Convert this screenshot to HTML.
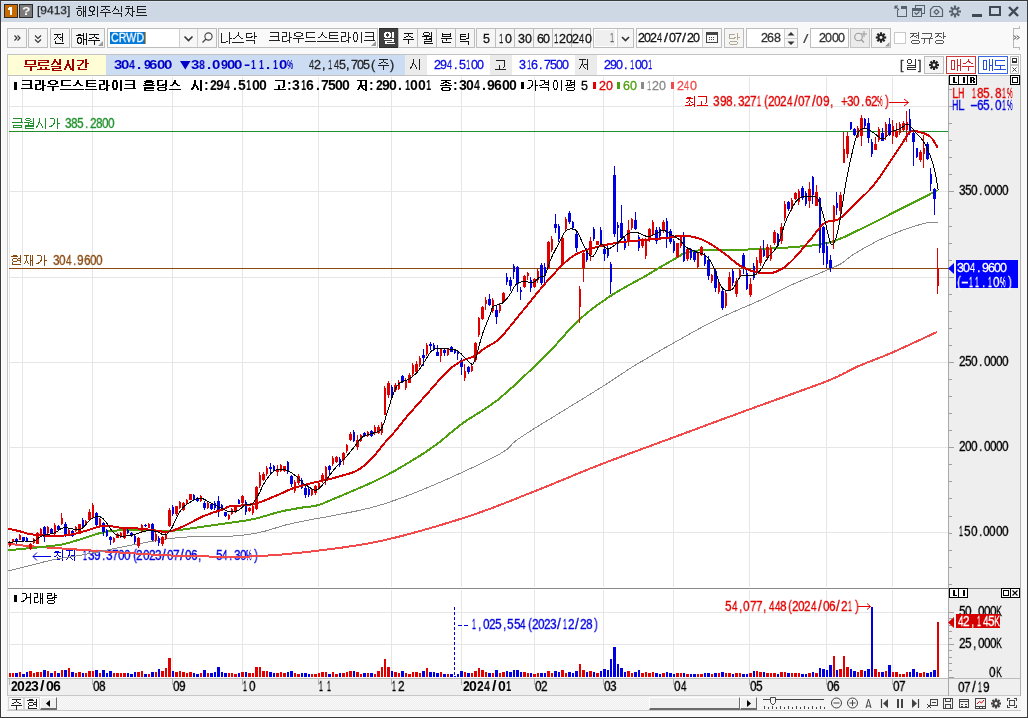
<!DOCTYPE html>
<html><head><meta charset="utf-8"><style>
html,body{margin:0;padding:0;width:1028px;height:718px;overflow:hidden;background:#f9f9f9}
.b{position:absolute}
.t{position:absolute;white-space:pre;font-family:"Liberation Sans", sans-serif;transform-origin:0 0;will-change:transform}
.tx{color:transparent;-webkit-text-stroke:0;pointer-events:none}
</style></head><body>
<div class="b" style="left:0px;top:0px;width:1028px;height:718px;background:#f9f9f9;"></div>
<div class="b" style="left:1px;top:1px;width:1026px;height:21px;background:#cdd8e4;"></div>
<div class="b" style="left:1px;top:1px;width:1026px;height:1px;background:#dbe5ef;"></div>
<div class="b" style="left:0px;top:0px;width:1028px;height:1px;background:#3a3a3a;"></div>
<div class="b" style="left:0px;top:717px;width:1028px;height:1px;background:#3a3a3a;"></div>
<div class="b" style="left:0px;top:0px;width:1px;height:718px;background:#3a3a3a;"></div>
<div class="b" style="left:1027px;top:0px;width:1px;height:718px;background:#3a3a3a;"></div>
<div class="b" style="left:1px;top:22px;width:1px;height:695px;background:#ffffff;"></div>
<div class="b" style="left:4px;top:4px;width:14px;height:14px;background:#c96a00;border:1px solid #2b2b2b;box-sizing:border-box;"></div>
<svg class="b" style="left:4px;top:4px" width="14" height="14" shape-rendering="crispEdges"><rect x="6" y="3" width="2" height="8" fill="#fff"/><rect x="4" y="4" width="2" height="2" fill="#fff"/><rect x="5" y="3" width="1" height="1" fill="#fff"/></svg>
<div class="b" style="left:19px;top:4px;width:14px;height:14px;background:#7b7b7b;border:1px solid #2b2b2b;box-sizing:border-box;"></div>
<div class="t" id="ic2" style="left:21.83px;top:6.11px;font-size:12px;line-height:12px;color:#fff;font-weight:bold;transform:scale(1.1667,0.8889);">?</div>
<div class="t" id="title" style="left:37.00px;top:5.08px;font-size:12px;line-height:12px;color:#1e1e1e;font-weight:normal;transform:scale(1.0000,0.9167);-webkit-text-stroke:0.25px #1e1e1e;">[9413]</div>
<svg class="b" style="left:0;top:0;overflow:visible" width="1" height="1"><path d="M78 6h3v1h-3zM83 6h1v1h-1zM85 6h1v1h-1zM83 7h1v1h-1zM85 7h1v1h-1zM76 8h6v1h-6zM83 8h1v1h-1zM85 8h1v1h-1zM83 9h1v1h-1zM85 9h1v1h-1zM78 10h3v1h-3zM83 10h1v1h-1zM85 10h1v1h-1zM77 11h1v1h-1zM81 11h1v1h-1zM83 11h3v1h-3zM77 12h1v1h-1zM81 12h1v1h-1zM83 12h1v1h-1zM85 12h1v1h-1zM77 13h1v1h-1zM81 13h1v1h-1zM83 13h1v1h-1zM85 13h1v1h-1zM77 14h1v1h-1zM81 14h1v1h-1zM83 14h1v1h-1zM85 14h1v1h-1zM78 15h3v1h-3zM83 15h1v1h-1zM85 15h1v1h-1zM83 16h1v1h-1zM85 16h1v1h-1zM90 6h4v1h-4zM97 6h1v1h-1zM89 7h2v1h-2zM93 7h2v1h-2zM97 7h1v1h-1zM89 8h1v1h-1zM94 8h1v1h-1zM97 8h1v1h-1zM89 9h1v1h-1zM94 9h1v1h-1zM97 9h1v1h-1zM89 10h2v1h-2zM93 10h2v1h-2zM97 10h1v1h-1zM90 11h4v1h-4zM97 11h1v1h-1zM92 12h1v1h-1zM97 12h1v1h-1zM92 13h1v1h-1zM97 13h1v1h-1zM92 14h3v1h-3zM97 14h1v1h-1zM88 15h4v1h-4zM97 15h1v1h-1zM97 16h1v1h-1zM101 6h9v1h-9zM105 7h1v1h-1zM105 8h1v1h-1zM103 9h2v1h-2zM106 9h2v1h-2zM101 10h2v1h-2zM108 10h2v1h-2zM100 12h11v1h-11zM105 13h1v1h-1zM105 14h1v1h-1zM105 15h1v1h-1zM105 16h1v1h-1zM115 6h1v1h-1zM121 6h1v1h-1zM115 7h1v1h-1zM121 7h1v1h-1zM114 8h2v1h-2zM121 8h1v1h-1zM114 9h1v1h-1zM116 9h2v1h-2zM121 9h1v1h-1zM113 10h1v1h-1zM118 10h1v1h-1zM121 10h1v1h-1zM112 11h1v1h-1zM118 11h1v1h-1zM121 11h1v1h-1zM113 13h9v1h-9zM121 14h1v1h-1zM121 15h1v1h-1zM121 16h1v1h-1zM126 6h4v1h-4zM132 6h1v1h-1zM132 7h1v1h-1zM125 8h8v1h-8zM128 9h1v1h-1zM132 9h1v1h-1zM128 10h1v1h-1zM132 10h1v1h-1zM128 11h1v1h-1zM132 11h3v1h-3zM127 12h2v1h-2zM132 12h1v1h-1zM127 13h1v1h-1zM129 13h1v1h-1zM132 13h1v1h-1zM126 14h1v1h-1zM130 14h1v1h-1zM132 14h1v1h-1zM125 15h1v1h-1zM131 15h2v1h-2zM132 16h1v1h-1zM137 6h9v1h-9zM137 7h1v1h-1zM137 8h1v1h-1zM137 9h9v1h-9zM137 10h1v1h-1zM137 11h1v1h-1zM137 12h9v1h-9zM136 15h11v1h-11z" fill="#1e1e1e" shape-rendering="crispEdges"/></svg>
<div class="t tx" style="left:76px;top:6px;font-size:12px;line-height:12px">해외주식차트</div>
<svg class="b" style="left:890px;top:0px" width="137" height="22" viewBox="890 0 137 22" shape-rendering="crispEdges">
<g fill="none" stroke="#56626e" stroke-width="1.2">
<path d="M897.5 9.5 V16.5 H906.5 V6.5 H900.5" /><path d="M900.5 7.5 H906.5" stroke-width="2"/>
<path d="M895 6 L899 10 M895 6 H898 M895 6 V9" shape-rendering="auto"/>
<rect x="915.5" y="5.5" width="9" height="8"/><rect x="912.5" y="8.5" width="9" height="8" fill="#cdd8e4"/>
<path d="M912.5 10 H921.5" stroke-width="2"/>
<path d="M914.5 12.5 L916.5 14.5 L919.5 11.5" shape-rendering="auto"/>
<path d="M930.5 16.5 V9.5 L933.5 6.5 H939.5 L942.5 9.5 V16.5 Z" shape-rendering="auto"/>
<path d="M936.5 9.5 L939 12 L936.5 14.5 L934 12 Z" shape-rendering="auto"/>
</g>
<g stroke="#56626e" stroke-width="2.2" shape-rendering="auto">
<path d="M955 5.5 V17.5 M949 11.5 H961 M950.8 7.3 L959.2 15.7 M959.2 7.3 L950.8 15.7"/>
</g>
<circle cx="955" cy="11.5" r="3.4" fill="#56626e" shape-rendering="auto"/>
<circle cx="955" cy="11.5" r="2.0" fill="#cdd8e4" shape-rendering="auto"/>
<rect x="972" y="14" width="10" height="2.5" fill="#3f4953"/>
<rect x="990" y="7" width="10" height="8" fill="none" stroke="#3f4953" stroke-width="2.4"/>
<path d="M1009 7 L1018 16 M1018 7 L1009 16" stroke="#3f4953" stroke-width="2.4" shape-rendering="auto"/>
</svg>
<div class="b" style="left:7px;top:28px;width:20px;height:20px;background:#f5f5f5;border:1px solid #bdbdbd;box-sizing:border-box;"></div>
<div class="b" style="left:28px;top:28px;width:20px;height:20px;background:#f5f5f5;border:1px solid #bdbdbd;box-sizing:border-box;"></div>
<div class="b" style="left:50px;top:28px;width:20px;height:20px;background:#f5f5f5;border:1px solid #bdbdbd;box-sizing:border-box;"></div>
<div class="b" style="left:71px;top:28px;width:34px;height:20px;background:#f5f5f5;border:1px solid #bdbdbd;box-sizing:border-box;"></div>
<svg class="b" style="left:7px;top:28px" width="20" height="20"><path d="M7.5 7.5 L10 10 L7.5 12.5 M10.5 7.5 L13 10 L10.5 12.5" fill="none" stroke="#333" stroke-width="1.1"/></svg>
<svg class="b" style="left:28px;top:28px" width="20" height="20"><path d="M7 7.5 L10 10.5 L13 7.5 M7 11.5 L10 14.5 L13 11.5" fill="none" stroke="#333" stroke-width="1.1"/></svg>
<svg class="b" style="left:0;top:0;overflow:visible" width="1" height="1"><path d="M62 33h1v1h-1zM54 34h7v1h-7zM62 34h1v1h-1zM57 35h1v1h-1zM62 35h1v1h-1zM57 36h1v1h-1zM62 36h1v1h-1zM56 37h1v1h-1zM58 37h1v1h-1zM60 37h3v1h-3zM55 38h1v1h-1zM59 38h1v1h-1zM62 38h1v1h-1zM54 39h1v1h-1zM60 39h1v1h-1zM62 39h1v1h-1zM62 40h1v1h-1zM55 41h1v1h-1zM62 41h1v1h-1zM55 42h1v1h-1zM55 43h9v1h-9z" fill="#111" shape-rendering="crispEdges"/></svg>
<div class="t tx" style="left:54px;top:33px;font-size:12px;line-height:12px">전</div>
<svg class="b" style="left:0;top:0;overflow:visible" width="1" height="1"><path d="M83 33h1v1h-1zM86 33h1v1h-1zM78 34h3v1h-3zM83 34h1v1h-1zM86 34h1v1h-1zM76 35h8v1h-8zM86 35h1v1h-1zM83 36h1v1h-1zM86 36h1v1h-1zM78 37h3v1h-3zM83 37h1v1h-1zM86 37h1v1h-1zM77 38h2v1h-2zM80 38h2v1h-2zM83 38h1v1h-1zM86 38h1v1h-1zM77 39h1v1h-1zM81 39h1v1h-1zM83 39h4v1h-4zM77 40h1v1h-1zM81 40h1v1h-1zM83 40h1v1h-1zM86 40h1v1h-1zM77 41h1v1h-1zM81 41h1v1h-1zM83 41h1v1h-1zM86 41h1v1h-1zM77 42h2v1h-2zM80 42h2v1h-2zM83 42h1v1h-1zM86 42h1v1h-1zM78 43h3v1h-3zM83 43h1v1h-1zM86 43h1v1h-1zM83 44h1v1h-1zM86 44h1v1h-1zM89 34h10v1h-10zM94 35h1v1h-1zM94 36h1v1h-1zM92 37h2v1h-2zM95 37h2v1h-2zM89 38h3v1h-3zM96 38h3v1h-3zM88 40h12v1h-12zM94 41h1v1h-1zM94 42h1v1h-1zM94 43h1v1h-1zM94 44h1v1h-1z" fill="#111" shape-rendering="crispEdges"/></svg>
<div class="t tx" style="left:76px;top:33px;font-size:12px;line-height:12px">해주</div>
<svg class="b" style="left:98px;top:41px" width="6" height="6"><path d="M5 0 V5 H0 Z" fill="#9a9a9a"/></svg>
<div class="b" style="left:107px;top:28px;width:110px;height:20px;background:#ffffff;border:1px solid #bdbdbd;box-sizing:border-box;"></div>
<div class="b" style="left:179px;top:29px;width:1px;height:18px;background:#d0d0d0;"></div>
<div class="b" style="left:197px;top:29px;width:1px;height:18px;background:#d0d0d0;"></div>
<div class="b" style="left:180px;top:29px;width:17px;height:18px;background:#f7f7f7;"></div>
<div class="b" style="left:198px;top:29px;width:18px;height:18px;background:#f7f7f7;"></div>
<div class="b" style="left:110px;top:32px;width:35px;height:12px;background:#0078d7;"></div>
<div class="t" id="crwd" style="left:111.00px;top:30.89px;font-size:12px;line-height:12px;color:#ffffff;font-weight:normal;transform:scale(0.8919,1.1111);-webkit-text-stroke:0.25px #ffffff;">CRWD</div>
<div class="b" style="left:145px;top:32px;width:1px;height:12px;background:#ff8c00;"></div>
<svg class="b" style="left:180px;top:29px" width="17" height="18"><path d="M4.5 7.5 L8.5 11.5 L12.5 7.5" fill="none" stroke="#333" stroke-width="1.6"/></svg>
<svg class="b" style="left:198px;top:29px" width="18" height="18"><circle cx="10.5" cy="7.5" r="3.6" fill="none" stroke="#444" stroke-width="1.1"/><path d="M8 10 L4.5 13.5" stroke="#444" stroke-width="1.3"/></svg>
<div class="b" style="left:218px;top:28px;width:160px;height:20px;background:#f9f9f9;border:1px solid #bdbdbd;box-sizing:border-box;"></div>
<svg class="b" style="left:0;top:0;overflow:visible" width="1" height="1"><path d="M229 32h1v1h-1zM221 33h1v1h-1zM229 33h1v1h-1zM221 34h1v1h-1zM229 34h1v1h-1zM221 35h1v1h-1zM229 35h1v1h-1zM221 36h1v1h-1zM229 36h1v1h-1zM221 37h1v1h-1zM229 37h1v1h-1zM221 38h1v1h-1zM229 38h3v1h-3zM221 39h1v1h-1zM229 39h1v1h-1zM221 40h1v1h-1zM229 40h1v1h-1zM221 41h1v1h-1zM226 41h2v1h-2zM229 41h1v1h-1zM221 42h5v1h-5zM229 42h1v1h-1zM229 43h1v1h-1zM238 32h1v1h-1zM238 33h1v1h-1zM238 34h1v1h-1zM237 35h2v1h-2zM236 36h1v1h-1zM239 36h1v1h-1zM235 37h1v1h-1zM240 37h1v1h-1zM233 38h2v1h-2zM241 38h2v1h-2zM232 42h12v1h-12zM254 32h1v1h-1zM246 33h6v1h-6zM254 33h1v1h-1zM246 34h1v1h-1zM254 34h1v1h-1zM246 35h1v1h-1zM254 35h1v1h-1zM246 36h1v1h-1zM251 36h2v1h-2zM254 36h3v1h-3zM246 37h6v1h-6zM254 37h1v1h-1zM254 38h1v1h-1zM246 40h9v1h-9zM254 41h1v1h-1zM254 42h1v1h-1zM254 43h1v1h-1z" fill="#222" shape-rendering="crispEdges"/></svg>
<div class="t tx" style="left:221px;top:32px;font-size:12px;line-height:12px">나스닥</div>
<svg class="b" style="left:0;top:0;overflow:visible" width="1" height="1"><path d="M270 32h9v1h-9zM278 33h1v1h-1zM278 34h1v1h-1zM278 35h1v1h-1zM270 36h9v1h-9zM278 37h1v1h-1zM278 38h1v1h-1zM278 39h1v1h-1zM269 40h11v1h-11zM282 32h5v1h-5zM289 32h1v1h-1zM286 33h1v1h-1zM289 33h1v1h-1zM286 34h1v1h-1zM289 34h1v1h-1zM286 35h1v1h-1zM289 35h1v1h-1zM282 36h5v1h-5zM289 36h1v1h-1zM282 37h1v1h-1zM289 37h3v1h-3zM282 38h1v1h-1zM289 38h1v1h-1zM282 39h1v1h-1zM289 39h1v1h-1zM282 40h1v1h-1zM287 40h3v1h-3zM282 41h5v1h-5zM289 41h1v1h-1zM289 42h1v1h-1zM296 32h5v1h-5zM294 33h2v1h-2zM301 33h2v1h-2zM294 34h1v1h-1zM302 34h1v1h-1zM294 35h2v1h-2zM301 35h2v1h-2zM296 36h5v1h-5zM293 38h11v1h-11zM298 39h1v1h-1zM298 40h1v1h-1zM298 41h1v1h-1zM298 42h1v1h-1zM306 32h9v1h-9zM306 33h1v1h-1zM306 34h1v1h-1zM306 35h1v1h-1zM306 36h1v1h-1zM306 37h9v1h-9zM305 41h11v1h-11zM322 32h1v1h-1zM322 33h1v1h-1zM321 34h2v1h-2zM321 35h1v1h-1zM323 35h1v1h-1zM320 36h1v1h-1zM324 36h1v1h-1zM318 37h2v1h-2zM325 37h2v1h-2zM317 41h11v1h-11zM329 32h9v1h-9zM329 33h1v1h-1zM329 34h1v1h-1zM329 35h9v1h-9zM329 36h1v1h-1zM329 37h1v1h-1zM329 38h9v1h-9zM328 41h11v1h-11zM341 32h5v1h-5zM348 32h1v1h-1zM345 33h1v1h-1zM348 33h1v1h-1zM345 34h1v1h-1zM348 34h1v1h-1zM345 35h1v1h-1zM348 35h1v1h-1zM341 36h5v1h-5zM348 36h1v1h-1zM341 37h1v1h-1zM348 37h3v1h-3zM341 38h1v1h-1zM348 38h1v1h-1zM341 39h1v1h-1zM348 39h1v1h-1zM341 40h1v1h-1zM346 40h3v1h-3zM341 41h5v1h-5zM348 41h1v1h-1zM348 42h1v1h-1zM354 32h3v1h-3zM361 32h1v1h-1zM354 33h1v1h-1zM356 33h1v1h-1zM361 33h1v1h-1zM353 34h1v1h-1zM357 34h1v1h-1zM361 34h1v1h-1zM353 35h1v1h-1zM357 35h1v1h-1zM361 35h1v1h-1zM353 36h1v1h-1zM357 36h1v1h-1zM361 36h1v1h-1zM353 37h1v1h-1zM357 37h1v1h-1zM361 37h1v1h-1zM353 38h1v1h-1zM357 38h1v1h-1zM361 38h1v1h-1zM353 39h1v1h-1zM357 39h1v1h-1zM361 39h1v1h-1zM354 40h1v1h-1zM356 40h1v1h-1zM361 40h1v1h-1zM354 41h3v1h-3zM361 41h1v1h-1zM361 42h1v1h-1zM365 32h9v1h-9zM373 33h1v1h-1zM373 34h1v1h-1zM373 35h1v1h-1zM365 36h9v1h-9zM373 37h1v1h-1zM373 38h1v1h-1zM373 39h1v1h-1zM364 40h11v1h-11z" fill="#222" shape-rendering="crispEdges"/></svg>
<div class="t tx" style="left:269px;top:32px;font-size:12px;line-height:12px">크라우드스트라이크</div>
<svg class="b" style="left:371px;top:41px" width="6" height="6"><path d="M5 0 V5 H0 Z" fill="#9a9a9a"/></svg>
<div class="b" style="left:379px;top:28px;width:20px;height:20px;background:#404040;border:1px solid #2e2e2e;box-sizing:border-box;"></div>
<svg class="b" style="left:0;top:0;overflow:visible" width="1" height="1"><path d="M385 32h5v1h-5zM392 32h2v1h-2zM384 33h3v1h-3zM388 33h3v1h-3zM392 33h2v1h-2zM384 34h2v1h-2zM389 34h2v1h-2zM392 34h2v1h-2zM384 35h2v1h-2zM389 35h2v1h-2zM392 35h2v1h-2zM384 36h3v1h-3zM388 36h3v1h-3zM392 36h2v1h-2zM385 37h5v1h-5zM392 37h2v1h-2zM384 39h10v1h-10zM392 40h2v1h-2zM385 41h9v1h-9zM385 42h2v1h-2zM385 43h10v1h-10z" fill="#ffffff" shape-rendering="crispEdges"/></svg>
<div class="t tx" style="left:384px;top:32px;font-size:12px;line-height:12px">일</div>
<div class="b" style="left:398px;top:28px;width:20px;height:20px;background:#f5f5f5;border:1px solid #bdbdbd;box-sizing:border-box;"></div>
<svg class="b" style="left:0;top:0;overflow:visible" width="1" height="1"><path d="M404 33h9v1h-9zM408 34h1v1h-1zM408 35h1v1h-1zM406 36h2v1h-2zM409 36h2v1h-2zM404 37h2v1h-2zM411 37h2v1h-2zM403 39h11v1h-11zM408 40h1v1h-1zM408 41h1v1h-1zM408 42h1v1h-1zM408 43h1v1h-1z" fill="#111" shape-rendering="crispEdges"/></svg>
<div class="t tx" style="left:403px;top:33px;font-size:12px;line-height:12px">주</div>
<div class="b" style="left:417px;top:28px;width:20px;height:20px;background:#f5f5f5;border:1px solid #bdbdbd;box-sizing:border-box;"></div>
<svg class="b" style="left:0;top:0;overflow:visible" width="1" height="1"><path d="M424 32h5v1h-5zM431 32h1v1h-1zM423 33h1v1h-1zM429 33h1v1h-1zM431 33h1v1h-1zM423 34h1v1h-1zM429 34h1v1h-1zM431 34h1v1h-1zM424 35h5v1h-5zM431 35h1v1h-1zM422 36h10v1h-10zM426 37h1v1h-1zM431 37h1v1h-1zM426 38h1v1h-1zM429 38h3v1h-3zM424 39h8v1h-8zM431 40h1v1h-1zM424 41h8v1h-8zM424 42h1v1h-1zM424 43h9v1h-9z" fill="#111" shape-rendering="crispEdges"/></svg>
<div class="t tx" style="left:422px;top:32px;font-size:12px;line-height:12px">월</div>
<div class="b" style="left:436px;top:28px;width:20px;height:20px;background:#f5f5f5;border:1px solid #bdbdbd;box-sizing:border-box;"></div>
<svg class="b" style="left:0;top:0;overflow:visible" width="1" height="1"><path d="M442 33h1v1h-1zM450 33h1v1h-1zM442 34h9v1h-9zM442 35h1v1h-1zM450 35h1v1h-1zM442 36h9v1h-9zM441 38h11v1h-11zM446 39h1v1h-1zM442 40h1v1h-1zM446 40h1v1h-1zM442 41h1v1h-1zM442 42h9v1h-9z" fill="#111" shape-rendering="crispEdges"/></svg>
<div class="t tx" style="left:441px;top:33px;font-size:12px;line-height:12px">분</div>
<div class="b" style="left:455px;top:28px;width:20px;height:20px;background:#f5f5f5;border:1px solid #bdbdbd;box-sizing:border-box;"></div>
<svg class="b" style="left:0;top:0;overflow:visible" width="1" height="1"><path d="M468 33h1v1h-1zM460 34h6v1h-6zM468 34h1v1h-1zM460 35h1v1h-1zM468 35h1v1h-1zM460 36h6v1h-6zM468 36h1v1h-1zM460 37h1v1h-1zM468 37h1v1h-1zM460 38h1v1h-1zM466 38h3v1h-3zM460 39h6v1h-6zM460 41h9v1h-9zM468 42h1v1h-1zM468 43h1v1h-1zM468 44h1v1h-1z" fill="#111" shape-rendering="crispEdges"/></svg>
<div class="t tx" style="left:460px;top:33px;font-size:12px;line-height:12px">틱</div>
<div class="b" style="left:476px;top:28px;width:20px;height:20px;background:#f5f5f5;border:1px solid #bdbdbd;box-sizing:border-box;"></div>
<div class="b" style="left:495px;top:28px;width:20px;height:20px;background:#f5f5f5;border:1px solid #bdbdbd;box-sizing:border-box;"></div>
<div class="b" style="left:514px;top:28px;width:20px;height:20px;background:#f5f5f5;border:1px solid #bdbdbd;box-sizing:border-box;"></div>
<div class="b" style="left:533px;top:28px;width:20px;height:20px;background:#f5f5f5;border:1px solid #bdbdbd;box-sizing:border-box;"></div>
<div class="b" style="left:552px;top:28px;width:20px;height:20px;background:#f5f5f5;border:1px solid #bdbdbd;box-sizing:border-box;"></div>
<div class="b" style="left:571px;top:28px;width:20px;height:20px;background:#f5f5f5;border:1px solid #bdbdbd;box-sizing:border-box;"></div>
<div class="t" style="left:483.00px;top:33.00px;font-size:12.5px;line-height:12.5px;color:#111;font-weight:normal;transform:scaleX(1.0000);-webkit-text-stroke:0.3px #111;">5</div>
<div class="t tx" style="left:484px;top:34px;font-size:12px;line-height:12px">5</div>
<div class="t" style="left:499.20px;top:33.00px;font-size:12.5px;line-height:12.5px;color:#111;font-weight:normal;transform:scaleX(0.6000);-webkit-text-stroke:0.3px #111;">1</div>
<div class="t" style="left:505.00px;top:33.00px;font-size:12.5px;line-height:12.5px;color:#111;font-weight:normal;transform:scaleX(1.0000);-webkit-text-stroke:0.3px #111;">0</div>
<div class="t tx" style="left:500px;top:34px;font-size:12px;line-height:12px">10</div>
<div class="t" style="left:518.00px;top:33.00px;font-size:12.5px;line-height:12.5px;color:#111;font-weight:normal;transform:scaleX(1.0000);-webkit-text-stroke:0.3px #111;">3</div>
<div class="t" style="left:524.55px;top:33.00px;font-size:12.5px;line-height:12.5px;color:#111;font-weight:normal;transform:scaleX(1.0000);-webkit-text-stroke:0.3px #111;">0</div>
<div class="t tx" style="left:519px;top:34px;font-size:12px;line-height:12px">30</div>
<div class="t" style="left:537.00px;top:33.00px;font-size:12.5px;line-height:12.5px;color:#111;font-weight:normal;transform:scaleX(1.0000);-webkit-text-stroke:0.3px #111;">6</div>
<div class="t" style="left:543.00px;top:33.00px;font-size:12.5px;line-height:12.5px;color:#111;font-weight:normal;transform:scaleX(1.0000);-webkit-text-stroke:0.3px #111;">0</div>
<div class="t tx" style="left:538px;top:34px;font-size:12px;line-height:12px">60</div>
<div class="t" style="left:554.34px;top:33.00px;font-size:12.5px;line-height:12.5px;color:#111;font-weight:normal;transform:scaleX(0.6000);-webkit-text-stroke:0.3px #111;">1</div>
<div class="t" style="left:559.31px;top:33.00px;font-size:12.5px;line-height:12.5px;color:#111;font-weight:normal;transform:scaleX(1.0000);-webkit-text-stroke:0.3px #111;">2</div>
<div class="t" style="left:565.69px;top:33.00px;font-size:12.5px;line-height:12.5px;color:#111;font-weight:normal;transform:scaleX(1.0000);-webkit-text-stroke:0.3px #111;">0</div>
<div class="t tx" style="left:555px;top:34px;font-size:12px;line-height:12px">120</div>
<div class="t" style="left:572.00px;top:33.00px;font-size:12.5px;line-height:12.5px;color:#111;font-weight:normal;transform:scaleX(1.0000);-webkit-text-stroke:0.3px #111;">2</div>
<div class="t" style="left:579.35px;top:33.00px;font-size:12.5px;line-height:12.5px;color:#111;font-weight:normal;transform:scaleX(0.7143);-webkit-text-stroke:0.3px #111;">4</div>
<div class="t" style="left:584.71px;top:33.00px;font-size:12.5px;line-height:12.5px;color:#111;font-weight:normal;transform:scaleX(1.0000);-webkit-text-stroke:0.3px #111;">0</div>
<div class="t tx" style="left:573px;top:34px;font-size:12px;line-height:12px">240</div>
<div class="b" style="left:593px;top:28px;width:41px;height:20px;background:#ffffff;border:1px solid #bdbdbd;box-sizing:border-box;"></div>
<div class="b" style="left:595px;top:30px;width:20px;height:16px;background:#efefef;"></div>
<div class="b" style="left:617px;top:29px;width:1px;height:18px;background:#d0d0d0;"></div>
<div class="b" style="left:618px;top:29px;width:15px;height:18px;background:#f5f5f5;"></div>
<div class="t" id="combo1" style="left:610.40px;top:32.00px;font-size:12px;line-height:12px;color:#666;font-weight:normal;transform:scale(0.6000,1.0000);-webkit-text-stroke:0.25px #666;">1</div>
<svg class="b" style="left:618px;top:29px" width="15" height="18"><path d="M4 8 L7.5 11.5 L11 8" fill="none" stroke="#333" stroke-width="1.6"/></svg>
<div class="b" style="left:636px;top:28px;width:86px;height:20px;background:#ffffff;border:1px solid #bdbdbd;box-sizing:border-box;"></div>
<div class="b" style="left:702px;top:29px;width:1px;height:18px;background:#d0d0d0;"></div>
<div class="b" style="left:703px;top:29px;width:18px;height:18px;background:#f7f7f7;"></div>
<div class="t" style="left:638.00px;top:32.00px;font-size:12.5px;line-height:12.5px;color:#111;font-weight:normal;transform:scaleX(1.0000);-webkit-text-stroke:0.3px #111;">2</div>
<div class="t" style="left:644.10px;top:32.00px;font-size:12.5px;line-height:12.5px;color:#111;font-weight:normal;transform:scaleX(1.0000);-webkit-text-stroke:0.3px #111;">0</div>
<div class="t" style="left:650.20px;top:32.00px;font-size:12.5px;line-height:12.5px;color:#111;font-weight:normal;transform:scaleX(1.0000);-webkit-text-stroke:0.3px #111;">2</div>
<div class="t" style="left:657.31px;top:32.00px;font-size:12.5px;line-height:12.5px;color:#111;font-weight:normal;transform:scaleX(0.7143);-webkit-text-stroke:0.3px #111;">4</div>
<div class="t" style="left:664.18px;top:32.00px;font-size:12.5px;line-height:12.5px;color:#111;font-weight:normal;transform:scaleX(1.1500);-webkit-text-stroke:0.3px #111;">/</div>
<div class="t" style="left:668.51px;top:32.00px;font-size:12.5px;line-height:12.5px;color:#111;font-weight:normal;transform:scaleX(1.0000);-webkit-text-stroke:0.3px #111;">0</div>
<div class="t" style="left:674.61px;top:32.00px;font-size:12.5px;line-height:12.5px;color:#111;font-weight:normal;transform:scaleX(1.0000);-webkit-text-stroke:0.3px #111;">7</div>
<div class="t" style="left:682.49px;top:32.00px;font-size:12.5px;line-height:12.5px;color:#111;font-weight:normal;transform:scaleX(1.1500);-webkit-text-stroke:0.3px #111;">/</div>
<div class="t" style="left:686.81px;top:32.00px;font-size:12.5px;line-height:12.5px;color:#111;font-weight:normal;transform:scaleX(1.0000);-webkit-text-stroke:0.3px #111;">2</div>
<div class="t" style="left:692.92px;top:32.00px;font-size:12.5px;line-height:12.5px;color:#111;font-weight:normal;transform:scaleX(1.0000);-webkit-text-stroke:0.3px #111;">0</div>
<div class="t tx" style="left:639px;top:33px;font-size:12px;line-height:12px">2024/07/20</div>
<svg class="b" style="left:706px;top:32px" width="12" height="11" shape-rendering="crispEdges"><rect x="0.5" y="0.5" width="11" height="10" fill="none" stroke="#444"/><rect x="1" y="1" width="10" height="2" fill="#444"/><g fill="#444"><rect x="3" y="5" width="1" height="1"/><rect x="5" y="5" width="1" height="1"/><rect x="7" y="5" width="1" height="1"/><rect x="3" y="7" width="1" height="1"/><rect x="5" y="7" width="1" height="1"/><rect x="7" y="7" width="1" height="1"/></g></svg>
<div class="b" style="left:724px;top:28px;width:20px;height:20px;background:#f5f5f5;border:1px solid #bdbdbd;box-sizing:border-box;"></div>
<svg class="b" style="left:0;top:0;overflow:visible" width="1" height="1"><path d="M737 33h1v1h-1zM729 34h6v1h-6zM737 34h1v1h-1zM729 35h1v1h-1zM737 35h1v1h-1zM729 36h1v1h-1zM737 36h1v1h-1zM729 37h1v1h-1zM734 37h2v1h-2zM737 37h3v1h-3zM729 38h6v1h-6zM737 38h1v1h-1zM737 39h1v1h-1zM730 41h7v1h-7zM729 42h1v1h-1zM737 42h1v1h-1zM729 43h1v1h-1zM737 43h1v1h-1zM730 44h7v1h-7z" fill="#b0a890" shape-rendering="crispEdges"/></svg>
<div class="t tx" style="left:729px;top:33px;font-size:12px;line-height:12px">당</div>
<div class="b" style="left:746px;top:28px;width:52px;height:20px;background:#ffffff;border:1px solid #bdbdbd;box-sizing:border-box;"></div>
<div class="b" style="left:784px;top:29px;width:1px;height:18px;background:#d0d0d0;"></div>
<div class="b" style="left:785px;top:29px;width:12px;height:18px;background:#f7f7f7;"></div>
<div class="b" style="left:785px;top:38px;width:12px;height:1px;background:#d0d0d0;"></div>
<div class="t" style="left:761.00px;top:32.00px;font-size:12.5px;line-height:12.5px;color:#333;font-weight:normal;transform:scaleX(1.0000);-webkit-text-stroke:0.3px #333;">2</div>
<div class="t" style="left:767.35px;top:32.00px;font-size:12.5px;line-height:12.5px;color:#333;font-weight:normal;transform:scaleX(1.0000);-webkit-text-stroke:0.3px #333;">6</div>
<div class="t" style="left:773.71px;top:32.00px;font-size:12.5px;line-height:12.5px;color:#333;font-weight:normal;transform:scaleX(1.0000);-webkit-text-stroke:0.3px #333;">8</div>
<div class="t tx" style="left:762px;top:33px;font-size:12px;line-height:12px">268</div>
<svg class="b" style="left:785px;top:29px" width="12" height="18"><path d="M2.5 6.5 L6 3 L9.5 6.5 Z M2.5 12.5 L6 16 L9.5 12.5 Z" fill="#333"/></svg>
<div class="t" id="slash" style="left:803.00px;top:33.00px;font-size:12px;line-height:12px;color:#444;font-weight:normal;transform:scale(1.6667,1.0000);">/</div>
<div class="b" style="left:810px;top:28px;width:39px;height:20px;background:#ffffff;border:1px solid #bdbdbd;box-sizing:border-box;"></div>
<div class="t" style="left:819.00px;top:32.00px;font-size:12.5px;line-height:12.5px;color:#333;font-weight:normal;transform:scaleX(1.0000);-webkit-text-stroke:0.3px #333;">2</div>
<div class="t" style="left:825.26px;top:32.00px;font-size:12.5px;line-height:12.5px;color:#333;font-weight:normal;transform:scaleX(1.0000);-webkit-text-stroke:0.3px #333;">0</div>
<div class="t" style="left:831.52px;top:32.00px;font-size:12.5px;line-height:12.5px;color:#333;font-weight:normal;transform:scaleX(1.0000);-webkit-text-stroke:0.3px #333;">0</div>
<div class="t" style="left:837.78px;top:32.00px;font-size:12.5px;line-height:12.5px;color:#333;font-weight:normal;transform:scaleX(1.0000);-webkit-text-stroke:0.3px #333;">0</div>
<div class="t tx" style="left:820px;top:33px;font-size:12px;line-height:12px">2000</div>
<div class="b" style="left:850px;top:28px;width:20px;height:20px;background:#ebebeb;border:1px solid #c4c4c4;box-sizing:border-box;"></div>
<svg class="b" style="left:850px;top:28px" width="20" height="20"><circle cx="8.5" cy="9" r="3.8" fill="none" stroke="#9a9a9a" stroke-width="1.1"/><path d="M11 11.5 L14 14.5" stroke="#9a9a9a" stroke-width="1.2"/><path d="M14 3 V9 M11 6 H17" stroke="#9a9a9a" stroke-width="1"/></svg>
<div class="b" style="left:871px;top:28px;width:20px;height:20px;background:#f5f5f5;border:1px solid #bdbdbd;box-sizing:border-box;"></div>
<svg class="b" style="left:871px;top:28px" width="20" height="20"><g stroke="#222" stroke-width="2.2" stroke-linecap="butt"><path d="M4.80 9.50 L15.20 9.50"/><path d="M6.32 5.82 L13.68 13.18"/><path d="M10.00 4.30 L10.00 14.70"/><path d="M13.68 5.82 L6.32 13.18"/></g><circle cx="10" cy="9.5" r="3.22" fill="#222"/><circle cx="10" cy="9.5" r="1.46" fill="#f4f4f4"/><path d="M18.5 14 V18.5 H14 Z" fill="#9a9a9a"/></svg>
<div class="b" style="left:894px;top:32px;width:12px;height:12px;background:#ffffff;border:1px solid #c8c8c8;box-sizing:border-box;"></div>
<svg class="b" style="left:0;top:0;overflow:visible" width="1" height="1"><path d="M918 32h1v1h-1zM910 33h7v1h-7zM918 33h1v1h-1zM913 34h1v1h-1zM918 34h1v1h-1zM912 35h2v1h-2zM916 35h3v1h-3zM911 36h2v1h-2zM914 36h2v1h-2zM918 36h1v1h-1zM910 37h1v1h-1zM916 37h1v1h-1zM918 37h1v1h-1zM918 38h1v1h-1zM912 40h7v1h-7zM911 41h1v1h-1zM919 41h1v1h-1zM911 42h1v1h-1zM919 42h1v1h-1zM912 43h7v1h-7zM922 33h10v1h-10zM931 34h1v1h-1zM931 35h1v1h-1zM931 36h1v1h-1zM930 37h1v1h-1zM921 38h12v1h-12zM924 39h1v1h-1zM929 39h1v1h-1zM924 40h1v1h-1zM929 40h1v1h-1zM924 41h1v1h-1zM929 41h1v1h-1zM924 42h1v1h-1zM929 42h1v1h-1zM923 43h1v1h-1zM929 43h1v1h-1zM943 32h1v1h-1zM935 33h7v1h-7zM943 33h1v1h-1zM938 34h1v1h-1zM943 34h1v1h-1zM937 35h2v1h-2zM943 35h1v1h-1zM936 36h2v1h-2zM939 36h2v1h-2zM943 36h3v1h-3zM935 37h1v1h-1zM941 37h1v1h-1zM943 37h1v1h-1zM943 38h1v1h-1zM936 40h7v1h-7zM935 41h1v1h-1zM943 41h1v1h-1zM935 42h1v1h-1zM943 42h1v1h-1zM936 43h7v1h-7z" fill="#555" shape-rendering="crispEdges"/></svg>
<div class="t tx" style="left:910px;top:32px;font-size:12px;line-height:12px">정규장</div>
<svg class="b" style="left:1012px;top:26px" width="10" height="24" shape-rendering="crispEdges"><path d="M7.5 0 V2.5 H1.5 V21.5 H7.5 V24" fill="none" stroke="#b8b8b8"/></svg>
<svg class="b" style="left:1013px;top:34px" width="8" height="8"><path d="M1 1.5 L3 3.5 L1 5.5 M4 1.5 L6 3.5 L4 5.5" fill="none" stroke="#222" stroke-width="1"/></svg>
<div class="b" style="left:7px;top:54px;width:1014px;height:22px;background:#ffffff;border:1px solid #c2c2c2;box-sizing:border-box;"></div>
<div class="b" style="left:8px;top:55px;width:98px;height:20px;background:#fffdd5;"></div>
<div class="b" style="left:106px;top:55px;width:299px;height:20px;background:#ccdcf2;"></div>
<div class="b" style="left:405px;top:55px;width:22px;height:20px;background:#ebebeb;"></div>
<div class="b" style="left:490px;top:55px;width:22px;height:20px;background:#ebebeb;"></div>
<div class="b" style="left:575px;top:55px;width:22px;height:20px;background:#ebebeb;"></div>
<svg class="b" style="left:0;top:0;overflow:visible" width="1" height="1"><path d="M25 60h11v1h-11zM25 61h2v1h-2zM34 61h2v1h-2zM25 62h2v1h-2zM34 62h2v1h-2zM25 63h2v1h-2zM34 63h2v1h-2zM25 64h11v1h-11zM24 66h13v1h-13zM30 67h2v1h-2zM30 68h2v1h-2zM30 69h2v1h-2zM30 70h2v1h-2zM38 60h11v1h-11zM47 61h2v1h-2zM38 62h11v1h-11zM38 63h2v1h-2zM38 64h2v1h-2zM38 65h11v1h-11zM40 67h2v1h-2zM45 67h2v1h-2zM40 68h2v1h-2zM45 68h2v1h-2zM37 69h13v1h-13zM54 59h2v1h-2zM59 59h2v1h-2zM54 60h2v1h-2zM59 60h2v1h-2zM53 61h4v1h-4zM59 61h2v1h-2zM53 62h2v1h-2zM56 62h2v1h-2zM59 62h2v1h-2zM52 63h2v1h-2zM57 63h4v1h-4zM51 64h2v1h-2zM57 64h4v1h-4zM51 66h10v1h-10zM59 67h2v1h-2zM52 68h9v1h-9zM52 69h2v1h-2zM52 70h10v1h-10zM72 59h2v1h-2zM67 60h2v1h-2zM72 60h2v1h-2zM67 61h2v1h-2zM72 61h2v1h-2zM67 62h2v1h-2zM72 62h2v1h-2zM67 63h2v1h-2zM72 63h2v1h-2zM66 64h4v1h-4zM72 64h2v1h-2zM66 65h4v1h-4zM72 65h2v1h-2zM65 66h2v1h-2zM69 66h2v1h-2zM72 66h2v1h-2zM65 67h2v1h-2zM69 67h2v1h-2zM72 67h2v1h-2zM64 68h2v1h-2zM70 68h4v1h-4zM64 69h2v1h-2zM70 69h4v1h-4zM72 70h2v1h-2zM85 59h2v1h-2zM77 60h7v1h-7zM85 60h2v1h-2zM82 61h2v1h-2zM85 61h2v1h-2zM82 62h2v1h-2zM85 62h2v1h-2zM81 63h2v1h-2zM85 63h4v1h-4zM80 64h2v1h-2zM85 64h2v1h-2zM77 65h4v1h-4zM85 65h2v1h-2zM85 66h2v1h-2zM78 67h2v1h-2zM85 67h2v1h-2zM78 68h2v1h-2zM78 69h9v1h-9z" fill="#a00000" shape-rendering="crispEdges"/></svg>
<div class="t tx" style="left:24px;top:59px;font-size:12px;line-height:12px">무료실시간</div>
<div class="t" style="left:113.80px;top:59.00px;font-size:12.5px;line-height:12.5px;color:#0000c8;font-weight:bold;transform:scaleX(1.2000);">3</div>
<div class="t" style="left:120.93px;top:59.00px;font-size:12.5px;line-height:12.5px;color:#0000c8;font-weight:bold;transform:scaleX(1.2000);">0</div>
<div class="t" style="left:129.25px;top:59.00px;font-size:12.5px;line-height:12.5px;color:#0000c8;font-weight:bold;transform:scaleX(0.8571);">4</div>
<div class="t" style="left:136.98px;top:59.00px;font-size:12.5px;line-height:12.5px;color:#0000c8;font-weight:bold;transform:scaleX(1.2000);">.</div>
<div class="t" style="left:143.51px;top:59.00px;font-size:12.5px;line-height:12.5px;color:#0000c8;font-weight:bold;transform:scaleX(1.0000);">9</div>
<div class="t" style="left:149.44px;top:59.00px;font-size:12.5px;line-height:12.5px;color:#0000c8;font-weight:bold;transform:scaleX(1.2000);">6</div>
<div class="t" style="left:156.56px;top:59.00px;font-size:12.5px;line-height:12.5px;color:#0000c8;font-weight:bold;transform:scaleX(1.2000);">0</div>
<div class="t" style="left:163.69px;top:59.00px;font-size:12.5px;line-height:12.5px;color:#0000c8;font-weight:bold;transform:scaleX(1.2000);">0</div>
<div class="t tx" style="left:115px;top:60px;font-size:12px;line-height:12px">304.9600</div>
<svg class="b" style="left:180px;top:61px" width="11" height="9"><path d="M0 0 H10.5 L5.25 8.5 Z" fill="#0000c8"/></svg>
<div class="t" style="left:190.80px;top:59.00px;font-size:12.5px;line-height:12.5px;color:#0000c8;font-weight:bold;transform:scaleX(1.2000);">3</div>
<div class="t" style="left:199.15px;top:59.00px;font-size:12.5px;line-height:12.5px;color:#0000c8;font-weight:bold;transform:scaleX(0.8571);">8</div>
<div class="t" style="left:206.89px;top:59.00px;font-size:12.5px;line-height:12.5px;color:#0000c8;font-weight:bold;transform:scaleX(1.2000);">.</div>
<div class="t" style="left:212.24px;top:59.00px;font-size:12.5px;line-height:12.5px;color:#0000c8;font-weight:bold;transform:scaleX(1.2000);">0</div>
<div class="t" style="left:220.58px;top:59.00px;font-size:12.5px;line-height:12.5px;color:#0000c8;font-weight:bold;transform:scaleX(1.0000);">9</div>
<div class="t" style="left:226.53px;top:59.00px;font-size:12.5px;line-height:12.5px;color:#0000c8;font-weight:bold;transform:scaleX(1.2000);">0</div>
<div class="t" style="left:233.68px;top:59.00px;font-size:12.5px;line-height:12.5px;color:#0000c8;font-weight:bold;transform:scaleX(1.2000);">0</div>
<div class="t tx" style="left:192px;top:60px;font-size:12px;line-height:12px">38.0900</div>
<div class="t" style="left:244.00px;top:59.00px;font-size:12.5px;line-height:12.5px;color:#0000c8;font-weight:bold;transform:scaleX(1.5000);">-</div>
<div class="t" style="left:251.48px;top:59.00px;font-size:12.5px;line-height:12.5px;color:#0000c8;font-weight:bold;transform:scaleX(0.6667);">1</div>
<div class="t" style="left:258.62px;top:59.00px;font-size:12.5px;line-height:12.5px;color:#0000c8;font-weight:bold;transform:scaleX(0.6667);">1</div>
<div class="t" style="left:266.04px;top:59.00px;font-size:12.5px;line-height:12.5px;color:#0000c8;font-weight:bold;transform:scaleX(1.2000);">.</div>
<div class="t" style="left:272.92px;top:59.00px;font-size:12.5px;line-height:12.5px;color:#0000c8;font-weight:bold;transform:scaleX(0.6667);">1</div>
<div class="t" style="left:278.53px;top:59.00px;font-size:12.5px;line-height:12.5px;color:#0000c8;font-weight:bold;transform:scaleX(1.2000);">0</div>
<div class="t" style="left:286.88px;top:59.00px;font-size:12.5px;line-height:12.5px;color:#0000c8;font-weight:bold;transform:scaleX(0.5455);">%</div>
<div class="t tx" style="left:244px;top:60px;font-size:12px;line-height:12px">-11.10%</div>
<div class="t" style="left:309.00px;top:59.00px;font-size:12.5px;line-height:12.5px;color:#222;font-weight:normal;transform:scaleX(0.7143);-webkit-text-stroke:0.3px #222;">4</div>
<div class="t" style="left:314.15px;top:59.00px;font-size:12.5px;line-height:12.5px;color:#222;font-weight:normal;transform:scaleX(1.0000);-webkit-text-stroke:0.3px #222;">2</div>
<div class="t" style="left:321.79px;top:59.00px;font-size:12.5px;line-height:12.5px;color:#222;font-weight:normal;transform:scaleX(1.0000);-webkit-text-stroke:0.3px #222;">,</div>
<div class="t" style="left:327.84px;top:59.00px;font-size:12.5px;line-height:12.5px;color:#222;font-weight:normal;transform:scaleX(0.6000);-webkit-text-stroke:0.3px #222;">1</div>
<div class="t" style="left:333.59px;top:59.00px;font-size:12.5px;line-height:12.5px;color:#222;font-weight:normal;transform:scaleX(0.7143);-webkit-text-stroke:0.3px #222;">4</div>
<div class="t" style="left:338.73px;top:59.00px;font-size:12.5px;line-height:12.5px;color:#222;font-weight:normal;transform:scaleX(1.0000);-webkit-text-stroke:0.3px #222;">5</div>
<div class="t" style="left:346.38px;top:59.00px;font-size:12.5px;line-height:12.5px;color:#222;font-weight:normal;transform:scaleX(1.0000);-webkit-text-stroke:0.3px #222;">,</div>
<div class="t" style="left:351.02px;top:59.00px;font-size:12.5px;line-height:12.5px;color:#222;font-weight:normal;transform:scaleX(1.0000);-webkit-text-stroke:0.3px #222;">7</div>
<div class="t" style="left:357.17px;top:59.00px;font-size:12.5px;line-height:12.5px;color:#222;font-weight:normal;transform:scaleX(1.0000);-webkit-text-stroke:0.3px #222;">0</div>
<div class="t" style="left:363.32px;top:59.00px;font-size:12.5px;line-height:12.5px;color:#222;font-weight:normal;transform:scaleX(1.0000);-webkit-text-stroke:0.3px #222;">5</div>
<div class="t" style="left:371.46px;top:59.00px;font-size:12.5px;line-height:12.5px;color:#222;font-weight:normal;transform:scaleX(1.0000);-webkit-text-stroke:0.3px #222;">(</div>
<div class="t" style="left:389.90px;top:59.00px;font-size:12.5px;line-height:12.5px;color:#222;font-weight:normal;transform:scaleX(1.0000);-webkit-text-stroke:0.3px #222;">)</div>
<svg class="b" style="left:0;top:0;overflow:visible" width="1" height="1"><path d="M379 59h9v1h-9zM383 60h1v1h-1zM383 61h1v1h-1zM381 62h2v1h-2zM384 62h2v1h-2zM379 63h2v1h-2zM386 63h2v1h-2zM378 65h11v1h-11zM383 66h1v1h-1zM383 67h1v1h-1zM383 68h1v1h-1zM383 69h1v1h-1z" fill="#222" shape-rendering="crispEdges"/></svg>
<div class="t tx" style="left:309px;top:59px;font-size:12px;line-height:12px">42,145,705(주)</div>
<svg class="b" style="left:0;top:0;overflow:visible" width="1" height="1"><path d="M413 59h1v1h-1zM419 59h1v1h-1zM413 60h1v1h-1zM419 60h1v1h-1zM413 61h1v1h-1zM419 61h1v1h-1zM413 62h1v1h-1zM419 62h1v1h-1zM412 63h2v1h-2zM419 63h1v1h-1zM412 64h1v1h-1zM414 64h1v1h-1zM419 64h1v1h-1zM412 65h1v1h-1zM415 65h1v1h-1zM419 65h1v1h-1zM411 66h1v1h-1zM415 66h1v1h-1zM419 66h1v1h-1zM410 67h2v1h-2zM416 67h1v1h-1zM419 67h1v1h-1zM410 68h1v1h-1zM416 68h1v1h-1zM419 68h1v1h-1zM419 69h1v1h-1z" fill="#222" shape-rendering="crispEdges"/></svg>
<div class="t tx" style="left:410px;top:59px;font-size:12px;line-height:12px">시</div>
<div class="t" style="left:434.00px;top:59.00px;font-size:12.5px;line-height:12.5px;color:#0a0ae6;font-weight:normal;transform:scaleX(1.0000);-webkit-text-stroke:0.3px #0a0ae6;">2</div>
<div class="t" style="left:440.13px;top:59.00px;font-size:12.5px;line-height:12.5px;color:#0a0ae6;font-weight:normal;transform:scaleX(1.0000);-webkit-text-stroke:0.3px #0a0ae6;">9</div>
<div class="t" style="left:447.26px;top:59.00px;font-size:12.5px;line-height:12.5px;color:#0a0ae6;font-weight:normal;transform:scaleX(0.7143);-webkit-text-stroke:0.3px #0a0ae6;">4</div>
<div class="t" style="left:454.38px;top:59.00px;font-size:12.5px;line-height:12.5px;color:#0a0ae6;font-weight:normal;transform:scaleX(1.0000);-webkit-text-stroke:0.3px #0a0ae6;">.</div>
<div class="t" style="left:458.51px;top:59.00px;font-size:12.5px;line-height:12.5px;color:#0a0ae6;font-weight:normal;transform:scaleX(1.0000);-webkit-text-stroke:0.3px #0a0ae6;">5</div>
<div class="t" style="left:466.04px;top:59.00px;font-size:12.5px;line-height:12.5px;color:#0a0ae6;font-weight:normal;transform:scaleX(0.6000);-webkit-text-stroke:0.3px #0a0ae6;">1</div>
<div class="t" style="left:470.77px;top:59.00px;font-size:12.5px;line-height:12.5px;color:#0a0ae6;font-weight:normal;transform:scaleX(1.0000);-webkit-text-stroke:0.3px #0a0ae6;">0</div>
<div class="t" style="left:476.89px;top:59.00px;font-size:12.5px;line-height:12.5px;color:#0a0ae6;font-weight:normal;transform:scaleX(1.0000);-webkit-text-stroke:0.3px #0a0ae6;">0</div>
<div class="t tx" style="left:435px;top:60px;font-size:12px;line-height:12px">294.5100</div>
<svg class="b" style="left:0;top:0;overflow:visible" width="1" height="1"><path d="M496 60h9v1h-9zM504 61h1v1h-1zM504 62h1v1h-1zM504 63h1v1h-1zM504 64h1v1h-1zM499 65h1v1h-1zM504 65h1v1h-1zM499 66h1v1h-1zM504 66h1v1h-1zM499 67h1v1h-1zM503 67h1v1h-1zM499 68h1v1h-1zM495 69h11v1h-11z" fill="#222" shape-rendering="crispEdges"/></svg>
<div class="t tx" style="left:495px;top:60px;font-size:12px;line-height:12px">고</div>
<div class="t" style="left:519.00px;top:59.00px;font-size:12.5px;line-height:12.5px;color:#0a0ae6;font-weight:normal;transform:scaleX(1.0000);-webkit-text-stroke:0.3px #0a0ae6;">3</div>
<div class="t" style="left:526.53px;top:59.00px;font-size:12.5px;line-height:12.5px;color:#0a0ae6;font-weight:normal;transform:scaleX(0.6000);-webkit-text-stroke:0.3px #0a0ae6;">1</div>
<div class="t" style="left:531.26px;top:59.00px;font-size:12.5px;line-height:12.5px;color:#0a0ae6;font-weight:normal;transform:scaleX(1.0000);-webkit-text-stroke:0.3px #0a0ae6;">6</div>
<div class="t" style="left:539.38px;top:59.00px;font-size:12.5px;line-height:12.5px;color:#0a0ae6;font-weight:normal;transform:scaleX(1.0000);-webkit-text-stroke:0.3px #0a0ae6;">.</div>
<div class="t" style="left:543.51px;top:59.00px;font-size:12.5px;line-height:12.5px;color:#0a0ae6;font-weight:normal;transform:scaleX(1.0000);-webkit-text-stroke:0.3px #0a0ae6;">7</div>
<div class="t" style="left:549.64px;top:59.00px;font-size:12.5px;line-height:12.5px;color:#0a0ae6;font-weight:normal;transform:scaleX(1.0000);-webkit-text-stroke:0.3px #0a0ae6;">5</div>
<div class="t" style="left:555.77px;top:59.00px;font-size:12.5px;line-height:12.5px;color:#0a0ae6;font-weight:normal;transform:scaleX(1.0000);-webkit-text-stroke:0.3px #0a0ae6;">0</div>
<div class="t" style="left:561.89px;top:59.00px;font-size:12.5px;line-height:12.5px;color:#0a0ae6;font-weight:normal;transform:scaleX(1.0000);-webkit-text-stroke:0.3px #0a0ae6;">0</div>
<div class="t tx" style="left:520px;top:60px;font-size:12px;line-height:12px">316.7500</div>
<svg class="b" style="left:0;top:0;overflow:visible" width="1" height="1"><path d="M579 59h7v1h-7zM587 59h1v1h-1zM582 60h1v1h-1zM587 60h1v1h-1zM582 61h1v1h-1zM587 61h1v1h-1zM582 62h1v1h-1zM587 62h1v1h-1zM582 63h1v1h-1zM587 63h1v1h-1zM581 64h2v1h-2zM584 64h4v1h-4zM581 65h1v1h-1zM583 65h1v1h-1zM587 65h1v1h-1zM580 66h1v1h-1zM583 66h1v1h-1zM587 66h1v1h-1zM580 67h1v1h-1zM584 67h1v1h-1zM587 67h1v1h-1zM579 68h1v1h-1zM585 68h1v1h-1zM587 68h1v1h-1zM587 69h1v1h-1z" fill="#222" shape-rendering="crispEdges"/></svg>
<div class="t tx" style="left:579px;top:59px;font-size:12px;line-height:12px">저</div>
<div class="t" style="left:604.00px;top:59.00px;font-size:12.5px;line-height:12.5px;color:#0a0ae6;font-weight:normal;transform:scaleX(1.0000);-webkit-text-stroke:0.3px #0a0ae6;">2</div>
<div class="t" style="left:610.13px;top:59.00px;font-size:12.5px;line-height:12.5px;color:#0a0ae6;font-weight:normal;transform:scaleX(1.0000);-webkit-text-stroke:0.3px #0a0ae6;">9</div>
<div class="t" style="left:616.26px;top:59.00px;font-size:12.5px;line-height:12.5px;color:#0a0ae6;font-weight:normal;transform:scaleX(1.0000);-webkit-text-stroke:0.3px #0a0ae6;">0</div>
<div class="t" style="left:624.39px;top:59.00px;font-size:12.5px;line-height:12.5px;color:#0a0ae6;font-weight:normal;transform:scaleX(1.0000);-webkit-text-stroke:0.3px #0a0ae6;">.</div>
<div class="t" style="left:629.92px;top:59.00px;font-size:12.5px;line-height:12.5px;color:#0a0ae6;font-weight:normal;transform:scaleX(0.6000);-webkit-text-stroke:0.3px #0a0ae6;">1</div>
<div class="t" style="left:634.65px;top:59.00px;font-size:12.5px;line-height:12.5px;color:#0a0ae6;font-weight:normal;transform:scaleX(1.0000);-webkit-text-stroke:0.3px #0a0ae6;">0</div>
<div class="t" style="left:640.78px;top:59.00px;font-size:12.5px;line-height:12.5px;color:#0a0ae6;font-weight:normal;transform:scaleX(1.0000);-webkit-text-stroke:0.3px #0a0ae6;">0</div>
<div class="t" style="left:648.31px;top:59.00px;font-size:12.5px;line-height:12.5px;color:#0a0ae6;font-weight:normal;transform:scaleX(0.6000);-webkit-text-stroke:0.3px #0a0ae6;">1</div>
<div class="t tx" style="left:605px;top:60px;font-size:12px;line-height:12px">290.1001</div>
<div class="t" style="left:899.50px;top:59.00px;font-size:12.5px;line-height:12.5px;color:#333;font-weight:normal;transform:scaleX(1.0000);-webkit-text-stroke:0.3px #333;">[</div>
<div class="t" style="left:918.00px;top:59.00px;font-size:12.5px;line-height:12.5px;color:#333;font-weight:normal;transform:scaleX(1.0000);-webkit-text-stroke:0.3px #333;">]</div>
<svg class="b" style="left:0;top:0;overflow:visible" width="1" height="1"><path d="M908 59h3v1h-3zM915 59h1v1h-1zM907 60h1v1h-1zM911 60h1v1h-1zM915 60h1v1h-1zM907 61h1v1h-1zM911 61h1v1h-1zM915 61h1v1h-1zM907 62h1v1h-1zM911 62h1v1h-1zM915 62h1v1h-1zM908 63h3v1h-3zM915 63h1v1h-1zM915 64h1v1h-1zM907 65h9v1h-9zM915 66h1v1h-1zM907 67h9v1h-9zM907 68h1v1h-1zM907 69h9v1h-9z" fill="#333" shape-rendering="crispEdges"/></svg>
<div class="t tx" style="left:900px;top:59px;font-size:12px;line-height:12px">[일]</div>
<div class="b" style="left:924px;top:56px;width:20px;height:18px;background:#f5f5f5;border:1px solid #bdbdbd;box-sizing:border-box;"></div>
<svg class="b" style="left:924px;top:56px" width="20" height="18"><g stroke="#222" stroke-width="2.2" stroke-linecap="butt"><path d="M5.00 9.00 L15.00 9.00"/><path d="M6.46 5.46 L13.54 12.54"/><path d="M10.00 4.00 L10.00 14.00"/><path d="M13.54 5.46 L6.46 12.54"/></g><circle cx="10" cy="9" r="3.10" fill="#222"/><circle cx="10" cy="9" r="1.40" fill="#f4f4f4"/></svg>
<div class="b" style="left:946px;top:56px;width:30px;height:18px;background:#ffffff;border:1px solid #d03a3a;box-sizing:border-box;"></div>
<svg class="b" style="left:0;top:0;overflow:visible" width="1" height="1"><path d="M957 59h1v1h-1zM960 59h1v1h-1zM951 60h4v1h-4zM957 60h1v1h-1zM960 60h1v1h-1zM951 61h1v1h-1zM954 61h1v1h-1zM957 61h1v1h-1zM960 61h1v1h-1zM951 62h1v1h-1zM954 62h1v1h-1zM957 62h1v1h-1zM960 62h1v1h-1zM951 63h1v1h-1zM954 63h1v1h-1zM957 63h1v1h-1zM960 63h1v1h-1zM951 64h1v1h-1zM954 64h1v1h-1zM957 64h1v1h-1zM960 64h1v1h-1zM951 65h1v1h-1zM954 65h1v1h-1zM957 65h4v1h-4zM951 66h1v1h-1zM954 66h1v1h-1zM957 66h1v1h-1zM960 66h1v1h-1zM951 67h1v1h-1zM954 67h1v1h-1zM957 67h1v1h-1zM960 67h1v1h-1zM951 68h1v1h-1zM954 68h1v1h-1zM957 68h1v1h-1zM960 68h1v1h-1zM951 69h4v1h-4zM957 69h1v1h-1zM960 69h1v1h-1zM957 70h1v1h-1zM960 70h1v1h-1zM968 59h1v1h-1zM968 60h1v1h-1zM967 61h3v1h-3zM966 62h1v1h-1zM969 62h2v1h-2zM963 63h3v1h-3zM971 63h2v1h-2zM962 66h12v1h-12zM968 67h1v1h-1zM968 68h1v1h-1zM968 69h1v1h-1zM968 70h1v1h-1z" fill="#d02828" shape-rendering="crispEdges"/></svg>
<div class="t tx" style="left:951px;top:59px;font-size:12px;line-height:12px">매수</div>
<div class="b" style="left:978px;top:56px;width:30px;height:18px;background:#ffffff;border:1px solid #3a66e0;box-sizing:border-box;"></div>
<svg class="b" style="left:0;top:0;overflow:visible" width="1" height="1"><path d="M989 59h1v1h-1zM992 59h1v1h-1zM983 60h4v1h-4zM989 60h1v1h-1zM992 60h1v1h-1zM983 61h1v1h-1zM986 61h1v1h-1zM989 61h1v1h-1zM992 61h1v1h-1zM983 62h1v1h-1zM986 62h1v1h-1zM989 62h1v1h-1zM992 62h1v1h-1zM983 63h1v1h-1zM986 63h1v1h-1zM989 63h1v1h-1zM992 63h1v1h-1zM983 64h1v1h-1zM986 64h1v1h-1zM989 64h1v1h-1zM992 64h1v1h-1zM983 65h1v1h-1zM986 65h1v1h-1zM989 65h4v1h-4zM983 66h1v1h-1zM986 66h1v1h-1zM989 66h1v1h-1zM992 66h1v1h-1zM983 67h1v1h-1zM986 67h1v1h-1zM989 67h1v1h-1zM992 67h1v1h-1zM983 68h1v1h-1zM986 68h1v1h-1zM989 68h1v1h-1zM992 68h1v1h-1zM983 69h4v1h-4zM989 69h1v1h-1zM992 69h1v1h-1zM989 70h1v1h-1zM992 70h1v1h-1zM995 60h10v1h-10zM995 61h1v1h-1zM995 62h1v1h-1zM995 63h1v1h-1zM995 64h1v1h-1zM995 65h10v1h-10zM1000 66h1v1h-1zM1000 67h1v1h-1zM1000 68h1v1h-1zM994 69h12v1h-12z" fill="#2050e0" shape-rendering="crispEdges"/></svg>
<div class="t tx" style="left:983px;top:59px;font-size:12px;line-height:12px">매도</div>
<svg class="b" style="left:1010px;top:56px" width="10" height="18" shape-rendering="crispEdges"><rect x="0.5" y="0.5" width="8" height="17" fill="#fff" stroke="#bcbcbc"/><rect x="1" y="8" width="7" height="2" fill="#c8c8c8"/><rect x="2.5" y="2.5" width="4" height="3.5" fill="none" stroke="#333" stroke-width="1.6"/><path d="M2.5 11.5 L6.5 15.5 M6.5 11.5 L2.5 15.5" stroke="#444" shape-rendering="auto"/></svg>
<svg class="b" style="left:0;top:0" width="1028" height="718" viewBox="0 0 1028 718">
<g shape-rendering="crispEdges">
<rect x="8" y="76" width="940" height="512" fill="#ffffff"/>
<rect x="8" y="589" width="940" height="89" fill="#ffffff"/>
<rect x="948" y="76" width="73" height="620" fill="#eeeeee"/>
<rect x="8" y="678" width="1013" height="18" fill="#efefef"/>
<rect x="9" y="106" width="939" height="1" fill="#e6e6e6"/>
<rect x="9" y="191" width="939" height="1" fill="#e6e6e6"/>
<rect x="9" y="277" width="939" height="1" fill="#e6e6e6"/>
<rect x="9" y="362" width="939" height="1" fill="#e6e6e6"/>
<rect x="9" y="447" width="939" height="1" fill="#e6e6e6"/>
<rect x="9" y="532" width="939" height="1" fill="#e6e6e6"/>
<rect x="9" y="612" width="939" height="1" fill="#e6e6e6"/>
<rect x="9" y="644" width="939" height="1" fill="#e6e6e6"/>
<rect x="9" y="77" width="1" height="510" fill="#e6e6e6"/>
<rect x="9" y="590" width="1" height="87" fill="#e6e6e6"/>
<rect x="22" y="77" width="1" height="510" fill="#e6e6e6"/>
<rect x="22" y="590" width="1" height="87" fill="#e6e6e6"/>
<rect x="92" y="77" width="1" height="510" fill="#e6e6e6"/>
<rect x="92" y="590" width="1" height="87" fill="#e6e6e6"/>
<rect x="172" y="77" width="1" height="510" fill="#e6e6e6"/>
<rect x="172" y="590" width="1" height="87" fill="#e6e6e6"/>
<rect x="242" y="77" width="1" height="510" fill="#e6e6e6"/>
<rect x="242" y="590" width="1" height="87" fill="#e6e6e6"/>
<rect x="318" y="77" width="1" height="510" fill="#e6e6e6"/>
<rect x="318" y="590" width="1" height="87" fill="#e6e6e6"/>
<rect x="391" y="77" width="1" height="510" fill="#e6e6e6"/>
<rect x="391" y="590" width="1" height="87" fill="#e6e6e6"/>
<rect x="461" y="77" width="1" height="510" fill="#e6e6e6"/>
<rect x="461" y="590" width="1" height="87" fill="#e6e6e6"/>
<rect x="534" y="77" width="1" height="510" fill="#e6e6e6"/>
<rect x="534" y="590" width="1" height="87" fill="#e6e6e6"/>
<rect x="603" y="77" width="1" height="510" fill="#e6e6e6"/>
<rect x="603" y="590" width="1" height="87" fill="#e6e6e6"/>
<rect x="673" y="77" width="1" height="510" fill="#e6e6e6"/>
<rect x="673" y="590" width="1" height="87" fill="#e6e6e6"/>
<rect x="749" y="77" width="1" height="510" fill="#e6e6e6"/>
<rect x="749" y="590" width="1" height="87" fill="#e6e6e6"/>
<rect x="826" y="77" width="1" height="510" fill="#e6e6e6"/>
<rect x="826" y="590" width="1" height="87" fill="#e6e6e6"/>
<rect x="892" y="77" width="1" height="510" fill="#e6e6e6"/>
<rect x="892" y="590" width="1" height="87" fill="#e6e6e6"/>
<rect x="9" y="131" width="939" height="1" fill="#1f8f2a"/>
<rect x="9" y="268" width="939" height="1" fill="#8b4a10"/>
</g>
</svg>
<div class="t" style="left:82.93px;top:548.00px;font-size:14px;line-height:14px;color:#0000e0;font-weight:normal;transform:scaleX(0.5000);-webkit-text-stroke:0.3px #0000e0;">1</div>
<div class="t" style="left:87.69px;top:548.00px;font-size:14px;line-height:14px;color:#0000e0;font-weight:normal;transform:scaleX(0.8333);-webkit-text-stroke:0.3px #0000e0;">3</div>
<div class="t" style="left:93.78px;top:548.00px;font-size:14px;line-height:14px;color:#0000e0;font-weight:normal;transform:scaleX(0.8333);-webkit-text-stroke:0.3px #0000e0;">9</div>
<div class="t" style="left:101.53px;top:548.00px;font-size:14px;line-height:14px;color:#0000e0;font-weight:normal;transform:scaleX(0.8333);-webkit-text-stroke:0.3px #0000e0;">.</div>
<div class="t" style="left:105.96px;top:548.00px;font-size:14px;line-height:14px;color:#0000e0;font-weight:normal;transform:scaleX(0.8333);-webkit-text-stroke:0.3px #0000e0;">3</div>
<div class="t" style="left:112.05px;top:548.00px;font-size:14px;line-height:14px;color:#0000e0;font-weight:normal;transform:scaleX(0.8333);-webkit-text-stroke:0.3px #0000e0;">7</div>
<div class="t" style="left:118.14px;top:548.00px;font-size:14px;line-height:14px;color:#0000e0;font-weight:normal;transform:scaleX(0.8333);-webkit-text-stroke:0.3px #0000e0;">0</div>
<div class="t" style="left:124.23px;top:548.00px;font-size:14px;line-height:14px;color:#0000e0;font-weight:normal;transform:scaleX(0.8333);-webkit-text-stroke:0.3px #0000e0;">0</div>
<div class="t" style="left:132.57px;top:548.00px;font-size:14px;line-height:14px;color:#0000e0;font-weight:normal;transform:scaleX(0.8333);-webkit-text-stroke:0.3px #0000e0;">(</div>
<div class="t" style="left:136.41px;top:548.00px;font-size:14px;line-height:14px;color:#0000e0;font-weight:normal;transform:scaleX(0.8333);-webkit-text-stroke:0.3px #0000e0;">2</div>
<div class="t" style="left:142.50px;top:548.00px;font-size:14px;line-height:14px;color:#0000e0;font-weight:normal;transform:scaleX(0.8333);-webkit-text-stroke:0.3px #0000e0;">0</div>
<div class="t" style="left:148.58px;top:548.00px;font-size:14px;line-height:14px;color:#0000e0;font-weight:normal;transform:scaleX(0.8333);-webkit-text-stroke:0.3px #0000e0;">2</div>
<div class="t" style="left:154.67px;top:548.00px;font-size:14px;line-height:14px;color:#0000e0;font-weight:normal;transform:scaleX(0.8333);-webkit-text-stroke:0.3px #0000e0;">3</div>
<div class="t" style="left:162.18px;top:548.00px;font-size:14px;line-height:14px;color:#0000e0;font-weight:normal;transform:scaleX(0.9583);-webkit-text-stroke:0.3px #0000e0;">/</div>
<div class="t" style="left:166.85px;top:548.00px;font-size:14px;line-height:14px;color:#0000e0;font-weight:normal;transform:scaleX(0.8333);-webkit-text-stroke:0.3px #0000e0;">0</div>
<div class="t" style="left:172.94px;top:548.00px;font-size:14px;line-height:14px;color:#0000e0;font-weight:normal;transform:scaleX(0.8333);-webkit-text-stroke:0.3px #0000e0;">7</div>
<div class="t" style="left:180.45px;top:548.00px;font-size:14px;line-height:14px;color:#0000e0;font-weight:normal;transform:scaleX(0.9583);-webkit-text-stroke:0.3px #0000e0;">/</div>
<div class="t" style="left:185.12px;top:548.00px;font-size:14px;line-height:14px;color:#0000e0;font-weight:normal;transform:scaleX(0.8333);-webkit-text-stroke:0.3px #0000e0;">0</div>
<div class="t" style="left:191.21px;top:548.00px;font-size:14px;line-height:14px;color:#0000e0;font-weight:normal;transform:scaleX(0.8333);-webkit-text-stroke:0.3px #0000e0;">6</div>
<div class="t" style="left:198.47px;top:548.00px;font-size:14px;line-height:14px;color:#0000e0;font-weight:normal;transform:scaleX(0.8333);-webkit-text-stroke:0.3px #0000e0;">,</div>
<div class="t" style="left:215.57px;top:548.00px;font-size:14px;line-height:14px;color:#0000e0;font-weight:normal;transform:scaleX(0.8333);-webkit-text-stroke:0.3px #0000e0;">5</div>
<div class="t" style="left:222.49px;top:548.00px;font-size:14px;line-height:14px;color:#0000e0;font-weight:normal;transform:scaleX(0.7143);-webkit-text-stroke:0.3px #0000e0;">4</div>
<div class="t" style="left:229.42px;top:548.00px;font-size:14px;line-height:14px;color:#0000e0;font-weight:normal;transform:scaleX(0.8333);-webkit-text-stroke:0.3px #0000e0;">.</div>
<div class="t" style="left:233.84px;top:548.00px;font-size:14px;line-height:14px;color:#0000e0;font-weight:normal;transform:scaleX(0.8333);-webkit-text-stroke:0.3px #0000e0;">3</div>
<div class="t" style="left:239.93px;top:548.00px;font-size:14px;line-height:14px;color:#0000e0;font-weight:normal;transform:scaleX(0.8333);-webkit-text-stroke:0.3px #0000e0;">0</div>
<div class="t" style="left:246.40px;top:548.00px;font-size:14px;line-height:14px;color:#0000e0;font-weight:normal;transform:scaleX(0.4545);-webkit-text-stroke:0.3px #0000e0;">%</div>
<div class="t" style="left:253.77px;top:548.00px;font-size:14px;line-height:14px;color:#0000e0;font-weight:normal;transform:scaleX(0.8333);-webkit-text-stroke:0.3px #0000e0;">)</div>
<svg class="b" style="left:0;top:0;overflow:visible" width="1" height="1"><path d="M62 550h1v1h-1zM55 551h4v1h-4zM62 551h1v1h-1zM54 552h7v1h-7zM62 552h1v1h-1zM57 553h1v1h-1zM62 553h1v1h-1zM57 554h1v1h-1zM62 554h1v1h-1zM56 555h1v1h-1zM58 555h1v1h-1zM62 555h1v1h-1zM54 556h2v1h-2zM59 556h2v1h-2zM62 556h1v1h-1zM57 557h1v1h-1zM62 557h1v1h-1zM57 558h1v1h-1zM60 558h3v1h-3zM53 559h7v1h-7zM62 559h1v1h-1zM62 560h1v1h-1zM66 550h7v1h-7zM74 550h1v1h-1zM69 551h1v1h-1zM74 551h1v1h-1zM69 552h1v1h-1zM74 552h1v1h-1zM69 553h1v1h-1zM74 553h1v1h-1zM69 554h1v1h-1zM74 554h1v1h-1zM68 555h2v1h-2zM71 555h4v1h-4zM68 556h1v1h-1zM70 556h1v1h-1zM74 556h1v1h-1zM67 557h1v1h-1zM70 557h1v1h-1zM74 557h1v1h-1zM67 558h1v1h-1zM71 558h1v1h-1zM74 558h1v1h-1zM66 559h1v1h-1zM72 559h1v1h-1zM74 559h1v1h-1zM74 560h1v1h-1z" fill="#0000e0" shape-rendering="crispEdges"/></svg>
<div class="t tx" style="left:53px;top:550px;font-size:12px;line-height:12px">최저 139.3700(2023/07/06,  54.30%)</div>
<svg class="b" style="left:30px;top:549px" width="24" height="14"><path d="M3 7.5 H21 M7 3.5 L3 7.5 L7 11.5" stroke="#0000e0" fill="none" stroke-width="1"/></svg>
<div class="t" style="left:65.23px;top:116.00px;font-size:14px;line-height:14px;color:#1f8f2a;font-weight:normal;transform:scaleX(0.8333);-webkit-text-stroke:0.3px #1f8f2a;">3</div>
<div class="t" style="left:71.35px;top:116.00px;font-size:14px;line-height:14px;color:#1f8f2a;font-weight:normal;transform:scaleX(0.8333);-webkit-text-stroke:0.3px #1f8f2a;">8</div>
<div class="t" style="left:77.47px;top:116.00px;font-size:14px;line-height:14px;color:#1f8f2a;font-weight:normal;transform:scaleX(0.8333);-webkit-text-stroke:0.3px #1f8f2a;">5</div>
<div class="t" style="left:85.25px;top:116.00px;font-size:14px;line-height:14px;color:#1f8f2a;font-weight:normal;transform:scaleX(0.8333);-webkit-text-stroke:0.3px #1f8f2a;">.</div>
<div class="t" style="left:89.71px;top:116.00px;font-size:14px;line-height:14px;color:#1f8f2a;font-weight:normal;transform:scaleX(0.8333);-webkit-text-stroke:0.3px #1f8f2a;">2</div>
<div class="t" style="left:95.83px;top:116.00px;font-size:14px;line-height:14px;color:#1f8f2a;font-weight:normal;transform:scaleX(0.8333);-webkit-text-stroke:0.3px #1f8f2a;">8</div>
<div class="t" style="left:101.95px;top:116.00px;font-size:14px;line-height:14px;color:#1f8f2a;font-weight:normal;transform:scaleX(0.8333);-webkit-text-stroke:0.3px #1f8f2a;">0</div>
<div class="t" style="left:108.07px;top:116.00px;font-size:14px;line-height:14px;color:#1f8f2a;font-weight:normal;transform:scaleX(0.8333);-webkit-text-stroke:0.3px #1f8f2a;">0</div>
<svg class="b" style="left:0;top:0;overflow:visible" width="1" height="1"><path d="M13 118h9v1h-9zM21 119h1v1h-1zM21 120h1v1h-1zM21 121h1v1h-1zM12 122h11v1h-11zM13 125h9v1h-9zM13 126h1v1h-1zM21 126h1v1h-1zM13 127h9v1h-9zM26 118h4v1h-4zM33 118h1v1h-1zM25 119h1v1h-1zM30 119h1v1h-1zM33 119h1v1h-1zM26 120h4v1h-4zM33 120h1v1h-1zM30 121h2v1h-2zM33 121h1v1h-1zM24 122h6v1h-6zM33 122h1v1h-1zM28 123h1v1h-1zM30 123h4v1h-4zM28 124h1v1h-1zM33 124h1v1h-1zM25 125h9v1h-9zM25 126h9v1h-9zM25 127h1v1h-1zM25 128h9v1h-9zM39 118h1v1h-1zM45 118h1v1h-1zM39 119h1v1h-1zM45 119h1v1h-1zM39 120h1v1h-1zM45 120h1v1h-1zM39 121h1v1h-1zM45 121h1v1h-1zM38 122h2v1h-2zM45 122h1v1h-1zM38 123h1v1h-1zM40 123h1v1h-1zM45 123h1v1h-1zM38 124h1v1h-1zM41 124h1v1h-1zM45 124h1v1h-1zM37 125h1v1h-1zM41 125h1v1h-1zM45 125h1v1h-1zM36 126h2v1h-2zM42 126h1v1h-1zM45 126h1v1h-1zM36 127h1v1h-1zM42 127h1v1h-1zM45 127h1v1h-1zM45 128h1v1h-1zM50 118h4v1h-4zM57 118h1v1h-1zM54 119h1v1h-1zM57 119h1v1h-1zM54 120h1v1h-1zM57 120h1v1h-1zM54 121h1v1h-1zM57 121h1v1h-1zM54 122h1v1h-1zM57 122h1v1h-1zM53 123h2v1h-2zM57 123h3v1h-3zM53 124h1v1h-1zM57 124h1v1h-1zM51 125h2v1h-2zM57 125h1v1h-1zM49 126h3v1h-3zM57 126h1v1h-1zM57 127h1v1h-1zM57 128h1v1h-1z" fill="#1f8f2a" shape-rendering="crispEdges"/></svg>
<div class="t tx" style="left:12px;top:118px;font-size:12px;line-height:12px">금월시가 385.2800</div>
<div class="t" style="left:52.56px;top:253.00px;font-size:14px;line-height:14px;color:#8b4a10;font-weight:normal;transform:scaleX(0.8333);-webkit-text-stroke:0.3px #8b4a10;">3</div>
<div class="t" style="left:58.77px;top:253.00px;font-size:14px;line-height:14px;color:#8b4a10;font-weight:normal;transform:scaleX(0.8333);-webkit-text-stroke:0.3px #8b4a10;">0</div>
<div class="t" style="left:65.81px;top:253.00px;font-size:14px;line-height:14px;color:#8b4a10;font-weight:normal;transform:scaleX(0.7143);-webkit-text-stroke:0.3px #8b4a10;">4</div>
<div class="t" style="left:72.84px;top:253.00px;font-size:14px;line-height:14px;color:#8b4a10;font-weight:normal;transform:scaleX(0.8333);-webkit-text-stroke:0.3px #8b4a10;">.</div>
<div class="t" style="left:77.38px;top:253.00px;font-size:14px;line-height:14px;color:#8b4a10;font-weight:normal;transform:scaleX(0.8333);-webkit-text-stroke:0.3px #8b4a10;">9</div>
<div class="t" style="left:83.59px;top:253.00px;font-size:14px;line-height:14px;color:#8b4a10;font-weight:normal;transform:scaleX(0.8333);-webkit-text-stroke:0.3px #8b4a10;">6</div>
<div class="t" style="left:89.79px;top:253.00px;font-size:14px;line-height:14px;color:#8b4a10;font-weight:normal;transform:scaleX(0.8333);-webkit-text-stroke:0.3px #8b4a10;">0</div>
<div class="t" style="left:96.00px;top:253.00px;font-size:14px;line-height:14px;color:#8b4a10;font-weight:normal;transform:scaleX(0.8333);-webkit-text-stroke:0.3px #8b4a10;">0</div>
<svg class="b" style="left:0;top:0;overflow:visible" width="1" height="1"><path d="M13 255h4v1h-4zM20 255h1v1h-1zM11 256h7v1h-7zM20 256h1v1h-1zM20 257h1v1h-1zM13 258h4v1h-4zM18 258h3v1h-3zM12 259h1v1h-1zM17 259h1v1h-1zM20 259h1v1h-1zM12 260h1v1h-1zM17 260h4v1h-4zM13 261h4v1h-4zM20 261h1v1h-1zM12 262h1v1h-1zM20 262h1v1h-1zM12 263h1v1h-1zM12 264h9v1h-9zM24 255h5v1h-5zM30 255h1v1h-1zM32 255h1v1h-1zM26 256h1v1h-1zM30 256h1v1h-1zM32 256h1v1h-1zM26 257h1v1h-1zM30 257h1v1h-1zM32 257h1v1h-1zM26 258h1v1h-1zM30 258h1v1h-1zM32 258h1v1h-1zM26 259h1v1h-1zM30 259h1v1h-1zM32 259h1v1h-1zM26 260h1v1h-1zM30 260h3v1h-3zM25 261h1v1h-1zM27 261h1v1h-1zM30 261h1v1h-1zM32 261h1v1h-1zM25 262h1v1h-1zM27 262h1v1h-1zM30 262h1v1h-1zM32 262h1v1h-1zM24 263h1v1h-1zM28 263h1v1h-1zM30 263h1v1h-1zM32 263h1v1h-1zM30 264h1v1h-1zM32 264h1v1h-1zM30 265h1v1h-1zM32 265h1v1h-1zM37 255h4v1h-4zM44 255h1v1h-1zM41 256h1v1h-1zM44 256h1v1h-1zM41 257h1v1h-1zM44 257h1v1h-1zM41 258h1v1h-1zM44 258h1v1h-1zM41 259h1v1h-1zM44 259h1v1h-1zM40 260h2v1h-2zM44 260h3v1h-3zM40 261h1v1h-1zM44 261h1v1h-1zM38 262h2v1h-2zM44 262h1v1h-1zM36 263h3v1h-3zM44 263h1v1h-1zM44 264h1v1h-1zM44 265h1v1h-1z" fill="#8b4a10" shape-rendering="crispEdges"/></svg>
<div class="t tx" style="left:11px;top:255px;font-size:12px;line-height:12px">현재가 304.9600</div>
<div class="t" style="left:713.46px;top:94.00px;font-size:14px;line-height:14px;color:#e00000;font-weight:normal;transform:scaleX(0.8333);-webkit-text-stroke:0.3px #e00000;">3</div>
<div class="t" style="left:719.51px;top:94.00px;font-size:14px;line-height:14px;color:#e00000;font-weight:normal;transform:scaleX(0.8333);-webkit-text-stroke:0.3px #e00000;">9</div>
<div class="t" style="left:725.57px;top:94.00px;font-size:14px;line-height:14px;color:#e00000;font-weight:normal;transform:scaleX(0.8333);-webkit-text-stroke:0.3px #e00000;">8</div>
<div class="t" style="left:733.30px;top:94.00px;font-size:14px;line-height:14px;color:#e00000;font-weight:normal;transform:scaleX(0.8333);-webkit-text-stroke:0.3px #e00000;">.</div>
<div class="t" style="left:737.69px;top:94.00px;font-size:14px;line-height:14px;color:#e00000;font-weight:normal;transform:scaleX(0.8333);-webkit-text-stroke:0.3px #e00000;">3</div>
<div class="t" style="left:743.75px;top:94.00px;font-size:14px;line-height:14px;color:#e00000;font-weight:normal;transform:scaleX(0.8333);-webkit-text-stroke:0.3px #e00000;">2</div>
<div class="t" style="left:749.81px;top:94.00px;font-size:14px;line-height:14px;color:#e00000;font-weight:normal;transform:scaleX(0.8333);-webkit-text-stroke:0.3px #e00000;">7</div>
<div class="t" style="left:757.21px;top:94.00px;font-size:14px;line-height:14px;color:#e00000;font-weight:normal;transform:scaleX(0.5000);-webkit-text-stroke:0.3px #e00000;">1</div>
<div class="t" style="left:764.18px;top:94.00px;font-size:14px;line-height:14px;color:#e00000;font-weight:normal;transform:scaleX(0.8333);-webkit-text-stroke:0.3px #e00000;">(</div>
<div class="t" style="left:767.99px;top:94.00px;font-size:14px;line-height:14px;color:#e00000;font-weight:normal;transform:scaleX(0.8333);-webkit-text-stroke:0.3px #e00000;">2</div>
<div class="t" style="left:774.05px;top:94.00px;font-size:14px;line-height:14px;color:#e00000;font-weight:normal;transform:scaleX(0.8333);-webkit-text-stroke:0.3px #e00000;">0</div>
<div class="t" style="left:780.11px;top:94.00px;font-size:14px;line-height:14px;color:#e00000;font-weight:normal;transform:scaleX(0.8333);-webkit-text-stroke:0.3px #e00000;">2</div>
<div class="t" style="left:787.00px;top:94.00px;font-size:14px;line-height:14px;color:#e00000;font-weight:normal;transform:scaleX(0.7143);-webkit-text-stroke:0.3px #e00000;">4</div>
<div class="t" style="left:793.65px;top:94.00px;font-size:14px;line-height:14px;color:#e00000;font-weight:normal;transform:scaleX(0.9583);-webkit-text-stroke:0.3px #e00000;">/</div>
<div class="t" style="left:798.29px;top:94.00px;font-size:14px;line-height:14px;color:#e00000;font-weight:normal;transform:scaleX(0.8333);-webkit-text-stroke:0.3px #e00000;">0</div>
<div class="t" style="left:804.35px;top:94.00px;font-size:14px;line-height:14px;color:#e00000;font-weight:normal;transform:scaleX(0.8333);-webkit-text-stroke:0.3px #e00000;">7</div>
<div class="t" style="left:811.83px;top:94.00px;font-size:14px;line-height:14px;color:#e00000;font-weight:normal;transform:scaleX(0.9583);-webkit-text-stroke:0.3px #e00000;">/</div>
<div class="t" style="left:816.47px;top:94.00px;font-size:14px;line-height:14px;color:#e00000;font-weight:normal;transform:scaleX(0.8333);-webkit-text-stroke:0.3px #e00000;">0</div>
<div class="t" style="left:822.53px;top:94.00px;font-size:14px;line-height:14px;color:#e00000;font-weight:normal;transform:scaleX(0.8333);-webkit-text-stroke:0.3px #e00000;">9</div>
<div class="t" style="left:829.76px;top:94.00px;font-size:14px;line-height:14px;color:#e00000;font-weight:normal;transform:scaleX(0.8333);-webkit-text-stroke:0.3px #e00000;">,</div>
<div class="t" style="left:840.71px;top:94.00px;font-size:14px;line-height:14px;color:#e00000;font-weight:normal;transform:scaleX(0.8333);-webkit-text-stroke:0.3px #e00000;">+</div>
<div class="t" style="left:846.77px;top:94.00px;font-size:14px;line-height:14px;color:#e00000;font-weight:normal;transform:scaleX(0.8333);-webkit-text-stroke:0.3px #e00000;">3</div>
<div class="t" style="left:852.83px;top:94.00px;font-size:14px;line-height:14px;color:#e00000;font-weight:normal;transform:scaleX(0.8333);-webkit-text-stroke:0.3px #e00000;">0</div>
<div class="t" style="left:860.55px;top:94.00px;font-size:14px;line-height:14px;color:#e00000;font-weight:normal;transform:scaleX(0.8333);-webkit-text-stroke:0.3px #e00000;">.</div>
<div class="t" style="left:864.95px;top:94.00px;font-size:14px;line-height:14px;color:#e00000;font-weight:normal;transform:scaleX(0.8333);-webkit-text-stroke:0.3px #e00000;">6</div>
<div class="t" style="left:871.01px;top:94.00px;font-size:14px;line-height:14px;color:#e00000;font-weight:normal;transform:scaleX(0.8333);-webkit-text-stroke:0.3px #e00000;">2</div>
<div class="t" style="left:877.45px;top:94.00px;font-size:14px;line-height:14px;color:#e00000;font-weight:normal;transform:scaleX(0.4545);-webkit-text-stroke:0.3px #e00000;">%</div>
<div class="t" style="left:884.79px;top:94.00px;font-size:14px;line-height:14px;color:#e00000;font-weight:normal;transform:scaleX(0.8333);-webkit-text-stroke:0.3px #e00000;">)</div>
<svg class="b" style="left:0;top:0;overflow:visible" width="1" height="1"><path d="M694 96h1v1h-1zM687 97h4v1h-4zM694 97h1v1h-1zM686 98h7v1h-7zM694 98h1v1h-1zM689 99h1v1h-1zM694 99h1v1h-1zM689 100h1v1h-1zM694 100h1v1h-1zM688 101h1v1h-1zM690 101h1v1h-1zM694 101h1v1h-1zM686 102h2v1h-2zM691 102h2v1h-2zM694 102h1v1h-1zM689 103h1v1h-1zM694 103h1v1h-1zM689 104h1v1h-1zM692 104h3v1h-3zM685 105h7v1h-7zM694 105h1v1h-1zM694 106h1v1h-1zM698 96h9v1h-9zM706 97h1v1h-1zM706 98h1v1h-1zM706 99h1v1h-1zM706 100h1v1h-1zM701 101h1v1h-1zM706 101h1v1h-1zM701 102h1v1h-1zM706 102h1v1h-1zM701 103h1v1h-1zM705 103h1v1h-1zM701 104h1v1h-1zM697 105h11v1h-11z" fill="#e00000" shape-rendering="crispEdges"/></svg>
<div class="t tx" style="left:685px;top:96px;font-size:12px;line-height:12px">최고 398.3271(2024/07/09, +30.62%)</div>
<svg class="b" style="left:888px;top:97px" width="22" height="12"><path d="M1 5.5 H20.5 M16 2 L20.5 5.5 L16 9" stroke="#e00000" fill="none" stroke-width="1"/></svg>
<div class="t" style="left:472.49px;top:617.00px;font-size:14px;line-height:14px;color:#0000e0;font-weight:normal;transform:scaleX(0.5000);-webkit-text-stroke:0.3px #0000e0;">1</div>
<div class="t" style="left:478.37px;top:617.00px;font-size:14px;line-height:14px;color:#0000e0;font-weight:normal;transform:scaleX(0.8333);-webkit-text-stroke:0.3px #0000e0;">,</div>
<div class="t" style="left:483.26px;top:617.00px;font-size:14px;line-height:14px;color:#0000e0;font-weight:normal;transform:scaleX(0.8333);-webkit-text-stroke:0.3px #0000e0;">0</div>
<div class="t" style="left:489.30px;top:617.00px;font-size:14px;line-height:14px;color:#0000e0;font-weight:normal;transform:scaleX(0.8333);-webkit-text-stroke:0.3px #0000e0;">2</div>
<div class="t" style="left:495.35px;top:617.00px;font-size:14px;line-height:14px;color:#0000e0;font-weight:normal;transform:scaleX(0.8333);-webkit-text-stroke:0.3px #0000e0;">5</div>
<div class="t" style="left:502.57px;top:617.00px;font-size:14px;line-height:14px;color:#0000e0;font-weight:normal;transform:scaleX(0.8333);-webkit-text-stroke:0.3px #0000e0;">,</div>
<div class="t" style="left:507.45px;top:617.00px;font-size:14px;line-height:14px;color:#0000e0;font-weight:normal;transform:scaleX(0.8333);-webkit-text-stroke:0.3px #0000e0;">5</div>
<div class="t" style="left:513.50px;top:617.00px;font-size:14px;line-height:14px;color:#0000e0;font-weight:normal;transform:scaleX(0.8333);-webkit-text-stroke:0.3px #0000e0;">5</div>
<div class="t" style="left:520.38px;top:617.00px;font-size:14px;line-height:14px;color:#0000e0;font-weight:normal;transform:scaleX(0.7143);-webkit-text-stroke:0.3px #0000e0;">4</div>
<div class="t" style="left:527.85px;top:617.00px;font-size:14px;line-height:14px;color:#0000e0;font-weight:normal;transform:scaleX(0.8333);-webkit-text-stroke:0.3px #0000e0;">(</div>
<div class="t" style="left:531.65px;top:617.00px;font-size:14px;line-height:14px;color:#0000e0;font-weight:normal;transform:scaleX(0.8333);-webkit-text-stroke:0.3px #0000e0;">2</div>
<div class="t" style="left:537.70px;top:617.00px;font-size:14px;line-height:14px;color:#0000e0;font-weight:normal;transform:scaleX(0.8333);-webkit-text-stroke:0.3px #0000e0;">0</div>
<div class="t" style="left:543.74px;top:617.00px;font-size:14px;line-height:14px;color:#0000e0;font-weight:normal;transform:scaleX(0.8333);-webkit-text-stroke:0.3px #0000e0;">2</div>
<div class="t" style="left:549.79px;top:617.00px;font-size:14px;line-height:14px;color:#0000e0;font-weight:normal;transform:scaleX(0.8333);-webkit-text-stroke:0.3px #0000e0;">3</div>
<div class="t" style="left:557.26px;top:617.00px;font-size:14px;line-height:14px;color:#0000e0;font-weight:normal;transform:scaleX(0.9583);-webkit-text-stroke:0.3px #0000e0;">/</div>
<div class="t" style="left:563.22px;top:617.00px;font-size:14px;line-height:14px;color:#0000e0;font-weight:normal;transform:scaleX(0.5000);-webkit-text-stroke:0.3px #0000e0;">1</div>
<div class="t" style="left:567.94px;top:617.00px;font-size:14px;line-height:14px;color:#0000e0;font-weight:normal;transform:scaleX(0.8333);-webkit-text-stroke:0.3px #0000e0;">2</div>
<div class="t" style="left:575.40px;top:617.00px;font-size:14px;line-height:14px;color:#0000e0;font-weight:normal;transform:scaleX(0.9583);-webkit-text-stroke:0.3px #0000e0;">/</div>
<div class="t" style="left:580.04px;top:617.00px;font-size:14px;line-height:14px;color:#0000e0;font-weight:normal;transform:scaleX(0.8333);-webkit-text-stroke:0.3px #0000e0;">2</div>
<div class="t" style="left:586.09px;top:617.00px;font-size:14px;line-height:14px;color:#0000e0;font-weight:normal;transform:scaleX(0.8333);-webkit-text-stroke:0.3px #0000e0;">8</div>
<div class="t" style="left:593.80px;top:617.00px;font-size:14px;line-height:14px;color:#0000e0;font-weight:normal;transform:scaleX(0.8333);-webkit-text-stroke:0.3px #0000e0;">)</div>
<div class="t tx" style="left:473px;top:618px;font-size:12px;line-height:12px">1,025,554(2023/12/28)</div>
<div class="t" style="left:725.17px;top:599.00px;font-size:14px;line-height:14px;color:#e00000;font-weight:normal;transform:scaleX(0.8333);-webkit-text-stroke:0.3px #e00000;">5</div>
<div class="t" style="left:732.09px;top:599.00px;font-size:14px;line-height:14px;color:#e00000;font-weight:normal;transform:scaleX(0.7143);-webkit-text-stroke:0.3px #e00000;">4</div>
<div class="t" style="left:738.52px;top:599.00px;font-size:14px;line-height:14px;color:#e00000;font-weight:normal;transform:scaleX(0.8333);-webkit-text-stroke:0.3px #e00000;">,</div>
<div class="t" style="left:743.44px;top:599.00px;font-size:14px;line-height:14px;color:#e00000;font-weight:normal;transform:scaleX(0.8333);-webkit-text-stroke:0.3px #e00000;">0</div>
<div class="t" style="left:749.54px;top:599.00px;font-size:14px;line-height:14px;color:#e00000;font-weight:normal;transform:scaleX(0.8333);-webkit-text-stroke:0.3px #e00000;">7</div>
<div class="t" style="left:755.63px;top:599.00px;font-size:14px;line-height:14px;color:#e00000;font-weight:normal;transform:scaleX(0.8333);-webkit-text-stroke:0.3px #e00000;">7</div>
<div class="t" style="left:762.89px;top:599.00px;font-size:14px;line-height:14px;color:#e00000;font-weight:normal;transform:scaleX(0.8333);-webkit-text-stroke:0.3px #e00000;">,</div>
<div class="t" style="left:768.65px;top:599.00px;font-size:14px;line-height:14px;color:#e00000;font-weight:normal;transform:scaleX(0.7143);-webkit-text-stroke:0.3px #e00000;">4</div>
<div class="t" style="left:774.74px;top:599.00px;font-size:14px;line-height:14px;color:#e00000;font-weight:normal;transform:scaleX(0.7143);-webkit-text-stroke:0.3px #e00000;">4</div>
<div class="t" style="left:780.00px;top:599.00px;font-size:14px;line-height:14px;color:#e00000;font-weight:normal;transform:scaleX(0.8333);-webkit-text-stroke:0.3px #e00000;">8</div>
<div class="t" style="left:788.34px;top:599.00px;font-size:14px;line-height:14px;color:#e00000;font-weight:normal;transform:scaleX(0.8333);-webkit-text-stroke:0.3px #e00000;">(</div>
<div class="t" style="left:792.18px;top:599.00px;font-size:14px;line-height:14px;color:#e00000;font-weight:normal;transform:scaleX(0.8333);-webkit-text-stroke:0.3px #e00000;">2</div>
<div class="t" style="left:798.27px;top:599.00px;font-size:14px;line-height:14px;color:#e00000;font-weight:normal;transform:scaleX(0.8333);-webkit-text-stroke:0.3px #e00000;">0</div>
<div class="t" style="left:804.37px;top:599.00px;font-size:14px;line-height:14px;color:#e00000;font-weight:normal;transform:scaleX(0.8333);-webkit-text-stroke:0.3px #e00000;">2</div>
<div class="t" style="left:811.29px;top:599.00px;font-size:14px;line-height:14px;color:#e00000;font-weight:normal;transform:scaleX(0.7143);-webkit-text-stroke:0.3px #e00000;">4</div>
<div class="t" style="left:817.97px;top:599.00px;font-size:14px;line-height:14px;color:#e00000;font-weight:normal;transform:scaleX(0.9583);-webkit-text-stroke:0.3px #e00000;">/</div>
<div class="t" style="left:822.64px;top:599.00px;font-size:14px;line-height:14px;color:#e00000;font-weight:normal;transform:scaleX(0.8333);-webkit-text-stroke:0.3px #e00000;">0</div>
<div class="t" style="left:828.74px;top:599.00px;font-size:14px;line-height:14px;color:#e00000;font-weight:normal;transform:scaleX(0.8333);-webkit-text-stroke:0.3px #e00000;">6</div>
<div class="t" style="left:836.24px;top:599.00px;font-size:14px;line-height:14px;color:#e00000;font-weight:normal;transform:scaleX(0.9583);-webkit-text-stroke:0.3px #e00000;">/</div>
<div class="t" style="left:840.92px;top:599.00px;font-size:14px;line-height:14px;color:#e00000;font-weight:normal;transform:scaleX(0.8333);-webkit-text-stroke:0.3px #e00000;">2</div>
<div class="t" style="left:848.35px;top:599.00px;font-size:14px;line-height:14px;color:#e00000;font-weight:normal;transform:scaleX(0.5000);-webkit-text-stroke:0.3px #e00000;">1</div>
<div class="t" style="left:854.77px;top:599.00px;font-size:14px;line-height:14px;color:#e00000;font-weight:normal;transform:scaleX(0.8333);-webkit-text-stroke:0.3px #e00000;">)</div>
<div class="t tx" style="left:726px;top:600px;font-size:12px;line-height:12px">54,077,448(2024/06/21)</div>
<svg class="b" style="left:858px;top:601px" width="14" height="11"><path d="M0 5.5 H12.5 M9 2.5 L12.5 5.5 L9 8.5" stroke="#e00000" fill="none" stroke-width="1"/></svg>
<svg class="b" style="left:0;top:0" width="1028" height="718" viewBox="0 0 1028 718">
<polyline points="8.3,543.5 9.4,543.7 10.6,543.9 11.9,544.1 13.5,544.3 15.4,544.6 17.7,544.9 20.5,545.3 23.9,545.6 28.0,546.0 29.4,546.1 30.8,546.2 32.4,546.4 34.0,546.5 35.7,546.6 37.4,546.7 39.2,546.9 41.1,547.0 43.0,547.2 45.0,547.3 47.0,547.5 49.1,547.6 51.2,547.8 53.3,547.9 55.5,548.1 57.7,548.2 59.9,548.4 62.1,548.5 64.3,548.7 66.5,548.8 68.7,549.0 70.9,549.1 73.2,549.3 75.4,549.4 77.5,549.6 79.7,549.7 81.8,549.9 83.9,550.0 86.0,550.2 88.0,550.3 90.0,550.4 92.1,550.6 94.1,550.7 96.2,550.9 98.3,551.0 100.4,551.2 102.5,551.3 104.7,551.5 106.8,551.6 108.9,551.7 111.1,551.9 113.2,552.0 115.3,552.2 117.5,552.3 119.6,552.5 121.7,552.6 123.8,552.8 125.8,552.9 127.9,553.0 129.9,553.2 131.9,553.3 133.8,553.4 135.7,553.5 137.6,553.7 139.5,553.8 141.3,553.9 143.0,554.0 144.7,554.1 146.4,554.2 148.0,554.3 150.6,554.5 153.0,554.6 155.2,554.7 157.2,554.8 159.1,554.9 160.8,555.0 162.5,555.1 164.1,555.2 165.7,555.3 167.4,555.4 169.1,555.4 170.9,555.5 172.8,555.6 175.0,555.6 177.3,555.7 179.9,555.7 182.7,555.8 184.3,555.8 185.9,555.9 187.6,555.9 189.3,556.0 191.1,556.0 192.9,556.1 194.8,556.1 196.7,556.2 198.7,556.2 200.7,556.3 202.7,556.3 204.7,556.4 206.8,556.4 208.9,556.5 211.0,556.5 213.2,556.6 215.3,556.6 217.5,556.7 219.7,556.7 221.9,556.7 224.1,556.8 226.3,556.8 228.5,556.8 230.7,556.8 232.9,556.8 235.1,556.8 237.3,556.8 239.4,556.8 241.6,556.7 243.7,556.7 245.8,556.6 247.9,556.6 250.0,556.5 252.0,556.4 254.0,556.3 256.0,556.2 258.0,556.1 260.0,556.0 262.0,555.9 264.0,555.8 266.0,555.7 268.0,555.5 270.0,555.4 272.0,555.3 274.0,555.1 276.0,555.0 278.0,554.8 280.0,554.6 282.0,554.5 284.0,554.3 286.0,554.1 288.0,553.9 290.0,553.7 292.0,553.5 294.0,553.3 296.0,553.1 298.0,552.9 300.1,552.7 302.1,552.5 304.1,552.3 306.1,552.0 308.1,551.8 310.1,551.6 312.1,551.3 314.1,551.1 316.1,550.8 318.1,550.6 320.1,550.4 322.1,550.1 324.1,549.9 326.0,549.6 328.0,549.4 329.9,549.1 331.9,548.9 333.8,548.6 335.8,548.4 337.7,548.1 339.7,547.9 341.6,547.6 343.5,547.4 345.5,547.1 347.4,546.8 349.3,546.5 351.3,546.2 353.3,545.9 355.2,545.6 357.2,545.3 359.2,545.0 361.2,544.7 363.2,544.3 365.2,544.0 367.2,543.6 369.2,543.2 371.3,542.8 373.4,542.4 375.5,542.0 377.6,541.6 379.7,541.1 381.8,540.7 384.0,540.2 386.2,539.7 388.1,539.3 390.0,538.8 391.9,538.4 393.9,537.9 395.9,537.4 397.8,536.9 399.9,536.4 401.9,535.9 403.9,535.4 406.0,534.8 408.1,534.3 410.1,533.7 412.2,533.2 414.3,532.6 416.4,532.0 418.6,531.4 420.7,530.8 422.8,530.2 424.9,529.6 427.1,529.0 429.2,528.4 431.3,527.8 433.4,527.2 435.5,526.6 437.7,525.9 439.8,525.3 441.9,524.7 444.0,524.0 446.0,523.4 448.1,522.8 450.2,522.1 452.2,521.5 454.2,520.9 456.3,520.2 458.2,519.6 460.2,519.0 462.2,518.4 464.1,517.7 466.0,517.1 467.9,516.5 470.1,515.8 472.3,515.1 474.4,514.3 476.6,513.6 478.7,512.8 480.8,512.1 482.9,511.4 484.9,510.6 487.0,509.9 489.1,509.1 491.1,508.4 493.1,507.6 495.1,506.8 497.1,506.1 499.1,505.3 501.1,504.5 503.1,503.8 505.0,503.0 507.0,502.2 508.9,501.5 510.9,500.7 512.8,499.9 514.8,499.2 516.7,498.4 518.6,497.6 520.5,496.8 522.5,496.1 524.4,495.3 526.3,494.5 528.3,493.8 530.2,493.0 532.1,492.2 534.1,491.5 536.0,490.7 538.1,489.9 540.1,489.1 542.1,488.3 544.1,487.5 546.1,486.7 548.1,485.9 550.1,485.0 552.1,484.2 554.0,483.4 556.0,482.6 557.9,481.8 559.9,481.0 561.8,480.2 563.8,479.4 565.7,478.6 567.7,477.8 569.6,477.0 571.6,476.2 573.5,475.4 575.5,474.5 577.5,473.7 579.5,472.9 581.4,472.1 583.4,471.3 585.5,470.5 587.5,469.7 589.5,468.8 591.6,468.0 593.7,467.2 595.8,466.4 597.9,465.5 600.0,464.7 601.9,464.0 603.8,463.2 605.8,462.5 607.7,461.7 609.7,461.0 611.6,460.2 613.6,459.5 615.6,458.8 617.6,458.0 619.6,457.3 621.6,456.5 623.6,455.8 625.6,455.0 627.6,454.3 629.7,453.5 631.7,452.8 633.8,452.0 635.8,451.2 637.9,450.5 639.9,449.7 642.0,449.0 644.1,448.2 646.1,447.5 648.2,446.7 650.3,445.9 652.4,445.2 654.4,444.4 656.5,443.6 658.6,442.9 660.7,442.1 662.8,441.3 664.9,440.6 667.0,439.8 669.0,439.0 671.1,438.3 673.2,437.5 675.2,436.8 677.2,436.0 679.1,435.3 681.1,434.6 683.1,433.8 685.1,433.1 687.1,432.3 689.1,431.6 691.1,430.9 693.1,430.1 695.1,429.4 697.1,428.6 699.2,427.9 701.2,427.1 703.2,426.4 705.2,425.6 707.2,424.9 709.3,424.1 711.3,423.4 713.3,422.6 715.3,421.9 717.4,421.1 719.4,420.4 721.4,419.6 723.5,418.9 725.5,418.1 727.5,417.4 729.6,416.6 731.6,415.9 733.6,415.2 735.6,414.4 737.7,413.7 739.7,412.9 741.7,412.2 743.7,411.4 745.8,410.7 747.8,409.9 749.8,409.2 751.8,408.5 753.9,407.7 756.0,406.9 758.1,406.2 760.2,405.4 762.4,404.6 764.5,403.9 766.7,403.1 768.9,402.3 771.1,401.5 773.3,400.7 775.5,399.9 777.7,399.1 779.9,398.4 782.1,397.6 784.3,396.8 786.5,396.0 788.7,395.2 790.9,394.4 793.0,393.7 795.2,392.9 797.3,392.1 799.4,391.4 801.4,390.6 803.5,389.9 805.5,389.2 807.5,388.4 809.4,387.7 811.3,387.0 813.2,386.3 815.0,385.7 816.8,385.0 818.5,384.3 820.2,383.7 821.8,383.1 823.4,382.5 824.9,381.9 826.4,381.3 829.6,380.0 832.6,378.8 835.2,377.6 837.6,376.6 839.7,375.5 841.7,374.6 843.5,373.6 845.3,372.8 846.9,371.9 848.5,371.1 850.0,370.2 851.6,369.4 853.3,368.6 855.0,367.7 856.8,366.9 858.8,366.0 860.7,365.2 862.7,364.4 864.6,363.6 866.5,362.8 868.4,362.1 870.3,361.3 872.2,360.6 874.1,359.8 876.0,359.1 878.0,358.3 880.0,357.6 882.0,356.8 884.1,356.0 886.2,355.1 888.3,354.2 890.5,353.3 892.8,352.3 894.6,351.5 896.6,350.6 898.7,349.7 900.8,348.7 903.1,347.7 905.3,346.7 907.7,345.6 910.0,344.5 912.4,343.4 914.7,342.3 917.1,341.2 919.4,340.2 921.6,339.1 923.8,338.1 925.9,337.1 927.9,336.2 929.8,335.3 931.6,334.5 933.2,333.7 934.7,333.0 936.0,332.4 937.1,331.9" fill="none" stroke="#f24a4a" stroke-width="2" stroke-linejoin="round" shape-rendering="crispEdges"/>
<polyline points="8.3,571.0 9.5,570.7 11.0,570.3 12.8,569.9 14.8,569.4 17.0,568.8 19.5,568.2 22.2,567.5 25.0,566.8 26.6,566.4 28.3,566.0 30.1,565.5 32.0,565.0 34.0,564.5 36.0,564.0 38.1,563.4 40.2,562.9 42.3,562.3 44.5,561.8 46.6,561.3 48.8,560.8 50.9,560.3 53.0,559.8 55.0,559.4 56.9,559.0 58.6,558.7 60.2,558.4 61.6,558.2 63.0,558.0 64.4,557.8 65.9,557.5 67.5,557.3 69.2,557.1 71.1,556.8 73.2,556.5 75.7,556.1 78.4,555.6 81.6,555.0 85.2,554.4 86.6,554.1 88.1,553.9 89.6,553.6 91.2,553.3 92.9,552.9 94.7,552.6 96.5,552.2 98.3,551.9 100.2,551.5 102.2,551.1 104.1,550.7 106.2,550.3 108.2,549.8 110.3,549.4 112.5,549.0 114.6,548.5 116.8,548.1 119.0,547.6 121.2,547.2 123.5,546.7 125.7,546.3 128.0,545.8 130.3,545.4 132.5,544.9 134.8,544.5 137.1,544.1 139.3,543.6 141.5,543.2 143.8,542.8 146.0,542.4 148.2,542.0 150.3,541.6 152.5,541.2 154.6,540.8 156.7,540.5 158.7,540.2 160.7,539.8 162.7,539.5 164.6,539.2 166.4,539.0 168.2,538.7 170.0,538.5 172.4,538.2 174.8,538.0 177.1,537.7 179.5,537.5 181.8,537.3 184.1,537.2 186.3,537.1 188.6,536.9 190.8,536.9 193.0,536.8 195.1,536.7 197.3,536.7 199.4,536.6 201.4,536.6 203.5,536.6 205.5,536.6 207.5,536.6 209.4,536.6 211.3,536.6 213.2,536.6 215.0,536.6 216.9,536.6 218.6,536.5 220.4,536.5 222.1,536.5 223.7,536.5 225.4,536.4 226.9,536.4 228.5,536.3 230.0,536.2 233.0,536.0 235.8,535.8 238.3,535.6 240.6,535.4 242.7,535.2 244.7,534.9 246.5,534.7 248.3,534.5 250.0,534.2 251.8,533.9 253.5,533.6 255.3,533.3 257.2,532.9 259.2,532.5 261.3,532.0 263.4,531.5 265.5,531.0 267.5,530.4 269.6,529.8 271.7,529.2 273.8,528.5 275.9,527.9 278.0,527.2 280.1,526.6 282.1,526.0 284.2,525.4 286.3,524.8 288.4,524.3 290.5,523.8 292.7,523.3 294.9,522.8 297.2,522.3 299.5,521.9 301.7,521.4 304.0,521.0 306.2,520.5 308.3,520.1 310.4,519.7 312.4,519.4 314.2,519.0 315.9,518.7 317.5,518.4 320.1,517.9 321.5,517.7 322.5,517.6 323.7,517.4 326.0,517.0 330.0,516.2 331.3,515.9 332.8,515.6 334.4,515.3 336.0,515.0 337.8,514.7 339.6,514.3 341.5,514.0 343.5,513.6 345.5,513.2 347.6,512.8 349.8,512.4 352.0,511.9 354.2,511.5 356.5,511.0 358.8,510.5 361.1,510.0 363.4,509.5 365.7,508.9 368.1,508.4 370.4,507.8 372.7,507.2 374.9,506.6 377.2,506.0 379.4,505.3 381.3,504.7 383.3,504.1 385.3,503.5 387.2,502.8 389.2,502.2 391.2,501.5 393.2,500.8 395.2,500.1 397.2,499.4 399.2,498.7 401.2,498.0 403.2,497.2 405.3,496.5 407.3,495.7 409.4,494.9 411.4,494.1 413.5,493.3 415.6,492.5 417.7,491.6 419.8,490.8 422.0,489.9 424.1,489.0 426.3,488.1 428.5,487.2 430.7,486.3 432.9,485.3 435.1,484.4 437.0,483.6 439.0,482.7 441.0,481.9 443.1,481.0 445.2,480.0 447.3,479.1 449.5,478.1 451.7,477.1 453.9,476.1 456.1,475.1 458.4,474.1 460.6,473.1 462.9,472.0 465.1,471.0 467.4,469.9 469.6,468.9 471.9,467.8 474.1,466.8 476.2,465.8 478.4,464.7 480.5,463.7 482.5,462.7 484.6,461.7 486.5,460.8 488.5,459.8 490.3,458.9 492.1,458.0 493.9,457.1 495.5,456.2 497.1,455.4 498.6,454.6 500.0,453.8 503.4,451.8 505.9,450.2 507.7,448.9 509.0,447.7 509.9,446.6 510.9,445.5 512.0,444.3 513.5,442.8 515.5,441.1 518.4,438.9 522.4,436.2 523.8,435.3 525.2,434.4 526.8,433.3 528.5,432.3 530.2,431.2 532.0,430.0 533.9,428.8 535.9,427.6 537.9,426.4 540.0,425.1 542.1,423.7 544.3,422.4 546.5,421.0 548.8,419.6 551.1,418.2 553.4,416.8 555.8,415.3 558.1,413.9 560.5,412.4 562.8,411.0 565.2,409.5 567.6,408.1 569.9,406.6 572.2,405.2 574.6,403.8 576.8,402.4 579.1,401.0 581.3,399.7 583.4,398.4 585.6,397.1 587.6,395.8 589.6,394.6 591.5,393.4 593.4,392.2 595.2,391.1 596.9,390.1 598.5,389.1 600.0,388.1 603.1,386.1 606.0,384.3 608.5,382.7 610.9,381.1 613.0,379.7 615.0,378.4 616.8,377.2 618.6,376.0 620.2,374.9 621.8,373.9 623.4,372.8 625.0,371.8 626.6,370.7 628.2,369.6 630.0,368.5 631.9,367.3 634.0,366.0 635.9,364.8 637.9,363.6 639.9,362.4 641.9,361.3 643.9,360.1 645.9,358.9 647.9,357.7 650.0,356.5 652.0,355.3 654.1,354.1 656.2,352.9 658.3,351.7 660.4,350.5 662.5,349.2 664.6,348.0 666.8,346.8 668.9,345.6 671.0,344.4 673.2,343.2 675.2,342.1 677.1,341.0 679.1,339.9 681.1,338.8 683.1,337.6 685.1,336.5 687.1,335.4 689.1,334.2 691.1,333.1 693.1,332.0 695.2,330.9 697.2,329.7 699.3,328.6 701.3,327.5 703.4,326.4 705.4,325.3 707.5,324.2 709.6,323.1 711.6,322.1 713.7,321.0 715.8,320.0 717.8,319.0 719.9,318.0 721.9,317.1 724.0,316.1 726.2,315.1 728.3,314.2 730.4,313.2 732.6,312.3 734.8,311.3 736.9,310.4 739.1,309.5 741.2,308.5 743.3,307.6 745.4,306.7 747.5,305.9 749.5,305.0 751.5,304.1 753.4,303.3 755.3,302.4 757.2,301.6 759.0,300.8 760.7,300.0 763.3,298.8 765.7,297.6 768.0,296.5 770.3,295.4 772.4,294.3 774.4,293.3 776.4,292.2 778.4,291.2 780.3,290.2 782.3,289.3 784.2,288.3 786.2,287.3 788.2,286.4 790.3,285.4 792.3,284.5 794.4,283.6 796.4,282.7 798.6,281.8 800.7,280.9 802.8,280.1 804.9,279.2 807.0,278.4 809.1,277.5 811.1,276.7 813.1,275.9 815.0,275.1 816.9,274.4 818.7,273.6 820.4,272.9 822.8,271.9 825.2,270.9 827.4,270.0 829.5,269.1 831.5,268.3 833.4,267.4 835.2,266.6 837.0,265.8 838.7,264.9 840.4,264.0 842.9,262.5 844.9,261.0 846.7,259.5 848.6,258.0 850.7,256.3 853.4,254.5 855.1,253.4 857.0,252.3 859.0,251.1 861.1,249.8 863.3,248.6 865.6,247.3 867.9,246.0 870.1,244.8 872.4,243.6 874.6,242.4 876.8,241.3 878.9,240.2 881.1,239.2 883.3,238.2 885.6,237.2 887.8,236.2 890.0,235.3 892.1,234.4 894.2,233.5 896.3,232.7 898.3,231.9 900.2,231.1 902.7,230.1 905.1,229.3 907.5,228.4 909.7,227.7 911.9,227.0 914.0,226.4 915.9,225.8 917.8,225.2 920.6,224.4 923.1,223.7 925.4,223.1 927.5,222.6 929.5,222.3 932.0,222.1 934.3,222.1 936.3,222.2 937.7,222.3" fill="none" stroke="#8a8a8a" stroke-width="1" stroke-linejoin="round" shape-rendering="crispEdges"/>
<polyline points="8.3,550.2 9.4,550.1 10.8,550.0 12.3,549.8 14.0,549.6 15.9,549.5 17.9,549.3 20.0,549.1 22.3,548.9 24.6,548.7 27.0,548.4 29.4,548.2 31.8,548.0 34.3,547.7 36.7,547.5 39.1,547.2 41.5,547.0 43.8,546.8 46.0,546.5 48.1,546.3 50.0,546.1 51.9,545.9 53.5,545.7 55.0,545.5 58.4,545.0 61.0,544.7 62.9,544.3 64.5,544.0 65.9,543.6 67.4,543.2 69.4,542.6 71.9,541.9 73.5,541.4 75.3,540.9 77.2,540.3 79.2,539.7 81.2,539.0 83.3,538.3 85.5,537.6 87.7,536.9 89.8,536.2 92.0,535.5 94.1,534.8 96.2,534.2 98.2,533.6 100.2,533.1 102.0,532.7 104.4,532.2 106.7,531.8 109.0,531.4 111.2,531.1 113.3,530.9 115.4,530.7 117.5,530.5 119.4,530.4 121.3,530.3 123.2,530.1 125.0,530.0 127.6,529.8 129.9,529.7 132.0,529.6 134.1,529.6 136.2,529.6 138.4,529.6 140.9,529.7 142.8,529.8 144.9,529.8 147.1,530.0 149.4,530.1 151.7,530.2 154.0,530.4 156.1,530.5 158.2,530.6 160.1,530.7 161.8,530.8 164.2,530.9 165.7,531.1 167.0,531.2 168.9,531.1 172.2,530.8 173.7,530.6 175.4,530.4 177.2,530.2 179.2,530.0 181.3,529.7 183.5,529.4 185.7,529.1 188.1,528.8 190.4,528.5 192.7,528.1 195.0,527.8 197.3,527.5 199.5,527.2 201.6,526.9 203.6,526.6 205.8,526.3 208.0,526.0 210.1,525.7 212.2,525.4 214.2,525.1 216.2,524.8 218.2,524.5 220.2,524.3 222.2,524.0 224.2,523.7 226.1,523.4 228.1,523.1 230.0,522.8 232.1,522.5 234.2,522.2 236.2,521.9 238.3,521.6 240.3,521.3 242.3,521.0 244.3,520.7 246.3,520.4 248.3,520.1 250.3,519.7 252.3,519.3 254.3,518.9 256.3,518.4 258.4,517.9 260.5,517.3 262.6,516.7 264.7,516.1 266.8,515.5 268.8,514.9 270.9,514.3 272.9,513.7 274.8,513.1 276.7,512.6 278.6,512.1 281.0,511.5 283.3,511.0 285.5,510.5 287.6,510.1 289.7,509.7 291.8,509.3 293.9,508.9 296.0,508.6 298.1,508.2 300.3,507.8 302.6,507.5 304.8,507.2 307.1,507.0 309.4,506.7 311.5,506.4 313.7,506.1 315.6,505.7 317.5,505.3 319.9,504.6 321.8,504.0 323.6,503.2 325.4,502.4 327.5,501.5 330.0,500.4 331.8,499.7 333.6,498.9 335.6,498.1 337.6,497.3 339.8,496.4 342.0,495.4 344.3,494.5 346.6,493.5 349.1,492.5 351.5,491.4 353.4,490.6 355.4,489.7 357.5,488.8 359.6,487.9 361.8,487.0 364.0,486.0 366.2,485.1 368.4,484.1 370.6,483.1 372.8,482.1 375.0,481.0 377.2,480.0 379.4,478.9 381.5,477.8 383.7,476.7 385.8,475.6 388.0,474.5 390.1,473.3 392.2,472.1 394.4,471.0 396.5,469.8 398.6,468.5 400.8,467.3 402.9,466.0 405.1,464.8 407.2,463.5 409.3,462.2 411.5,460.9 413.6,459.6 415.8,458.3 417.9,456.9 420.1,455.6 422.2,454.2 424.4,452.8 426.5,451.4 428.7,449.9 430.8,448.4 433.0,446.9 435.1,445.4 437.2,443.8 439.3,442.2 441.4,440.6 443.4,438.9 445.4,437.3 447.5,435.5 449.5,433.8 451.6,432.1 453.7,430.3 455.9,428.5 458.2,426.7 460.6,424.9 463.0,423.1 464.8,421.8 466.7,420.5 468.5,419.3 470.4,418.1 472.3,416.9 474.3,415.6 476.3,414.4 478.3,413.2 480.3,411.9 482.4,410.6 484.5,409.3 486.6,407.9 488.7,406.4 490.9,404.9 493.1,403.3 495.4,401.6 497.7,399.9 500.0,398.0 501.9,396.5 503.8,394.8 505.7,393.1 507.8,391.3 509.8,389.5 511.9,387.6 514.1,385.7 516.2,383.7 518.4,381.7 520.5,379.6 522.7,377.6 524.9,375.5 527.1,373.4 529.2,371.4 531.4,369.3 533.5,367.3 535.6,365.2 537.6,363.2 539.6,361.3 541.5,359.4 543.4,357.5 545.2,355.7 547.0,354.0 549.4,351.6 551.7,349.2 553.9,346.9 556.1,344.6 558.1,342.3 560.1,340.1 562.1,337.9 564.0,335.8 565.8,333.6 567.7,331.6 569.5,329.6 571.4,327.6 573.2,325.6 575.1,323.7 577.0,321.8 579.0,320.0 581.1,318.1 583.2,316.3 585.3,314.5 587.4,312.8 589.4,311.1 591.5,309.5 593.6,307.9 595.7,306.3 597.7,304.8 599.8,303.3 601.9,301.8 604.0,300.4 606.2,298.9 608.3,297.4 610.5,296.0 612.4,294.7 614.4,293.5 616.4,292.3 618.4,291.0 620.5,289.9 622.5,288.7 624.6,287.5 626.7,286.4 628.7,285.2 630.8,284.1 632.8,283.0 634.9,281.9 636.9,280.8 638.8,279.7 640.8,278.7 642.7,277.6 644.6,276.5 646.9,275.2 649.1,273.9 651.4,272.5 653.6,271.2 655.8,269.9 658.0,268.6 660.1,267.3 662.2,266.1 664.3,264.8 666.3,263.7 668.3,262.5 670.2,261.5 672.0,260.4 673.8,259.5 676.2,258.1 678.2,256.9 679.8,255.8 681.4,254.7 683.0,253.8 684.8,253.0 686.9,252.2 689.6,251.6 693.0,251.0 694.5,250.8 696.0,250.6 697.7,250.5 699.4,250.4 701.3,250.3 703.2,250.2 705.1,250.1 707.1,250.1 709.2,250.0 711.3,250.0 713.5,250.0 715.7,250.0 717.9,250.0 720.1,250.0 722.4,250.0 724.6,249.9 726.8,249.9 729.1,249.9 731.3,249.9 733.5,249.9 735.7,249.9 737.8,249.8 739.9,249.8 742.0,249.7 744.0,249.6 746.1,249.5 748.2,249.5 750.2,249.4 752.3,249.3 754.4,249.2 756.5,249.2 758.6,249.1 760.6,249.0 762.7,248.9 764.8,248.8 766.9,248.7 768.9,248.6 771.0,248.5 773.0,248.4 775.1,248.3 777.1,248.2 779.1,248.1 781.0,248.0 783.0,247.9 784.9,247.7 786.8,247.6 788.7,247.4 790.5,247.3 792.8,247.1 795.0,246.9 797.2,246.8 799.4,246.6 801.5,246.4 803.7,246.3 805.7,246.1 807.8,245.9 809.8,245.7 811.9,245.5 813.9,245.3 815.8,245.0 817.8,244.7 819.8,244.4 821.7,244.1 823.6,243.7 825.6,243.3 827.5,242.9 829.4,242.4 831.5,241.8 833.6,241.2 835.7,240.5 837.7,239.7 839.7,238.9 841.6,238.1 843.6,237.3 845.6,236.4 847.5,235.5 849.4,234.6 851.4,233.6 853.3,232.7 855.3,231.7 857.3,230.7 859.3,229.8 861.3,228.8 863.4,227.8 865.4,226.8 867.5,225.8 869.6,224.8 871.8,223.7 874.0,222.6 876.2,221.5 878.4,220.4 880.6,219.2 882.8,218.1 885.0,217.0 887.2,215.8 889.3,214.7 891.3,213.7 893.3,212.7 895.1,211.7 896.9,210.8 898.6,209.9 900.2,209.1 903.3,207.5 905.9,206.3 908.1,205.2 910.1,204.2 911.9,203.3 913.7,202.5 915.6,201.5 917.8,200.4 920.0,199.3 922.4,198.0 925.0,196.7 927.6,195.4 930.1,194.1 932.5,192.8 934.6,191.7 936.3,190.8 937.7,190.1" fill="none" stroke="#4fa00e" stroke-width="2" stroke-linejoin="round" shape-rendering="crispEdges"/>
<g shape-rendering="crispEdges">
<rect x="9" y="541" width="1" height="6" fill="#e00000"/>
<rect x="9" y="542" width="2" height="4" fill="#e00000"/>
<rect x="12" y="539" width="1" height="3" fill="#e00000"/>
<rect x="12" y="539" width="2" height="3" fill="#e00000"/>
<rect x="16" y="538" width="1" height="6" fill="#0000e0"/>
<rect x="15" y="539" width="3" height="3" fill="#0000e0"/>
<rect x="19" y="534" width="1" height="6" fill="#e00000"/>
<rect x="19" y="535" width="2" height="5" fill="#e00000"/>
<rect x="23" y="537" width="1" height="4" fill="#0000e0"/>
<rect x="22" y="537" width="3" height="4" fill="#0000e0"/>
<rect x="26" y="537" width="1" height="5" fill="#0000e0"/>
<rect x="26" y="538" width="2" height="3" fill="#0000e0"/>
<rect x="30" y="543" width="1" height="7" fill="#e00000"/>
<rect x="29" y="544" width="3" height="5" fill="#e00000"/>
<rect x="33" y="538" width="1" height="6" fill="#e00000"/>
<rect x="33" y="539" width="2" height="4" fill="#e00000"/>
<rect x="37" y="532" width="1" height="12" fill="#e00000"/>
<rect x="36" y="533" width="3" height="11" fill="#e00000"/>
<rect x="40" y="528" width="1" height="8" fill="#e00000"/>
<rect x="40" y="529" width="2" height="6" fill="#e00000"/>
<rect x="44" y="526" width="1" height="16" fill="#0000e0"/>
<rect x="43" y="527" width="3" height="10" fill="#0000e0"/>
<rect x="47" y="526" width="1" height="8" fill="#e00000"/>
<rect x="47" y="527" width="2" height="6" fill="#e00000"/>
<rect x="51" y="528" width="1" height="6" fill="#0000e0"/>
<rect x="50" y="529" width="3" height="4" fill="#0000e0"/>
<rect x="54" y="523" width="1" height="13" fill="#e00000"/>
<rect x="54" y="525" width="2" height="9" fill="#e00000"/>
<rect x="58" y="525" width="1" height="6" fill="#0000e0"/>
<rect x="57" y="526" width="3" height="4" fill="#0000e0"/>
<rect x="61" y="513" width="1" height="12" fill="#e00000"/>
<rect x="61" y="518" width="2" height="6" fill="#e00000"/>
<rect x="65" y="522" width="1" height="15" fill="#0000e0"/>
<rect x="64" y="524" width="3" height="11" fill="#0000e0"/>
<rect x="68" y="529" width="1" height="6" fill="#e00000"/>
<rect x="68" y="530" width="2" height="4" fill="#e00000"/>
<rect x="72" y="530" width="1" height="7" fill="#0000e0"/>
<rect x="71" y="531" width="3" height="5" fill="#0000e0"/>
<rect x="75" y="526" width="1" height="6" fill="#e00000"/>
<rect x="75" y="527" width="2" height="4" fill="#e00000"/>
<rect x="79" y="524" width="1" height="10" fill="#e00000"/>
<rect x="78" y="524" width="3" height="10" fill="#e00000"/>
<rect x="82" y="518" width="1" height="11" fill="#0000e0"/>
<rect x="82" y="520" width="2" height="7" fill="#0000e0"/>
<rect x="85" y="520" width="1" height="6" fill="#e00000"/>
<rect x="85" y="521" width="2" height="4" fill="#e00000"/>
<rect x="89" y="509" width="1" height="11" fill="#e00000"/>
<rect x="88" y="512" width="3" height="8" fill="#e00000"/>
<rect x="92" y="503" width="1" height="15" fill="#e00000"/>
<rect x="92" y="505" width="2" height="13" fill="#e00000"/>
<rect x="96" y="512" width="1" height="14" fill="#0000e0"/>
<rect x="95" y="513" width="3" height="12" fill="#0000e0"/>
<rect x="99" y="518" width="1" height="9" fill="#e00000"/>
<rect x="99" y="519" width="2" height="7" fill="#e00000"/>
<rect x="103" y="522" width="1" height="14" fill="#0000e0"/>
<rect x="102" y="523" width="3" height="9" fill="#0000e0"/>
<rect x="106" y="529" width="1" height="8" fill="#0000e0"/>
<rect x="106" y="530" width="2" height="6" fill="#0000e0"/>
<rect x="110" y="536" width="1" height="9" fill="#0000e0"/>
<rect x="109" y="537" width="3" height="3" fill="#0000e0"/>
<rect x="113" y="537" width="1" height="6" fill="#e00000"/>
<rect x="113" y="538" width="2" height="4" fill="#e00000"/>
<rect x="117" y="533" width="1" height="5" fill="#e00000"/>
<rect x="116" y="534" width="3" height="4" fill="#e00000"/>
<rect x="120" y="532" width="1" height="6" fill="#e00000"/>
<rect x="120" y="533" width="2" height="4" fill="#e00000"/>
<rect x="124" y="528" width="1" height="11" fill="#e00000"/>
<rect x="123" y="528" width="3" height="10" fill="#e00000"/>
<rect x="127" y="529" width="1" height="5" fill="#0000e0"/>
<rect x="127" y="530" width="2" height="3" fill="#0000e0"/>
<rect x="131" y="532" width="1" height="5" fill="#0000e0"/>
<rect x="130" y="533" width="3" height="3" fill="#0000e0"/>
<rect x="134" y="534" width="1" height="10" fill="#0000e0"/>
<rect x="134" y="536" width="2" height="6" fill="#0000e0"/>
<rect x="138" y="537" width="1" height="11" fill="#e00000"/>
<rect x="137" y="538" width="3" height="8" fill="#e00000"/>
<rect x="141" y="524" width="1" height="8" fill="#e00000"/>
<rect x="141" y="525" width="2" height="6" fill="#e00000"/>
<rect x="145" y="524" width="1" height="3" fill="#0000e0"/>
<rect x="144" y="525" width="3" height="1" fill="#0000e0"/>
<rect x="148" y="523" width="1" height="5" fill="#e00000"/>
<rect x="148" y="524" width="2" height="4" fill="#e00000"/>
<rect x="152" y="523" width="1" height="18" fill="#0000e0"/>
<rect x="151" y="524" width="3" height="16" fill="#0000e0"/>
<rect x="155" y="532" width="1" height="10" fill="#e00000"/>
<rect x="155" y="534" width="2" height="6" fill="#e00000"/>
<rect x="158" y="536" width="1" height="10" fill="#0000e0"/>
<rect x="158" y="538" width="2" height="5" fill="#0000e0"/>
<rect x="162" y="536" width="1" height="10" fill="#e00000"/>
<rect x="161" y="537" width="3" height="7" fill="#e00000"/>
<rect x="165" y="533" width="1" height="7" fill="#e00000"/>
<rect x="165" y="534" width="2" height="5" fill="#e00000"/>
<rect x="169" y="508" width="1" height="19" fill="#e00000"/>
<rect x="168" y="510" width="3" height="16" fill="#e00000"/>
<rect x="172" y="505" width="1" height="11" fill="#0000e0"/>
<rect x="172" y="507" width="2" height="7" fill="#0000e0"/>
<rect x="176" y="506" width="1" height="10" fill="#e00000"/>
<rect x="175" y="506" width="3" height="8" fill="#e00000"/>
<rect x="179" y="501" width="1" height="8" fill="#e00000"/>
<rect x="179" y="502" width="2" height="6" fill="#e00000"/>
<rect x="183" y="502" width="1" height="9" fill="#e00000"/>
<rect x="182" y="503" width="3" height="7" fill="#e00000"/>
<rect x="186" y="499" width="1" height="6" fill="#e00000"/>
<rect x="186" y="500" width="2" height="4" fill="#e00000"/>
<rect x="190" y="494" width="1" height="6" fill="#e00000"/>
<rect x="189" y="494" width="3" height="6" fill="#e00000"/>
<rect x="193" y="494" width="1" height="6" fill="#0000e0"/>
<rect x="193" y="495" width="2" height="4" fill="#0000e0"/>
<rect x="197" y="497" width="1" height="5" fill="#0000e0"/>
<rect x="196" y="498" width="3" height="3" fill="#0000e0"/>
<rect x="200" y="495" width="1" height="7" fill="#e00000"/>
<rect x="200" y="496" width="2" height="5" fill="#e00000"/>
<rect x="204" y="501" width="1" height="9" fill="#0000e0"/>
<rect x="203" y="503" width="3" height="5" fill="#0000e0"/>
<rect x="207" y="502" width="1" height="7" fill="#e00000"/>
<rect x="207" y="503" width="2" height="5" fill="#e00000"/>
<rect x="211" y="503" width="1" height="7" fill="#0000e0"/>
<rect x="210" y="504" width="3" height="5" fill="#0000e0"/>
<rect x="214" y="501" width="1" height="9" fill="#0000e0"/>
<rect x="214" y="503" width="2" height="5" fill="#0000e0"/>
<rect x="218" y="496" width="1" height="21" fill="#0000e0"/>
<rect x="217" y="501" width="3" height="10" fill="#0000e0"/>
<rect x="221" y="504" width="1" height="5" fill="#0000e0"/>
<rect x="221" y="505" width="2" height="4" fill="#0000e0"/>
<rect x="225" y="512" width="1" height="5" fill="#0000e0"/>
<rect x="224" y="512" width="3" height="4" fill="#0000e0"/>
<rect x="228" y="514" width="1" height="6" fill="#e00000"/>
<rect x="228" y="515" width="2" height="4" fill="#e00000"/>
<rect x="231" y="508" width="1" height="7" fill="#e00000"/>
<rect x="231" y="509" width="2" height="5" fill="#e00000"/>
<rect x="235" y="506" width="1" height="7" fill="#e00000"/>
<rect x="234" y="507" width="3" height="5" fill="#e00000"/>
<rect x="238" y="499" width="1" height="5" fill="#0000e0"/>
<rect x="238" y="500" width="2" height="4" fill="#0000e0"/>
<rect x="242" y="495" width="1" height="9" fill="#e00000"/>
<rect x="241" y="496" width="3" height="7" fill="#e00000"/>
<rect x="245" y="500" width="1" height="15" fill="#0000e0"/>
<rect x="245" y="502" width="2" height="10" fill="#0000e0"/>
<rect x="249" y="507" width="1" height="5" fill="#e00000"/>
<rect x="248" y="508" width="3" height="3" fill="#e00000"/>
<rect x="252" y="505" width="1" height="10" fill="#e00000"/>
<rect x="252" y="506" width="2" height="7" fill="#e00000"/>
<rect x="256" y="486" width="1" height="24" fill="#e00000"/>
<rect x="255" y="487" width="3" height="22" fill="#e00000"/>
<rect x="259" y="472" width="1" height="16" fill="#e00000"/>
<rect x="259" y="475" width="2" height="11" fill="#e00000"/>
<rect x="263" y="472" width="1" height="9" fill="#e00000"/>
<rect x="262" y="474" width="3" height="6" fill="#e00000"/>
<rect x="266" y="466" width="1" height="10" fill="#e00000"/>
<rect x="266" y="468" width="2" height="6" fill="#e00000"/>
<rect x="270" y="463" width="1" height="11" fill="#0000e0"/>
<rect x="269" y="467" width="3" height="2" fill="#0000e0"/>
<rect x="273" y="465" width="1" height="7" fill="#0000e0"/>
<rect x="273" y="466" width="2" height="5" fill="#0000e0"/>
<rect x="277" y="465" width="1" height="11" fill="#e00000"/>
<rect x="276" y="469" width="3" height="3" fill="#e00000"/>
<rect x="280" y="464" width="1" height="8" fill="#e00000"/>
<rect x="280" y="465" width="2" height="6" fill="#e00000"/>
<rect x="284" y="466" width="1" height="6" fill="#e00000"/>
<rect x="283" y="466" width="3" height="5" fill="#e00000"/>
<rect x="287" y="461" width="1" height="13" fill="#0000e0"/>
<rect x="287" y="462" width="2" height="9" fill="#0000e0"/>
<rect x="291" y="475" width="1" height="12" fill="#0000e0"/>
<rect x="290" y="476" width="3" height="8" fill="#0000e0"/>
<rect x="294" y="480" width="1" height="13" fill="#e00000"/>
<rect x="294" y="482" width="2" height="9" fill="#e00000"/>
<rect x="298" y="474" width="1" height="11" fill="#e00000"/>
<rect x="297" y="476" width="3" height="7" fill="#e00000"/>
<rect x="301" y="478" width="1" height="11" fill="#0000e0"/>
<rect x="301" y="480" width="2" height="8" fill="#0000e0"/>
<rect x="305" y="484" width="1" height="14" fill="#0000e0"/>
<rect x="304" y="488" width="3" height="7" fill="#0000e0"/>
<rect x="308" y="487" width="1" height="10" fill="#0000e0"/>
<rect x="308" y="489" width="2" height="6" fill="#0000e0"/>
<rect x="311" y="489" width="1" height="7" fill="#e00000"/>
<rect x="311" y="490" width="2" height="5" fill="#e00000"/>
<rect x="315" y="485" width="1" height="10" fill="#e00000"/>
<rect x="314" y="486" width="3" height="7" fill="#e00000"/>
<rect x="318" y="482" width="1" height="8" fill="#e00000"/>
<rect x="318" y="483" width="2" height="6" fill="#e00000"/>
<rect x="322" y="473" width="1" height="10" fill="#e00000"/>
<rect x="321" y="475" width="3" height="6" fill="#e00000"/>
<rect x="325" y="466" width="1" height="19" fill="#e00000"/>
<rect x="325" y="467" width="2" height="12" fill="#e00000"/>
<rect x="329" y="465" width="1" height="10" fill="#0000e0"/>
<rect x="328" y="466" width="3" height="4" fill="#0000e0"/>
<rect x="332" y="456" width="1" height="10" fill="#e00000"/>
<rect x="332" y="458" width="2" height="6" fill="#e00000"/>
<rect x="336" y="456" width="1" height="7" fill="#e00000"/>
<rect x="335" y="457" width="3" height="5" fill="#e00000"/>
<rect x="339" y="457" width="1" height="10" fill="#0000e0"/>
<rect x="339" y="459" width="2" height="6" fill="#0000e0"/>
<rect x="343" y="452" width="1" height="13" fill="#e00000"/>
<rect x="342" y="453" width="3" height="7" fill="#e00000"/>
<rect x="346" y="444" width="1" height="9" fill="#e00000"/>
<rect x="346" y="445" width="2" height="6" fill="#e00000"/>
<rect x="350" y="432" width="1" height="9" fill="#e00000"/>
<rect x="349" y="434" width="3" height="6" fill="#e00000"/>
<rect x="353" y="430" width="1" height="12" fill="#0000e0"/>
<rect x="353" y="432" width="2" height="9" fill="#0000e0"/>
<rect x="357" y="435" width="1" height="15" fill="#e00000"/>
<rect x="356" y="440" width="3" height="7" fill="#e00000"/>
<rect x="360" y="434" width="1" height="8" fill="#e00000"/>
<rect x="360" y="435" width="2" height="6" fill="#e00000"/>
<rect x="364" y="432" width="1" height="5" fill="#0000e0"/>
<rect x="363" y="433" width="3" height="3" fill="#0000e0"/>
<rect x="367" y="431" width="1" height="6" fill="#e00000"/>
<rect x="367" y="432" width="2" height="4" fill="#e00000"/>
<rect x="371" y="430" width="1" height="7" fill="#0000e0"/>
<rect x="370" y="431" width="3" height="5" fill="#0000e0"/>
<rect x="374" y="425" width="1" height="10" fill="#e00000"/>
<rect x="374" y="427" width="2" height="6" fill="#e00000"/>
<rect x="378" y="425" width="1" height="9" fill="#e00000"/>
<rect x="377" y="427" width="3" height="6" fill="#e00000"/>
<rect x="381" y="422" width="1" height="13" fill="#e00000"/>
<rect x="381" y="424" width="2" height="9" fill="#e00000"/>
<rect x="384" y="386" width="1" height="29" fill="#e00000"/>
<rect x="384" y="388" width="2" height="27" fill="#e00000"/>
<rect x="388" y="381" width="1" height="17" fill="#e00000"/>
<rect x="387" y="383" width="3" height="12" fill="#e00000"/>
<rect x="391" y="385" width="1" height="12" fill="#0000e0"/>
<rect x="391" y="387" width="2" height="8" fill="#0000e0"/>
<rect x="395" y="383" width="1" height="9" fill="#e00000"/>
<rect x="394" y="385" width="3" height="5" fill="#e00000"/>
<rect x="398" y="380" width="1" height="10" fill="#e00000"/>
<rect x="398" y="382" width="2" height="7" fill="#e00000"/>
<rect x="402" y="375" width="1" height="8" fill="#0000e0"/>
<rect x="401" y="376" width="3" height="6" fill="#0000e0"/>
<rect x="405" y="378" width="1" height="12" fill="#e00000"/>
<rect x="405" y="380" width="2" height="8" fill="#e00000"/>
<rect x="409" y="373" width="1" height="10" fill="#e00000"/>
<rect x="408" y="375" width="3" height="8" fill="#e00000"/>
<rect x="412" y="363" width="1" height="13" fill="#e00000"/>
<rect x="412" y="365" width="2" height="9" fill="#e00000"/>
<rect x="416" y="361" width="1" height="13" fill="#e00000"/>
<rect x="415" y="364" width="3" height="8" fill="#e00000"/>
<rect x="419" y="356" width="1" height="11" fill="#e00000"/>
<rect x="419" y="358" width="2" height="7" fill="#e00000"/>
<rect x="423" y="349" width="1" height="17" fill="#0000e0"/>
<rect x="422" y="355" width="3" height="3" fill="#0000e0"/>
<rect x="426" y="343" width="1" height="13" fill="#e00000"/>
<rect x="426" y="345" width="2" height="9" fill="#e00000"/>
<rect x="430" y="342" width="1" height="8" fill="#0000e0"/>
<rect x="429" y="344" width="3" height="2" fill="#0000e0"/>
<rect x="433" y="343" width="1" height="8" fill="#0000e0"/>
<rect x="433" y="345" width="2" height="4" fill="#0000e0"/>
<rect x="437" y="345" width="1" height="11" fill="#0000e0"/>
<rect x="436" y="352" width="3" height="4" fill="#0000e0"/>
<rect x="440" y="348" width="1" height="14" fill="#e00000"/>
<rect x="440" y="349" width="2" height="7" fill="#e00000"/>
<rect x="444" y="349" width="1" height="7" fill="#0000e0"/>
<rect x="443" y="350" width="3" height="3" fill="#0000e0"/>
<rect x="447" y="348" width="1" height="8" fill="#e00000"/>
<rect x="447" y="349" width="2" height="6" fill="#e00000"/>
<rect x="451" y="346" width="1" height="6" fill="#0000e0"/>
<rect x="450" y="347" width="3" height="5" fill="#0000e0"/>
<rect x="454" y="349" width="1" height="5" fill="#0000e0"/>
<rect x="454" y="350" width="2" height="3" fill="#0000e0"/>
<rect x="457" y="350" width="1" height="10" fill="#0000e0"/>
<rect x="457" y="351" width="2" height="3" fill="#0000e0"/>
<rect x="461" y="358" width="1" height="17" fill="#0000e0"/>
<rect x="460" y="360" width="3" height="7" fill="#0000e0"/>
<rect x="464" y="364" width="1" height="17" fill="#e00000"/>
<rect x="464" y="371" width="2" height="7" fill="#e00000"/>
<rect x="468" y="366" width="1" height="8" fill="#0000e0"/>
<rect x="467" y="367" width="3" height="5" fill="#0000e0"/>
<rect x="471" y="364" width="1" height="8" fill="#e00000"/>
<rect x="471" y="366" width="2" height="5" fill="#e00000"/>
<rect x="475" y="342" width="1" height="20" fill="#e00000"/>
<rect x="474" y="343" width="3" height="17" fill="#e00000"/>
<rect x="478" y="317" width="1" height="20" fill="#e00000"/>
<rect x="478" y="318" width="2" height="17" fill="#e00000"/>
<rect x="482" y="306" width="1" height="14" fill="#e00000"/>
<rect x="481" y="307" width="3" height="12" fill="#e00000"/>
<rect x="485" y="297" width="1" height="13" fill="#e00000"/>
<rect x="485" y="300" width="2" height="4" fill="#e00000"/>
<rect x="489" y="294" width="1" height="12" fill="#0000e0"/>
<rect x="488" y="299" width="3" height="6" fill="#0000e0"/>
<rect x="492" y="298" width="1" height="15" fill="#e00000"/>
<rect x="492" y="300" width="2" height="11" fill="#e00000"/>
<rect x="496" y="306" width="1" height="18" fill="#0000e0"/>
<rect x="495" y="310" width="3" height="7" fill="#0000e0"/>
<rect x="499" y="303" width="1" height="10" fill="#e00000"/>
<rect x="499" y="305" width="2" height="6" fill="#e00000"/>
<rect x="503" y="292" width="1" height="11" fill="#e00000"/>
<rect x="502" y="293" width="3" height="9" fill="#e00000"/>
<rect x="506" y="273" width="1" height="12" fill="#0000e0"/>
<rect x="506" y="277" width="2" height="5" fill="#0000e0"/>
<rect x="510" y="277" width="1" height="14" fill="#0000e0"/>
<rect x="509" y="280" width="3" height="6" fill="#0000e0"/>
<rect x="513" y="264" width="1" height="15" fill="#0000e0"/>
<rect x="513" y="266" width="2" height="6" fill="#0000e0"/>
<rect x="517" y="266" width="1" height="26" fill="#0000e0"/>
<rect x="516" y="267" width="3" height="17" fill="#0000e0"/>
<rect x="520" y="287" width="1" height="13" fill="#0000e0"/>
<rect x="520" y="290" width="2" height="2" fill="#0000e0"/>
<rect x="524" y="275" width="1" height="13" fill="#e00000"/>
<rect x="523" y="276" width="3" height="11" fill="#e00000"/>
<rect x="527" y="272" width="1" height="8" fill="#e00000"/>
<rect x="527" y="273" width="2" height="3" fill="#e00000"/>
<rect x="530" y="277" width="1" height="15" fill="#0000e0"/>
<rect x="530" y="280" width="2" height="8" fill="#0000e0"/>
<rect x="534" y="278" width="1" height="10" fill="#e00000"/>
<rect x="533" y="279" width="3" height="8" fill="#e00000"/>
<rect x="537" y="269" width="1" height="14" fill="#e00000"/>
<rect x="537" y="271" width="2" height="9" fill="#e00000"/>
<rect x="541" y="263" width="1" height="22" fill="#0000e0"/>
<rect x="540" y="265" width="3" height="18" fill="#0000e0"/>
<rect x="544" y="263" width="1" height="22" fill="#0000e0"/>
<rect x="544" y="267" width="2" height="7" fill="#0000e0"/>
<rect x="548" y="241" width="1" height="28" fill="#e00000"/>
<rect x="547" y="242" width="3" height="26" fill="#e00000"/>
<rect x="551" y="236" width="1" height="16" fill="#e00000"/>
<rect x="551" y="239" width="2" height="11" fill="#e00000"/>
<rect x="555" y="214" width="1" height="19" fill="#0000e0"/>
<rect x="554" y="224" width="3" height="4" fill="#0000e0"/>
<rect x="558" y="224" width="1" height="18" fill="#0000e0"/>
<rect x="558" y="226" width="2" height="13" fill="#0000e0"/>
<rect x="562" y="237" width="1" height="28" fill="#e00000"/>
<rect x="561" y="238" width="3" height="26" fill="#e00000"/>
<rect x="565" y="217" width="1" height="14" fill="#e00000"/>
<rect x="565" y="219" width="2" height="10" fill="#e00000"/>
<rect x="569" y="211" width="1" height="13" fill="#0000e0"/>
<rect x="568" y="213" width="3" height="9" fill="#0000e0"/>
<rect x="572" y="221" width="1" height="9" fill="#0000e0"/>
<rect x="572" y="222" width="2" height="6" fill="#0000e0"/>
<rect x="576" y="231" width="1" height="21" fill="#0000e0"/>
<rect x="575" y="234" width="3" height="14" fill="#0000e0"/>
<rect x="579" y="286" width="1" height="37" fill="#e00000"/>
<rect x="579" y="289" width="2" height="18" fill="#e00000"/>
<rect x="583" y="252" width="1" height="30" fill="#e00000"/>
<rect x="582" y="253" width="3" height="15" fill="#e00000"/>
<rect x="586" y="248" width="1" height="14" fill="#0000e0"/>
<rect x="586" y="250" width="2" height="10" fill="#0000e0"/>
<rect x="590" y="237" width="1" height="24" fill="#e00000"/>
<rect x="589" y="241" width="3" height="14" fill="#e00000"/>
<rect x="593" y="227" width="1" height="14" fill="#0000e0"/>
<rect x="593" y="229" width="2" height="10" fill="#0000e0"/>
<rect x="597" y="241" width="1" height="4" fill="#e00000"/>
<rect x="596" y="241" width="3" height="4" fill="#e00000"/>
<rect x="600" y="227" width="1" height="20" fill="#0000e0"/>
<rect x="600" y="230" width="2" height="14" fill="#0000e0"/>
<rect x="604" y="244" width="1" height="17" fill="#0000e0"/>
<rect x="603" y="249" width="3" height="5" fill="#0000e0"/>
<rect x="607" y="246" width="1" height="12" fill="#0000e0"/>
<rect x="607" y="248" width="2" height="8" fill="#0000e0"/>
<rect x="610" y="262" width="1" height="32" fill="#0000e0"/>
<rect x="610" y="264" width="2" height="18" fill="#0000e0"/>
<rect x="614" y="166" width="1" height="71" fill="#0000e0"/>
<rect x="613" y="175" width="3" height="59" fill="#0000e0"/>
<rect x="617" y="222" width="1" height="30" fill="#0000e0"/>
<rect x="617" y="225" width="2" height="3" fill="#0000e0"/>
<rect x="621" y="205" width="1" height="33" fill="#0000e0"/>
<rect x="620" y="223" width="3" height="15" fill="#0000e0"/>
<rect x="624" y="237" width="1" height="13" fill="#0000e0"/>
<rect x="624" y="239" width="2" height="9" fill="#0000e0"/>
<rect x="628" y="220" width="1" height="26" fill="#e00000"/>
<rect x="627" y="230" width="3" height="11" fill="#e00000"/>
<rect x="631" y="218" width="1" height="12" fill="#e00000"/>
<rect x="631" y="219" width="2" height="9" fill="#e00000"/>
<rect x="635" y="212" width="1" height="18" fill="#0000e0"/>
<rect x="634" y="220" width="3" height="9" fill="#0000e0"/>
<rect x="638" y="235" width="1" height="16" fill="#0000e0"/>
<rect x="638" y="237" width="2" height="11" fill="#0000e0"/>
<rect x="642" y="238" width="1" height="10" fill="#e00000"/>
<rect x="641" y="239" width="3" height="7" fill="#e00000"/>
<rect x="645" y="238" width="1" height="21" fill="#e00000"/>
<rect x="645" y="241" width="2" height="15" fill="#e00000"/>
<rect x="649" y="228" width="1" height="14" fill="#e00000"/>
<rect x="648" y="229" width="3" height="11" fill="#e00000"/>
<rect x="652" y="220" width="1" height="16" fill="#e00000"/>
<rect x="652" y="222" width="2" height="12" fill="#e00000"/>
<rect x="656" y="227" width="1" height="17" fill="#0000e0"/>
<rect x="655" y="230" width="3" height="11" fill="#0000e0"/>
<rect x="659" y="227" width="1" height="11" fill="#0000e0"/>
<rect x="659" y="229" width="2" height="7" fill="#0000e0"/>
<rect x="663" y="220" width="1" height="13" fill="#e00000"/>
<rect x="662" y="222" width="3" height="9" fill="#e00000"/>
<rect x="666" y="218" width="1" height="30" fill="#0000e0"/>
<rect x="666" y="221" width="2" height="16" fill="#0000e0"/>
<rect x="670" y="229" width="1" height="15" fill="#0000e0"/>
<rect x="669" y="231" width="3" height="11" fill="#0000e0"/>
<rect x="673" y="239" width="1" height="14" fill="#0000e0"/>
<rect x="673" y="241" width="2" height="10" fill="#0000e0"/>
<rect x="677" y="243" width="1" height="15" fill="#e00000"/>
<rect x="676" y="243" width="3" height="14" fill="#e00000"/>
<rect x="680" y="235" width="1" height="13" fill="#e00000"/>
<rect x="680" y="237" width="2" height="9" fill="#e00000"/>
<rect x="683" y="232" width="1" height="30" fill="#0000e0"/>
<rect x="683" y="236" width="2" height="25" fill="#0000e0"/>
<rect x="687" y="247" width="1" height="14" fill="#e00000"/>
<rect x="686" y="249" width="3" height="10" fill="#e00000"/>
<rect x="690" y="248" width="1" height="12" fill="#0000e0"/>
<rect x="690" y="250" width="2" height="8" fill="#0000e0"/>
<rect x="694" y="250" width="1" height="12" fill="#0000e0"/>
<rect x="693" y="252" width="3" height="8" fill="#0000e0"/>
<rect x="697" y="252" width="1" height="16" fill="#e00000"/>
<rect x="697" y="253" width="2" height="14" fill="#e00000"/>
<rect x="701" y="246" width="1" height="10" fill="#e00000"/>
<rect x="700" y="247" width="3" height="8" fill="#e00000"/>
<rect x="704" y="253" width="1" height="13" fill="#0000e0"/>
<rect x="704" y="255" width="2" height="9" fill="#0000e0"/>
<rect x="708" y="256" width="1" height="24" fill="#0000e0"/>
<rect x="707" y="260" width="3" height="16" fill="#0000e0"/>
<rect x="711" y="274" width="1" height="9" fill="#e00000"/>
<rect x="711" y="275" width="2" height="6" fill="#e00000"/>
<rect x="715" y="269" width="1" height="23" fill="#0000e0"/>
<rect x="714" y="271" width="3" height="17" fill="#0000e0"/>
<rect x="718" y="280" width="1" height="14" fill="#e00000"/>
<rect x="718" y="282" width="2" height="10" fill="#e00000"/>
<rect x="722" y="289" width="1" height="21" fill="#0000e0"/>
<rect x="721" y="291" width="3" height="17" fill="#0000e0"/>
<rect x="725" y="291" width="1" height="17" fill="#e00000"/>
<rect x="725" y="293" width="2" height="13" fill="#e00000"/>
<rect x="729" y="272" width="1" height="19" fill="#e00000"/>
<rect x="728" y="277" width="3" height="13" fill="#e00000"/>
<rect x="732" y="269" width="1" height="17" fill="#0000e0"/>
<rect x="732" y="271" width="2" height="12" fill="#0000e0"/>
<rect x="736" y="278" width="1" height="19" fill="#e00000"/>
<rect x="735" y="281" width="3" height="13" fill="#e00000"/>
<rect x="739" y="269" width="1" height="9" fill="#e00000"/>
<rect x="739" y="270" width="2" height="7" fill="#e00000"/>
<rect x="743" y="253" width="1" height="21" fill="#0000e0"/>
<rect x="742" y="255" width="3" height="13" fill="#0000e0"/>
<rect x="746" y="269" width="1" height="21" fill="#0000e0"/>
<rect x="746" y="273" width="2" height="16" fill="#0000e0"/>
<rect x="750" y="278" width="1" height="19" fill="#e00000"/>
<rect x="749" y="284" width="3" height="11" fill="#e00000"/>
<rect x="753" y="263" width="1" height="17" fill="#0000e0"/>
<rect x="753" y="266" width="2" height="12" fill="#0000e0"/>
<rect x="756" y="257" width="1" height="18" fill="#e00000"/>
<rect x="756" y="260" width="2" height="12" fill="#e00000"/>
<rect x="760" y="246" width="1" height="20" fill="#e00000"/>
<rect x="759" y="249" width="3" height="14" fill="#e00000"/>
<rect x="763" y="240" width="1" height="17" fill="#0000e0"/>
<rect x="763" y="250" width="2" height="6" fill="#0000e0"/>
<rect x="767" y="244" width="1" height="16" fill="#e00000"/>
<rect x="766" y="247" width="3" height="11" fill="#e00000"/>
<rect x="770" y="245" width="1" height="16" fill="#e00000"/>
<rect x="770" y="248" width="2" height="11" fill="#e00000"/>
<rect x="774" y="230" width="1" height="15" fill="#e00000"/>
<rect x="773" y="232" width="3" height="11" fill="#e00000"/>
<rect x="777" y="233" width="1" height="14" fill="#0000e0"/>
<rect x="777" y="234" width="2" height="12" fill="#0000e0"/>
<rect x="781" y="223" width="1" height="21" fill="#e00000"/>
<rect x="780" y="227" width="3" height="14" fill="#e00000"/>
<rect x="784" y="201" width="1" height="20" fill="#e00000"/>
<rect x="784" y="204" width="2" height="14" fill="#e00000"/>
<rect x="788" y="201" width="1" height="10" fill="#0000e0"/>
<rect x="787" y="202" width="3" height="7" fill="#0000e0"/>
<rect x="791" y="198" width="1" height="13" fill="#e00000"/>
<rect x="791" y="200" width="2" height="9" fill="#e00000"/>
<rect x="795" y="192" width="1" height="8" fill="#e00000"/>
<rect x="794" y="193" width="3" height="6" fill="#e00000"/>
<rect x="798" y="189" width="1" height="16" fill="#e00000"/>
<rect x="798" y="191" width="2" height="11" fill="#e00000"/>
<rect x="802" y="186" width="1" height="14" fill="#0000e0"/>
<rect x="801" y="188" width="3" height="10" fill="#0000e0"/>
<rect x="805" y="191" width="1" height="15" fill="#0000e0"/>
<rect x="805" y="193" width="2" height="11" fill="#0000e0"/>
<rect x="809" y="182" width="1" height="26" fill="#e00000"/>
<rect x="808" y="189" width="3" height="12" fill="#e00000"/>
<rect x="812" y="176" width="1" height="28" fill="#0000e0"/>
<rect x="812" y="177" width="2" height="18" fill="#0000e0"/>
<rect x="816" y="185" width="1" height="21" fill="#e00000"/>
<rect x="815" y="192" width="3" height="14" fill="#e00000"/>
<rect x="819" y="197" width="1" height="56" fill="#0000e0"/>
<rect x="819" y="198" width="2" height="50" fill="#0000e0"/>
<rect x="823" y="226" width="1" height="39" fill="#0000e0"/>
<rect x="822" y="227" width="3" height="26" fill="#0000e0"/>
<rect x="826" y="242" width="1" height="26" fill="#0000e0"/>
<rect x="826" y="246" width="2" height="18" fill="#0000e0"/>
<rect x="830" y="255" width="1" height="17" fill="#0000e0"/>
<rect x="829" y="260" width="3" height="8" fill="#0000e0"/>
<rect x="833" y="205" width="1" height="44" fill="#e00000"/>
<rect x="833" y="206" width="2" height="15" fill="#e00000"/>
<rect x="836" y="192" width="1" height="23" fill="#0000e0"/>
<rect x="836" y="203" width="2" height="5" fill="#0000e0"/>
<rect x="840" y="192" width="1" height="22" fill="#e00000"/>
<rect x="839" y="195" width="3" height="16" fill="#e00000"/>
<rect x="843" y="132" width="1" height="31" fill="#e00000"/>
<rect x="843" y="149" width="2" height="14" fill="#e00000"/>
<rect x="847" y="132" width="1" height="26" fill="#e00000"/>
<rect x="846" y="136" width="3" height="18" fill="#e00000"/>
<rect x="850" y="122" width="1" height="8" fill="#0000e0"/>
<rect x="850" y="122" width="2" height="7" fill="#0000e0"/>
<rect x="854" y="128" width="1" height="8" fill="#0000e0"/>
<rect x="853" y="129" width="3" height="6" fill="#0000e0"/>
<rect x="857" y="126" width="1" height="12" fill="#e00000"/>
<rect x="857" y="128" width="2" height="9" fill="#e00000"/>
<rect x="861" y="115" width="1" height="31" fill="#e00000"/>
<rect x="860" y="118" width="3" height="18" fill="#e00000"/>
<rect x="864" y="118" width="1" height="10" fill="#0000e0"/>
<rect x="864" y="119" width="2" height="7" fill="#0000e0"/>
<rect x="868" y="118" width="1" height="25" fill="#0000e0"/>
<rect x="867" y="123" width="3" height="15" fill="#0000e0"/>
<rect x="871" y="139" width="1" height="18" fill="#0000e0"/>
<rect x="871" y="142" width="2" height="12" fill="#0000e0"/>
<rect x="875" y="137" width="1" height="13" fill="#e00000"/>
<rect x="874" y="144" width="3" height="6" fill="#e00000"/>
<rect x="878" y="127" width="1" height="15" fill="#e00000"/>
<rect x="878" y="129" width="2" height="11" fill="#e00000"/>
<rect x="882" y="128" width="1" height="13" fill="#0000e0"/>
<rect x="881" y="133" width="3" height="8" fill="#0000e0"/>
<rect x="885" y="122" width="1" height="18" fill="#e00000"/>
<rect x="885" y="124" width="2" height="13" fill="#e00000"/>
<rect x="889" y="118" width="1" height="18" fill="#0000e0"/>
<rect x="888" y="124" width="3" height="11" fill="#0000e0"/>
<rect x="892" y="120" width="1" height="24" fill="#e00000"/>
<rect x="892" y="126" width="2" height="10" fill="#e00000"/>
<rect x="896" y="123" width="1" height="15" fill="#e00000"/>
<rect x="895" y="131" width="3" height="6" fill="#e00000"/>
<rect x="899" y="122" width="1" height="13" fill="#e00000"/>
<rect x="899" y="124" width="2" height="9" fill="#e00000"/>
<rect x="903" y="121" width="1" height="11" fill="#e00000"/>
<rect x="902" y="123" width="3" height="7" fill="#e00000"/>
<rect x="906" y="111" width="1" height="31" fill="#e00000"/>
<rect x="906" y="122" width="2" height="8" fill="#e00000"/>
<rect x="909" y="109" width="1" height="26" fill="#0000e0"/>
<rect x="909" y="119" width="2" height="12" fill="#0000e0"/>
<rect x="913" y="131" width="1" height="35" fill="#0000e0"/>
<rect x="912" y="133" width="3" height="9" fill="#0000e0"/>
<rect x="916" y="148" width="1" height="10" fill="#0000e0"/>
<rect x="916" y="148" width="2" height="9" fill="#0000e0"/>
<rect x="920" y="150" width="1" height="12" fill="#e00000"/>
<rect x="919" y="152" width="3" height="8" fill="#e00000"/>
<rect x="923" y="135" width="1" height="33" fill="#e00000"/>
<rect x="923" y="148" width="2" height="6" fill="#e00000"/>
<rect x="927" y="142" width="1" height="18" fill="#0000e0"/>
<rect x="926" y="144" width="3" height="15" fill="#0000e0"/>
<rect x="930" y="168" width="1" height="23" fill="#0000e0"/>
<rect x="930" y="174" width="2" height="10" fill="#0000e0"/>
<rect x="934" y="188" width="1" height="27" fill="#0000e0"/>
<rect x="933" y="189" width="3" height="10" fill="#0000e0"/>
<rect x="937" y="248" width="1" height="46" fill="#e00000"/>
<rect x="937" y="268" width="2" height="18" fill="#e00000"/>
</g>
<polyline points="8.3,528.5 9.8,528.9 11.9,529.4 14.4,530.0 17.0,530.6 19.5,531.3 21.7,531.8 23.7,532.4 25.3,532.9 26.9,533.4 28.9,533.9 31.7,534.3 33.3,534.5 35.2,534.7 37.3,534.9 39.5,535.1 41.8,535.3 44.1,535.5 46.4,535.7 48.7,535.8 51.0,535.9 53.1,536.0 55.0,536.0 57.4,536.0 59.8,535.9 62.0,535.7 64.1,535.5 66.1,535.2 68.1,534.9 70.0,534.6 71.9,534.3 74.3,533.9 76.6,533.4 78.8,532.8 80.9,532.2 83.0,531.6 85.2,531.0 87.5,530.3 89.8,529.5 92.1,528.7 94.4,528.0 96.6,527.3 98.6,526.8 100.8,526.4 102.8,526.1 104.7,526.0 106.6,526.0 108.6,526.0 110.6,526.2 112.6,526.5 114.7,526.9 117.1,527.3 120.0,527.6 121.7,527.7 123.6,527.8 125.7,527.9 127.9,528.0 130.1,528.1 132.4,528.2 134.6,528.3 136.8,528.4 138.9,528.6 140.9,528.7 143.2,528.9 145.5,529.2 147.7,529.5 149.9,529.8 152.0,530.0 154.0,530.3 155.8,530.6 157.6,530.8 160.0,531.2 162.0,531.6 163.8,531.9 165.7,532.0 168.0,531.8 169.8,531.4 171.7,530.9 173.7,530.3 175.7,529.5 177.9,528.7 180.2,527.7 182.7,526.6 184.5,525.8 186.5,524.8 188.5,523.7 190.6,522.6 192.8,521.5 194.9,520.3 197.1,519.2 199.3,518.1 201.5,517.0 203.6,516.1 205.8,515.2 208.0,514.4 210.4,513.5 212.7,512.7 215.0,512.0 217.2,511.2 219.4,510.5 221.3,509.9 223.0,509.3 224.5,508.8 227.0,507.2 230.0,506.3 231.4,506.1 233.0,506.0 234.8,505.8 236.7,505.7 238.8,505.6 241.0,505.5 243.2,505.3 245.5,505.1 247.8,504.9 250.0,504.6 252.2,504.2 254.3,503.8 256.4,503.3 258.5,502.6 260.6,501.9 262.8,501.1 264.9,500.3 267.1,499.4 269.2,498.6 271.2,497.7 273.2,496.9 275.1,496.0 276.9,495.3 278.6,494.6 281.2,493.5 283.3,492.6 285.3,491.6 287.1,490.8 289.0,489.9 290.9,489.1 293.2,488.3 295.2,487.7 297.2,487.0 299.4,486.4 301.7,485.8 303.9,485.1 306.2,484.6 308.4,484.0 310.6,483.4 312.7,482.9 315.0,482.3 317.3,481.8 319.7,481.3 321.9,480.8 324.1,480.3 326.2,479.9 328.2,479.4 330.0,479.0 332.4,478.4 334.3,477.9 336.0,477.4 337.9,476.8 340.3,476.1 342.1,475.6 344.1,475.0 346.3,474.4 348.5,473.8 350.7,473.1 353.0,472.4 355.1,471.5 357.1,470.5 359.6,469.0 361.9,467.4 364.2,465.6 366.5,463.7 368.7,461.6 371.0,459.4 373.3,456.9 375.7,454.1 378.1,451.1 380.5,448.1 382.7,445.2 384.9,442.6 387.3,439.8 389.6,437.4 391.8,435.0 393.9,432.6 396.1,430.1 398.3,427.4 400.5,424.6 402.8,421.7 405.0,418.9 407.2,416.2 409.4,413.6 411.7,411.1 413.9,408.6 416.2,406.1 418.4,403.6 420.6,401.1 422.8,398.6 425.1,396.1 427.3,393.6 429.5,391.1 431.7,388.6 434.0,386.0 436.2,383.4 438.5,380.9 440.7,378.5 442.9,376.1 445.1,373.8 447.4,371.5 449.6,369.3 451.8,367.4 454.0,365.7 456.3,364.2 458.5,362.8 460.8,361.6 463.0,360.4 465.2,359.4 467.4,358.7 469.7,358.0 471.9,357.3 474.1,356.2 476.3,354.8 478.4,353.2 480.6,351.5 482.8,349.7 485.3,347.9 487.1,346.7 489.0,345.7 490.9,344.7 492.9,343.6 495.1,342.2 497.4,340.4 500.0,338.1 501.8,336.3 503.7,334.2 505.6,331.9 507.7,329.4 509.8,326.8 512.0,324.1 514.2,321.4 516.4,318.6 518.6,315.9 520.8,313.1 523.0,310.5 525.0,308.1 526.9,305.7 528.9,303.2 530.9,300.7 532.9,298.2 534.9,295.7 536.9,293.3 538.9,290.8 540.9,288.4 543.0,286.0 545.0,283.7 547.0,281.4 549.0,279.2 551.1,276.9 553.1,274.6 555.2,272.4 557.2,270.2 559.3,268.0 561.3,265.9 563.4,263.9 565.5,262.0 567.5,260.2 569.6,258.5 571.6,257.0 573.6,255.7 575.7,254.5 577.7,253.4 579.8,252.5 581.8,251.7 583.8,250.9 585.9,250.3 587.9,249.6 589.9,249.0 592.0,248.5 594.0,247.9 596.0,247.3 598.0,246.7 600.0,246.2 602.0,245.7 604.0,245.2 606.0,244.8 608.0,244.4 610.0,244.0 612.0,243.7 614.0,243.3 616.0,243.0 618.0,242.7 620.0,242.4 622.0,242.1 624.1,241.9 626.1,241.6 628.2,241.4 630.2,241.2 632.3,241.0 634.3,240.9 636.4,240.7 638.5,240.5 640.5,240.4 642.6,240.2 644.6,240.0 646.7,239.8 648.8,239.6 650.9,239.4 653.1,239.2 655.3,239.0 657.4,238.8 659.5,238.6 661.6,238.4 663.6,238.2 665.5,238.0 667.3,237.8 669.0,237.6 671.5,237.2 673.7,236.8 675.6,236.3 677.5,235.9 679.3,235.6 681.3,235.5 683.5,235.5 685.4,235.7 687.5,235.9 689.6,236.2 691.8,236.6 694.1,237.1 696.3,237.7 698.6,238.4 700.8,239.1 703.0,240.0 705.2,241.0 707.3,242.1 709.5,243.3 711.6,244.7 713.8,246.1 715.9,247.5 718.1,249.0 720.2,250.5 722.4,252.0 724.6,253.6 726.7,255.3 728.9,257.0 731.0,258.9 733.2,260.7 735.3,262.4 737.5,264.0 739.6,265.5 741.8,266.8 744.0,267.9 746.2,268.9 748.5,269.8 750.7,270.6 753.0,271.2 755.2,271.8 757.3,272.3 759.3,272.7 761.3,273.0 763.6,273.3 765.8,273.4 767.9,273.4 769.9,273.2 771.9,272.9 773.9,272.4 775.9,271.7 777.9,270.9 779.9,269.9 781.9,268.8 783.9,267.5 786.0,265.9 788.2,264.1 790.5,262.0 792.5,260.1 794.6,257.8 796.8,255.4 799.1,252.8 801.4,250.1 803.7,247.4 805.9,244.8 808.0,242.3 810.0,240.0 812.3,237.2 814.5,234.4 816.6,231.7 818.6,229.1 820.6,226.8 822.6,224.7 824.6,223.0 826.7,221.8 828.7,221.2 830.8,220.9 832.8,220.7 834.9,220.5 836.9,220.0 839.0,219.0 841.0,217.6 843.0,215.9 845.0,214.0 847.1,211.9 849.2,209.7 851.4,207.3 853.7,205.0 855.6,203.2 857.7,201.3 859.8,199.4 861.9,197.4 864.1,195.3 866.4,193.2 868.6,190.9 870.8,188.5 873.0,186.0 875.2,183.2 877.5,180.2 879.8,176.9 882.2,173.5 884.5,170.1 886.7,166.8 888.8,163.6 890.8,160.6 892.6,158.0 895.3,153.9 897.6,150.4 899.6,147.3 901.4,144.5 903.2,141.8 905.9,137.6 908.2,134.0 910.5,131.6 912.9,130.7 915.3,131.0 917.8,131.6 920.0,132.1 922.3,132.8 924.6,133.6 926.6,134.5 929.7,136.3 932.4,138.9 935.4,143.6 937.7,147.7" fill="none" stroke="#d40000" stroke-width="2" stroke-linejoin="round" shape-rendering="crispEdges"/>
<polyline points="8.3,542.7 9.8,542.5 11.8,542.2 14.3,541.9 16.9,541.5 19.4,541.2 21.7,541.0 24.2,541.0 26.7,541.1 29.0,541.3 31.3,541.3 33.4,541.0 35.6,540.1 37.5,538.7 39.4,537.2 41.8,536.0 43.8,535.4 46.0,534.8 48.4,534.4 50.8,533.9 53.0,533.3 55.0,532.7 57.4,531.4 59.3,529.9 61.3,528.5 63.5,527.7 65.7,527.6 68.2,528.0 70.7,528.5 73.1,529.0 75.2,529.3 77.7,529.6 79.6,529.5 81.9,528.5 83.7,527.0 85.7,524.8 87.9,522.3 89.9,520.1 91.9,518.5 94.2,517.3 96.3,516.6 98.4,516.4 100.3,516.8 102.7,518.3 104.8,520.8 107.0,523.5 109.2,526.6 111.4,530.0 113.6,532.7 115.5,534.4 117.4,535.4 120.0,536.0 121.7,536.1 123.6,536.1 125.7,536.0 127.9,535.7 130.2,535.4 132.5,535.0 134.5,534.5 136.7,533.9 138.9,533.2 141.1,532.4 143.2,531.7 145.3,531.2 147.2,530.8 149.6,530.6 151.9,530.7 153.9,531.0 155.9,531.4 157.6,531.8 160.0,533.0 162.0,534.4 163.9,535.0 166.0,534.5 168.1,533.1 170.2,530.8 172.3,527.1 174.3,522.5 176.4,518.2 178.3,514.5 180.3,511.0 182.7,507.8 184.5,506.1 186.7,504.4 188.9,502.9 191.1,501.6 193.1,500.5 195.3,499.4 197.3,498.7 199.3,498.3 201.5,498.4 203.5,499.0 205.6,500.0 207.7,501.2 209.9,502.4 212.0,503.6 214.1,504.7 216.3,505.8 218.4,506.9 220.4,507.9 222.4,508.8 224.6,509.9 226.7,510.9 228.8,511.6 230.8,512.0 232.9,511.9 235.1,511.5 237.2,510.8 239.1,509.9 241.4,508.2 243.4,506.1 245.4,504.6 248.2,505.0 251.1,504.9 253.3,502.7 255.5,499.6 257.8,495.9 260.0,491.7 262.1,487.0 264.5,482.6 266.6,479.4 268.8,476.3 271.1,473.5 273.4,471.4 275.7,470.1 278.0,469.5 280.3,469.2 282.4,469.2 284.8,469.5 286.9,470.3 289.0,471.4 291.2,472.6 293.5,474.2 295.7,475.9 297.9,478.1 300.2,480.5 302.4,482.6 304.6,484.3 306.9,485.7 309.1,487.0 311.3,488.5 313.6,490.0 315.8,490.4 318.0,489.3 320.3,487.2 322.5,484.8 324.7,482.2 326.8,479.2 329.2,475.9 331.3,473.2 333.5,470.3 335.8,467.4 338.1,464.7 340.3,462.4 342.6,460.2 344.8,458.1 347.0,455.8 349.3,453.1 351.6,450.2 353.8,447.3 355.9,444.7 358.2,441.7 360.3,439.0 362.6,436.9 364.6,435.8 366.6,435.1 368.8,434.5 371.1,433.7 373.1,433.1 375.2,432.6 377.4,431.9 379.4,430.9 381.2,429.3 384.2,422.4 386.8,413.6 389.0,406.9 391.2,399.7 393.4,393.6 396.0,387.6 399.0,383.5 400.7,382.3 402.7,381.5 404.9,380.8 407.0,380.1 409.0,379.1 411.4,377.4 413.7,375.6 415.9,373.5 418.0,371.3 420.4,368.1 422.6,364.6 424.7,361.2 426.9,357.6 429.1,354.0 431.3,351.2 433.4,349.6 435.4,348.9 438.0,348.5 440.0,348.4 442.3,348.4 444.7,348.5 447.0,348.7 449.2,349.0 451.6,349.3 453.8,349.6 455.9,350.1 458.1,351.2 460.4,353.1 462.8,355.5 465.0,358.0 467.0,360.1 470.2,363.3 472.6,364.6 475.9,357.9 477.8,351.0 480.1,342.2 482.5,334.0 485.1,326.9 487.8,320.4 490.0,315.0 492.6,306.7 494.2,305.7 496.2,305.1 498.4,304.6 500.6,303.9 502.6,302.9 505.3,300.4 507.8,297.4 510.1,294.2 512.2,290.7 514.2,287.0 516.4,284.1 518.5,282.9 520.7,282.1 523.0,281.8 525.2,281.6 527.8,282.0 530.2,282.9 532.7,282.9 535.3,281.2 537.9,278.6 540.2,276.6 542.9,276.5 545.3,275.3 547.6,268.7 550.3,260.3 552.6,255.2 555.2,250.1 557.8,245.2 560.3,240.1 562.8,235.1 565.3,231.4 567.9,229.5 570.6,228.8 572.9,228.9 575.4,229.6 577.9,232.7 580.2,237.5 582.8,243.8 585.4,249.0 587.9,252.9 590.4,255.8 592.9,256.5 595.4,253.2 598.0,247.6 600.5,244.0 602.8,244.8 605.0,247.6 607.6,249.1 609.4,248.6 611.4,247.5 613.5,246.0 615.6,244.4 617.6,242.8 619.6,241.1 621.6,239.1 623.6,237.1 625.6,235.3 627.6,234.0 629.6,233.2 631.6,232.7 633.7,232.6 635.7,232.6 637.7,232.8 639.7,233.3 641.8,234.3 643.9,235.3 645.9,236.2 647.7,236.6 650.4,236.2 652.8,235.2 655.2,234.0 657.7,232.6 660.3,231.0 662.8,230.3 665.2,230.9 667.6,232.3 670.3,234.0 672.2,235.1 674.4,236.3 676.5,237.7 678.6,239.0 680.3,240.3 682.8,243.5 685.3,246.6 687.0,247.7 689.0,248.8 691.1,249.7 693.3,250.7 695.4,251.6 697.4,252.3 699.5,252.9 701.6,253.5 703.6,254.3 705.4,255.4 708.1,257.9 710.5,261.1 712.9,265.4 715.5,271.9 718.1,279.5 720.5,285.5 722.7,288.5 724.7,289.9 726.7,290.5 729.6,290.9 732.6,289.2 735.1,285.4 737.7,280.5 740.1,276.7 742.6,275.3 745.1,275.4 747.4,275.5 750.0,275.7 752.6,275.4 755.1,274.4 757.7,272.8 760.2,270.4 762.6,266.8 765.0,262.3 767.7,257.8 769.6,255.5 771.6,253.3 773.8,251.0 775.8,248.4 777.7,245.3 780.4,238.3 782.8,230.1 785.2,222.7 787.7,216.5 790.3,211.0 792.8,206.4 795.2,202.6 797.6,199.7 800.3,197.6 802.2,196.8 804.2,196.4 806.4,196.2 808.4,196.3 810.3,196.4 813.0,196.2 815.5,196.4 817.9,198.9 820.5,205.3 823.0,214.1 825.4,222.7 827.5,231.7 829.5,240.5 831.6,245.0 833.8,243.4 836.0,237.6 838.3,229.0 840.6,216.7 842.9,201.6 845.0,188.0 847.7,173.1 850.5,160.0 852.8,150.1 855.3,140.3 857.8,133.0 860.2,129.6 862.6,128.7 865.1,128.7 867.2,129.1 869.4,130.2 871.7,131.6 873.9,133.0 876.1,134.7 878.3,136.7 880.5,138.3 882.7,138.9 884.9,137.9 887.1,135.8 889.3,133.4 891.5,131.6 893.7,130.6 895.9,130.0 898.1,129.4 900.2,128.7 902.8,126.9 905.2,125.0 907.6,124.3 910.0,125.8 912.4,128.5 914.9,131.6 917.0,133.8 919.2,136.2 921.5,138.8 923.6,141.8 926.3,146.7 928.8,152.3 931.0,157.9 933.5,165.9 935.4,174.0 938.3,190.1" fill="none" stroke="#000000" stroke-width="1" stroke-linejoin="round" shape-rendering="crispEdges"/>
<g shape-rendering="crispEdges">
<rect x="9" y="673" width="2" height="4" fill="#e00000"/>
<rect x="12" y="673" width="2" height="4" fill="#e00000"/>
<rect x="15" y="673" width="3" height="4" fill="#0000e0"/>
<rect x="19" y="672" width="2" height="5" fill="#e00000"/>
<rect x="22" y="674" width="3" height="3" fill="#0000e0"/>
<rect x="26" y="672" width="2" height="5" fill="#0000e0"/>
<rect x="29" y="671" width="3" height="6" fill="#e00000"/>
<rect x="33" y="673" width="2" height="4" fill="#e00000"/>
<rect x="36" y="672" width="3" height="5" fill="#e00000"/>
<rect x="40" y="672" width="2" height="5" fill="#e00000"/>
<rect x="43" y="670" width="3" height="7" fill="#0000e0"/>
<rect x="47" y="671" width="2" height="6" fill="#e00000"/>
<rect x="50" y="673" width="3" height="4" fill="#0000e0"/>
<rect x="54" y="671" width="2" height="6" fill="#e00000"/>
<rect x="57" y="673" width="3" height="4" fill="#0000e0"/>
<rect x="61" y="670" width="2" height="7" fill="#e00000"/>
<rect x="64" y="670" width="3" height="7" fill="#0000e0"/>
<rect x="68" y="668" width="2" height="9" fill="#e00000"/>
<rect x="71" y="672" width="3" height="5" fill="#0000e0"/>
<rect x="75" y="673" width="2" height="4" fill="#e00000"/>
<rect x="78" y="672" width="3" height="5" fill="#e00000"/>
<rect x="82" y="673" width="2" height="4" fill="#0000e0"/>
<rect x="85" y="673" width="2" height="4" fill="#e00000"/>
<rect x="88" y="671" width="3" height="6" fill="#e00000"/>
<rect x="92" y="671" width="2" height="6" fill="#e00000"/>
<rect x="95" y="670" width="3" height="7" fill="#0000e0"/>
<rect x="99" y="673" width="2" height="4" fill="#e00000"/>
<rect x="102" y="670" width="3" height="7" fill="#0000e0"/>
<rect x="106" y="673" width="2" height="4" fill="#0000e0"/>
<rect x="109" y="671" width="3" height="6" fill="#0000e0"/>
<rect x="113" y="673" width="2" height="4" fill="#e00000"/>
<rect x="116" y="673" width="3" height="4" fill="#e00000"/>
<rect x="120" y="673" width="2" height="4" fill="#e00000"/>
<rect x="123" y="673" width="3" height="4" fill="#e00000"/>
<rect x="127" y="673" width="2" height="4" fill="#0000e0"/>
<rect x="130" y="674" width="3" height="3" fill="#0000e0"/>
<rect x="134" y="672" width="2" height="5" fill="#0000e0"/>
<rect x="137" y="672" width="3" height="5" fill="#e00000"/>
<rect x="141" y="671" width="2" height="6" fill="#e00000"/>
<rect x="144" y="674" width="3" height="3" fill="#0000e0"/>
<rect x="148" y="674" width="2" height="3" fill="#e00000"/>
<rect x="151" y="672" width="3" height="5" fill="#0000e0"/>
<rect x="155" y="672" width="2" height="5" fill="#e00000"/>
<rect x="158" y="669" width="2" height="8" fill="#0000e0"/>
<rect x="161" y="671" width="3" height="6" fill="#e00000"/>
<rect x="165" y="668" width="2" height="9" fill="#e00000"/>
<rect x="168" y="658" width="3" height="19" fill="#e00000"/>
<rect x="172" y="671" width="2" height="6" fill="#0000e0"/>
<rect x="175" y="672" width="3" height="5" fill="#e00000"/>
<rect x="179" y="671" width="2" height="6" fill="#e00000"/>
<rect x="182" y="672" width="3" height="5" fill="#e00000"/>
<rect x="186" y="673" width="2" height="4" fill="#e00000"/>
<rect x="189" y="672" width="3" height="5" fill="#e00000"/>
<rect x="193" y="673" width="2" height="4" fill="#0000e0"/>
<rect x="196" y="674" width="3" height="3" fill="#0000e0"/>
<rect x="200" y="673" width="2" height="4" fill="#e00000"/>
<rect x="203" y="670" width="3" height="7" fill="#0000e0"/>
<rect x="207" y="673" width="2" height="4" fill="#e00000"/>
<rect x="210" y="673" width="3" height="4" fill="#0000e0"/>
<rect x="214" y="672" width="2" height="5" fill="#0000e0"/>
<rect x="217" y="667" width="3" height="10" fill="#0000e0"/>
<rect x="221" y="672" width="2" height="5" fill="#0000e0"/>
<rect x="224" y="673" width="3" height="4" fill="#0000e0"/>
<rect x="228" y="673" width="2" height="4" fill="#e00000"/>
<rect x="231" y="673" width="2" height="4" fill="#e00000"/>
<rect x="234" y="674" width="3" height="3" fill="#e00000"/>
<rect x="238" y="673" width="2" height="4" fill="#0000e0"/>
<rect x="241" y="672" width="3" height="5" fill="#e00000"/>
<rect x="245" y="672" width="2" height="5" fill="#0000e0"/>
<rect x="248" y="673" width="3" height="4" fill="#e00000"/>
<rect x="252" y="673" width="2" height="4" fill="#e00000"/>
<rect x="255" y="667" width="3" height="10" fill="#e00000"/>
<rect x="259" y="667" width="2" height="10" fill="#e00000"/>
<rect x="262" y="671" width="3" height="6" fill="#e00000"/>
<rect x="266" y="671" width="2" height="6" fill="#e00000"/>
<rect x="269" y="672" width="3" height="5" fill="#0000e0"/>
<rect x="273" y="673" width="2" height="4" fill="#0000e0"/>
<rect x="276" y="673" width="3" height="4" fill="#e00000"/>
<rect x="280" y="672" width="2" height="5" fill="#e00000"/>
<rect x="283" y="673" width="3" height="4" fill="#e00000"/>
<rect x="287" y="672" width="2" height="5" fill="#0000e0"/>
<rect x="290" y="671" width="3" height="6" fill="#0000e0"/>
<rect x="294" y="673" width="2" height="4" fill="#e00000"/>
<rect x="297" y="674" width="3" height="3" fill="#e00000"/>
<rect x="301" y="673" width="2" height="4" fill="#0000e0"/>
<rect x="304" y="673" width="3" height="4" fill="#0000e0"/>
<rect x="308" y="674" width="2" height="3" fill="#0000e0"/>
<rect x="311" y="674" width="2" height="3" fill="#e00000"/>
<rect x="314" y="674" width="3" height="3" fill="#e00000"/>
<rect x="318" y="673" width="2" height="4" fill="#e00000"/>
<rect x="321" y="672" width="3" height="5" fill="#e00000"/>
<rect x="325" y="672" width="2" height="5" fill="#e00000"/>
<rect x="328" y="674" width="3" height="3" fill="#0000e0"/>
<rect x="332" y="672" width="2" height="5" fill="#e00000"/>
<rect x="335" y="674" width="3" height="3" fill="#e00000"/>
<rect x="339" y="673" width="2" height="4" fill="#0000e0"/>
<rect x="342" y="673" width="3" height="4" fill="#e00000"/>
<rect x="346" y="672" width="2" height="5" fill="#e00000"/>
<rect x="349" y="671" width="3" height="6" fill="#e00000"/>
<rect x="353" y="671" width="2" height="6" fill="#0000e0"/>
<rect x="356" y="672" width="3" height="5" fill="#e00000"/>
<rect x="360" y="674" width="2" height="3" fill="#e00000"/>
<rect x="363" y="673" width="3" height="4" fill="#0000e0"/>
<rect x="367" y="673" width="2" height="4" fill="#e00000"/>
<rect x="370" y="673" width="3" height="4" fill="#0000e0"/>
<rect x="374" y="674" width="2" height="3" fill="#e00000"/>
<rect x="377" y="671" width="3" height="6" fill="#e00000"/>
<rect x="381" y="667" width="2" height="10" fill="#e00000"/>
<rect x="384" y="659" width="2" height="18" fill="#e00000"/>
<rect x="387" y="667" width="3" height="10" fill="#e00000"/>
<rect x="391" y="671" width="2" height="6" fill="#0000e0"/>
<rect x="394" y="672" width="3" height="5" fill="#e00000"/>
<rect x="398" y="673" width="2" height="4" fill="#e00000"/>
<rect x="401" y="671" width="3" height="6" fill="#0000e0"/>
<rect x="405" y="673" width="2" height="4" fill="#e00000"/>
<rect x="408" y="674" width="3" height="3" fill="#e00000"/>
<rect x="412" y="672" width="2" height="5" fill="#e00000"/>
<rect x="415" y="672" width="3" height="5" fill="#e00000"/>
<rect x="419" y="673" width="2" height="4" fill="#e00000"/>
<rect x="422" y="671" width="3" height="6" fill="#0000e0"/>
<rect x="426" y="668" width="2" height="9" fill="#e00000"/>
<rect x="429" y="672" width="3" height="5" fill="#0000e0"/>
<rect x="433" y="672" width="2" height="5" fill="#0000e0"/>
<rect x="436" y="673" width="3" height="4" fill="#0000e0"/>
<rect x="440" y="672" width="2" height="5" fill="#e00000"/>
<rect x="443" y="674" width="3" height="3" fill="#0000e0"/>
<rect x="447" y="674" width="2" height="3" fill="#e00000"/>
<rect x="450" y="674" width="3" height="3" fill="#0000e0"/>
<rect x="454" y="676" width="2" height="1" fill="#0000e0"/>
<rect x="457" y="674" width="2" height="3" fill="#0000e0"/>
<rect x="460" y="671" width="3" height="6" fill="#0000e0"/>
<rect x="464" y="672" width="2" height="5" fill="#e00000"/>
<rect x="467" y="673" width="3" height="4" fill="#0000e0"/>
<rect x="471" y="673" width="2" height="4" fill="#e00000"/>
<rect x="474" y="671" width="3" height="6" fill="#e00000"/>
<rect x="478" y="668" width="2" height="9" fill="#e00000"/>
<rect x="481" y="670" width="3" height="7" fill="#e00000"/>
<rect x="485" y="672" width="2" height="5" fill="#e00000"/>
<rect x="488" y="673" width="3" height="4" fill="#0000e0"/>
<rect x="492" y="673" width="2" height="4" fill="#e00000"/>
<rect x="495" y="670" width="3" height="7" fill="#0000e0"/>
<rect x="499" y="673" width="2" height="4" fill="#e00000"/>
<rect x="502" y="672" width="3" height="5" fill="#e00000"/>
<rect x="506" y="671" width="2" height="6" fill="#0000e0"/>
<rect x="509" y="672" width="3" height="5" fill="#0000e0"/>
<rect x="513" y="670" width="2" height="7" fill="#0000e0"/>
<rect x="516" y="670" width="3" height="7" fill="#0000e0"/>
<rect x="520" y="672" width="2" height="5" fill="#0000e0"/>
<rect x="523" y="672" width="3" height="5" fill="#e00000"/>
<rect x="527" y="673" width="2" height="4" fill="#e00000"/>
<rect x="530" y="673" width="2" height="4" fill="#0000e0"/>
<rect x="533" y="674" width="3" height="3" fill="#e00000"/>
<rect x="537" y="673" width="2" height="4" fill="#e00000"/>
<rect x="540" y="673" width="3" height="4" fill="#0000e0"/>
<rect x="544" y="673" width="2" height="4" fill="#0000e0"/>
<rect x="547" y="671" width="3" height="6" fill="#e00000"/>
<rect x="551" y="673" width="2" height="4" fill="#e00000"/>
<rect x="554" y="671" width="3" height="6" fill="#0000e0"/>
<rect x="558" y="672" width="2" height="5" fill="#0000e0"/>
<rect x="561" y="670" width="3" height="7" fill="#e00000"/>
<rect x="565" y="673" width="2" height="4" fill="#e00000"/>
<rect x="568" y="672" width="3" height="5" fill="#0000e0"/>
<rect x="572" y="673" width="2" height="4" fill="#0000e0"/>
<rect x="575" y="671" width="3" height="6" fill="#0000e0"/>
<rect x="579" y="664" width="2" height="13" fill="#e00000"/>
<rect x="582" y="670" width="3" height="7" fill="#e00000"/>
<rect x="586" y="672" width="2" height="5" fill="#0000e0"/>
<rect x="589" y="671" width="3" height="6" fill="#e00000"/>
<rect x="593" y="672" width="2" height="5" fill="#0000e0"/>
<rect x="596" y="673" width="3" height="4" fill="#e00000"/>
<rect x="600" y="671" width="2" height="6" fill="#0000e0"/>
<rect x="603" y="669" width="3" height="8" fill="#0000e0"/>
<rect x="607" y="670" width="2" height="7" fill="#0000e0"/>
<rect x="610" y="659" width="2" height="18" fill="#0000e0"/>
<rect x="613" y="647" width="3" height="30" fill="#0000e0"/>
<rect x="617" y="664" width="2" height="13" fill="#0000e0"/>
<rect x="620" y="668" width="3" height="9" fill="#0000e0"/>
<rect x="624" y="672" width="2" height="5" fill="#0000e0"/>
<rect x="627" y="671" width="3" height="6" fill="#e00000"/>
<rect x="631" y="673" width="2" height="4" fill="#e00000"/>
<rect x="634" y="672" width="3" height="5" fill="#0000e0"/>
<rect x="638" y="670" width="2" height="7" fill="#0000e0"/>
<rect x="641" y="673" width="3" height="4" fill="#e00000"/>
<rect x="645" y="672" width="2" height="5" fill="#e00000"/>
<rect x="648" y="673" width="3" height="4" fill="#e00000"/>
<rect x="652" y="672" width="2" height="5" fill="#e00000"/>
<rect x="655" y="673" width="3" height="4" fill="#0000e0"/>
<rect x="659" y="674" width="2" height="3" fill="#0000e0"/>
<rect x="662" y="673" width="3" height="4" fill="#e00000"/>
<rect x="666" y="672" width="2" height="5" fill="#0000e0"/>
<rect x="669" y="673" width="3" height="4" fill="#0000e0"/>
<rect x="673" y="674" width="2" height="3" fill="#0000e0"/>
<rect x="676" y="673" width="3" height="4" fill="#e00000"/>
<rect x="680" y="673" width="2" height="4" fill="#e00000"/>
<rect x="683" y="673" width="2" height="4" fill="#0000e0"/>
<rect x="686" y="674" width="3" height="3" fill="#e00000"/>
<rect x="690" y="674" width="2" height="3" fill="#0000e0"/>
<rect x="693" y="674" width="3" height="3" fill="#0000e0"/>
<rect x="697" y="674" width="2" height="3" fill="#e00000"/>
<rect x="700" y="674" width="3" height="3" fill="#e00000"/>
<rect x="704" y="673" width="2" height="4" fill="#0000e0"/>
<rect x="707" y="673" width="3" height="4" fill="#0000e0"/>
<rect x="711" y="674" width="2" height="3" fill="#e00000"/>
<rect x="714" y="673" width="3" height="4" fill="#0000e0"/>
<rect x="718" y="673" width="2" height="4" fill="#e00000"/>
<rect x="721" y="672" width="3" height="5" fill="#0000e0"/>
<rect x="725" y="673" width="2" height="4" fill="#e00000"/>
<rect x="728" y="673" width="3" height="4" fill="#e00000"/>
<rect x="732" y="674" width="2" height="3" fill="#0000e0"/>
<rect x="735" y="673" width="3" height="4" fill="#e00000"/>
<rect x="739" y="673" width="2" height="4" fill="#e00000"/>
<rect x="742" y="674" width="3" height="3" fill="#0000e0"/>
<rect x="746" y="674" width="2" height="3" fill="#0000e0"/>
<rect x="749" y="673" width="3" height="4" fill="#e00000"/>
<rect x="753" y="671" width="2" height="6" fill="#0000e0"/>
<rect x="756" y="671" width="2" height="6" fill="#e00000"/>
<rect x="759" y="672" width="3" height="5" fill="#e00000"/>
<rect x="763" y="672" width="2" height="5" fill="#0000e0"/>
<rect x="766" y="673" width="3" height="4" fill="#e00000"/>
<rect x="770" y="673" width="2" height="4" fill="#e00000"/>
<rect x="773" y="673" width="3" height="4" fill="#e00000"/>
<rect x="777" y="674" width="2" height="3" fill="#0000e0"/>
<rect x="780" y="672" width="3" height="5" fill="#e00000"/>
<rect x="784" y="672" width="2" height="5" fill="#e00000"/>
<rect x="787" y="673" width="3" height="4" fill="#0000e0"/>
<rect x="791" y="673" width="2" height="4" fill="#e00000"/>
<rect x="794" y="673" width="3" height="4" fill="#e00000"/>
<rect x="798" y="673" width="2" height="4" fill="#e00000"/>
<rect x="801" y="674" width="3" height="3" fill="#0000e0"/>
<rect x="805" y="674" width="2" height="3" fill="#0000e0"/>
<rect x="808" y="673" width="3" height="4" fill="#e00000"/>
<rect x="812" y="672" width="2" height="5" fill="#0000e0"/>
<rect x="815" y="673" width="3" height="4" fill="#e00000"/>
<rect x="819" y="668" width="2" height="9" fill="#0000e0"/>
<rect x="822" y="669" width="3" height="8" fill="#0000e0"/>
<rect x="826" y="670" width="2" height="7" fill="#0000e0"/>
<rect x="829" y="665" width="3" height="12" fill="#0000e0"/>
<rect x="833" y="656" width="2" height="21" fill="#e00000"/>
<rect x="836" y="670" width="2" height="7" fill="#0000e0"/>
<rect x="839" y="669" width="3" height="8" fill="#e00000"/>
<rect x="843" y="656" width="2" height="21" fill="#e00000"/>
<rect x="846" y="667" width="3" height="10" fill="#e00000"/>
<rect x="850" y="669" width="2" height="8" fill="#0000e0"/>
<rect x="853" y="671" width="3" height="6" fill="#0000e0"/>
<rect x="857" y="672" width="2" height="5" fill="#e00000"/>
<rect x="860" y="670" width="3" height="7" fill="#e00000"/>
<rect x="864" y="671" width="2" height="6" fill="#0000e0"/>
<rect x="867" y="669" width="3" height="8" fill="#0000e0"/>
<rect x="871" y="607" width="2" height="70" fill="#0000e0"/>
<rect x="874" y="669" width="3" height="8" fill="#e00000"/>
<rect x="878" y="672" width="2" height="5" fill="#e00000"/>
<rect x="881" y="672" width="3" height="5" fill="#0000e0"/>
<rect x="885" y="671" width="2" height="6" fill="#e00000"/>
<rect x="888" y="665" width="3" height="12" fill="#0000e0"/>
<rect x="892" y="672" width="2" height="5" fill="#e00000"/>
<rect x="895" y="672" width="3" height="5" fill="#e00000"/>
<rect x="899" y="674" width="2" height="3" fill="#e00000"/>
<rect x="902" y="674" width="3" height="3" fill="#e00000"/>
<rect x="906" y="672" width="2" height="5" fill="#e00000"/>
<rect x="909" y="672" width="2" height="5" fill="#0000e0"/>
<rect x="912" y="669" width="3" height="8" fill="#0000e0"/>
<rect x="916" y="672" width="2" height="5" fill="#0000e0"/>
<rect x="919" y="673" width="3" height="4" fill="#e00000"/>
<rect x="923" y="672" width="2" height="5" fill="#e00000"/>
<rect x="926" y="673" width="3" height="4" fill="#0000e0"/>
<rect x="930" y="672" width="2" height="5" fill="#0000e0"/>
<rect x="933" y="670" width="3" height="7" fill="#0000e0"/>
<rect x="937" y="622" width="2" height="55" fill="#e00000"/>
</g>
<path d="M454.5 607 V677" stroke="#0000e0" stroke-width="1" stroke-dasharray="3,2" fill="none" shape-rendering="crispEdges"/>
<g fill="#0000e0" shape-rendering="crispEdges"><rect x="458" y="625" width="4" height="1"/><rect x="464" y="625" width="4" height="1"/></g>
<g shape-rendering="crispEdges">
<rect x="7" y="588" width="1014" height="1" fill="#8a8a8a"/>
<rect x="7" y="678" width="1014" height="1" fill="#bcbcbc"/>
<rect x="7" y="695" width="1014" height="1" fill="#c8c8c8"/>
<rect x="948" y="76" width="1" height="620" fill="#a9a9a9"/>
<rect x="1020" y="76" width="1" height="635" fill="#b0b0b0"/>
<rect x="7" y="76" width="1" height="635" fill="#c4c4c4"/>
<rect x="949" y="89" width="3" height="1" fill="#a0a0a0"/>
<rect x="949" y="106" width="5" height="1" fill="#a0a0a0"/>
<rect x="949" y="123" width="3" height="1" fill="#a0a0a0"/>
<rect x="949" y="140" width="3" height="1" fill="#a0a0a0"/>
<rect x="949" y="157" width="3" height="1" fill="#a0a0a0"/>
<rect x="949" y="174" width="3" height="1" fill="#a0a0a0"/>
<rect x="949" y="191" width="5" height="1" fill="#a0a0a0"/>
<rect x="949" y="208" width="3" height="1" fill="#a0a0a0"/>
<rect x="949" y="226" width="3" height="1" fill="#a0a0a0"/>
<rect x="949" y="243" width="3" height="1" fill="#a0a0a0"/>
<rect x="949" y="260" width="3" height="1" fill="#a0a0a0"/>
<rect x="949" y="277" width="5" height="1" fill="#a0a0a0"/>
<rect x="949" y="294" width="3" height="1" fill="#a0a0a0"/>
<rect x="949" y="311" width="3" height="1" fill="#a0a0a0"/>
<rect x="949" y="328" width="3" height="1" fill="#a0a0a0"/>
<rect x="949" y="345" width="3" height="1" fill="#a0a0a0"/>
<rect x="949" y="362" width="5" height="1" fill="#a0a0a0"/>
<rect x="949" y="379" width="3" height="1" fill="#a0a0a0"/>
<rect x="949" y="396" width="3" height="1" fill="#a0a0a0"/>
<rect x="949" y="413" width="3" height="1" fill="#a0a0a0"/>
<rect x="949" y="430" width="3" height="1" fill="#a0a0a0"/>
<rect x="949" y="447" width="5" height="1" fill="#a0a0a0"/>
<rect x="949" y="464" width="3" height="1" fill="#a0a0a0"/>
<rect x="949" y="481" width="3" height="1" fill="#a0a0a0"/>
<rect x="949" y="498" width="3" height="1" fill="#a0a0a0"/>
<rect x="949" y="516" width="3" height="1" fill="#a0a0a0"/>
<rect x="949" y="533" width="3" height="1" fill="#a0a0a0"/>
<rect x="949" y="550" width="3" height="1" fill="#a0a0a0"/>
<rect x="949" y="567" width="3" height="1" fill="#a0a0a0"/>
<rect x="949" y="584" width="3" height="1" fill="#a0a0a0"/>
<rect x="949" y="612" width="5" height="1" fill="#a0a0a0"/>
<rect x="949" y="638" width="3" height="1" fill="#a0a0a0"/>
<rect x="949" y="644" width="5" height="1" fill="#a0a0a0"/>
<rect x="949" y="650" width="3" height="1" fill="#a0a0a0"/>
<rect x="949" y="657" width="3" height="1" fill="#a0a0a0"/>
<rect x="949" y="663" width="3" height="1" fill="#a0a0a0"/>
<rect x="949" y="670" width="3" height="1" fill="#a0a0a0"/>
<rect x="949" y="677" width="5" height="1" fill="#a0a0a0"/>
<rect x="949" y="631" width="3" height="1" fill="#a0a0a0"/>
<rect x="949" y="618" width="3" height="1" fill="#a0a0a0"/>
<rect x="949" y="625" width="3" height="1" fill="#a0a0a0"/>
<rect x="9" y="679" width="1" height="6" fill="#b4b4b4"/>
<rect x="92" y="679" width="1" height="6" fill="#b4b4b4"/>
<rect x="172" y="679" width="1" height="6" fill="#b4b4b4"/>
<rect x="242" y="679" width="1" height="6" fill="#b4b4b4"/>
<rect x="318" y="679" width="1" height="6" fill="#b4b4b4"/>
<rect x="391" y="679" width="1" height="6" fill="#b4b4b4"/>
<rect x="461" y="679" width="1" height="6" fill="#b4b4b4"/>
<rect x="534" y="679" width="1" height="6" fill="#b4b4b4"/>
<rect x="603" y="679" width="1" height="6" fill="#b4b4b4"/>
<rect x="673" y="679" width="1" height="6" fill="#b4b4b4"/>
<rect x="749" y="679" width="1" height="6" fill="#b4b4b4"/>
<rect x="826" y="679" width="1" height="6" fill="#b4b4b4"/>
<rect x="892" y="679" width="1" height="6" fill="#b4b4b4"/>
</g>
<rect x="956" y="260" width="62" height="28" fill="#0000ff"/>
<path d="M948 268.5 L954 263 L954 274 Z" fill="#0000ff"/>
<rect x="956" y="614" width="44" height="14" fill="#d40000"/>
<path d="M948 622.5 L954 617 L954 628 Z" fill="#d40000"/>
<g shape-rendering="crispEdges"><rect x="949" y="75" width="28" height="10" fill="#000"/><rect x="950" y="76" width="8" height="8" fill="#fff"/><rect x="953" y="77" width="2" height="6" fill="#000"/><rect x="953" y="82" width="4" height="1" fill="#000"/><rect x="959" y="76" width="8" height="8" fill="#fff"/><rect x="963" y="77" width="2" height="6" fill="#000"/><rect x="968" y="76" width="8" height="8" fill="#fff"/><rect x="970" y="77" width="2" height="6" fill="#000"/><rect x="971" y="77" width="3" height="1" fill="#000"/><rect x="973" y="78" width="2" height="2" fill="#000"/><rect x="971" y="80" width="3" height="1" fill="#000"/><rect x="973" y="81" width="2" height="2" fill="#000"/></g>
<g shape-rendering="crispEdges"><rect x="1010" y="75" width="10" height="10" fill="#000"/><rect x="1011" y="76" width="8" height="8" fill="#fff"/><rect x="1012" y="77" width="6" height="6" fill="#000"/><rect x="1013" y="78" width="4" height="4" fill="#fff"/></g>
<g shape-rendering="crispEdges"><rect x="949" y="588" width="19" height="10" fill="#000"/><rect x="950" y="589" width="8" height="8" fill="#fff"/><rect x="953" y="590" width="2" height="6" fill="#000"/><rect x="953" y="595" width="4" height="1" fill="#000"/><rect x="959" y="589" width="8" height="8" fill="#fff"/><rect x="963" y="590" width="2" height="6" fill="#000"/></g>
<g shape-rendering="crispEdges"><rect x="1001" y="588" width="10" height="10" fill="#000"/><rect x="1002" y="589" width="8" height="8" fill="#fff"/><rect x="1003" y="590" width="6" height="6" fill="#000"/><rect x="1004" y="591" width="4" height="4" fill="#fff"/></g>
<g shape-rendering="crispEdges"><rect x="1010" y="588" width="10" height="10" fill="#000"/><rect x="1011" y="589" width="8" height="8" fill="#fff"/></g>
<path d="M1012.5 590.5 L1017.5 595.5 M1017.5 590.5 L1012.5 595.5" stroke="#000" stroke-width="1.1"/>
</svg>
<div class="b" style="left:14px;top:82px;width:3px;height:8px;background:#000;"></div>
<svg class="b" style="left:0;top:0;overflow:visible" width="1" height="1"><path d="M22 80h10v1h-10zM30 81h2v1h-2zM30 82h2v1h-2zM30 83h2v1h-2zM22 84h10v1h-10zM30 85h2v1h-2zM30 86h2v1h-2zM30 87h2v1h-2zM21 88h12v1h-12zM35 80h6v1h-6zM42 80h2v1h-2zM39 81h2v1h-2zM42 81h2v1h-2zM39 82h2v1h-2zM42 82h2v1h-2zM39 83h2v1h-2zM42 83h2v1h-2zM35 84h6v1h-6zM42 84h2v1h-2zM35 85h2v1h-2zM42 85h4v1h-4zM35 86h2v1h-2zM42 86h2v1h-2zM35 87h2v1h-2zM42 87h2v1h-2zM35 88h2v1h-2zM40 88h4v1h-4zM35 89h6v1h-6zM42 89h2v1h-2zM42 90h2v1h-2zM50 80h6v1h-6zM48 81h3v1h-3zM55 81h3v1h-3zM48 82h2v1h-2zM56 82h2v1h-2zM48 83h3v1h-3zM55 83h3v1h-3zM50 84h6v1h-6zM47 86h12v1h-12zM52 87h2v1h-2zM52 88h2v1h-2zM52 89h2v1h-2zM52 90h2v1h-2zM61 80h10v1h-10zM61 81h2v1h-2zM61 82h2v1h-2zM61 83h2v1h-2zM61 84h2v1h-2zM61 85h10v1h-10zM60 89h12v1h-12zM77 80h2v1h-2zM77 81h2v1h-2zM76 82h3v1h-3zM76 83h4v1h-4zM75 84h2v1h-2zM79 84h2v1h-2zM73 85h3v1h-3zM80 85h3v1h-3zM72 89h12v1h-12zM86 80h10v1h-10zM86 81h2v1h-2zM86 82h2v1h-2zM86 83h10v1h-10zM86 84h2v1h-2zM86 85h2v1h-2zM86 86h10v1h-10zM85 89h12v1h-12zM99 80h6v1h-6zM106 80h2v1h-2zM103 81h2v1h-2zM106 81h2v1h-2zM103 82h2v1h-2zM106 82h2v1h-2zM103 83h2v1h-2zM106 83h2v1h-2zM99 84h6v1h-6zM106 84h2v1h-2zM99 85h2v1h-2zM106 85h4v1h-4zM99 86h2v1h-2zM106 86h2v1h-2zM99 87h2v1h-2zM106 87h2v1h-2zM99 88h2v1h-2zM104 88h4v1h-4zM99 89h6v1h-6zM106 89h2v1h-2zM106 90h2v1h-2zM113 80h4v1h-4zM120 80h2v1h-2zM113 81h4v1h-4zM120 81h2v1h-2zM112 82h2v1h-2zM116 82h2v1h-2zM120 82h2v1h-2zM112 83h2v1h-2zM116 83h2v1h-2zM120 83h2v1h-2zM112 84h2v1h-2zM116 84h2v1h-2zM120 84h2v1h-2zM112 85h2v1h-2zM116 85h2v1h-2zM120 85h2v1h-2zM112 86h2v1h-2zM116 86h2v1h-2zM120 86h2v1h-2zM112 87h2v1h-2zM116 87h2v1h-2zM120 87h2v1h-2zM113 88h4v1h-4zM120 88h2v1h-2zM113 89h4v1h-4zM120 89h2v1h-2zM120 90h2v1h-2zM125 80h10v1h-10zM133 81h2v1h-2zM133 82h2v1h-2zM133 83h2v1h-2zM125 84h10v1h-10zM133 85h2v1h-2zM133 86h2v1h-2zM133 87h2v1h-2zM124 88h12v1h-12zM146 80h6v1h-6zM144 81h10v1h-10zM145 82h8v1h-8zM144 83h2v1h-2zM152 83h2v1h-2zM145 84h8v1h-8zM143 85h12v1h-12zM144 87h10v1h-10zM144 88h10v1h-10zM144 89h2v1h-2zM144 90h10v1h-10zM157 80h6v1h-6zM165 80h2v1h-2zM157 81h2v1h-2zM165 81h2v1h-2zM157 82h2v1h-2zM165 82h2v1h-2zM157 83h2v1h-2zM165 83h2v1h-2zM157 84h2v1h-2zM162 84h5v1h-5zM157 85h7v1h-7zM165 85h2v1h-2zM165 86h2v1h-2zM158 87h8v1h-8zM157 88h2v1h-2zM165 88h2v1h-2zM157 89h2v1h-2zM165 89h2v1h-2zM158 90h8v1h-8zM174 80h2v1h-2zM174 81h2v1h-2zM173 82h3v1h-3zM173 83h4v1h-4zM172 84h2v1h-2zM176 84h2v1h-2zM170 85h3v1h-3zM177 85h3v1h-3zM169 89h12v1h-12z" fill="#000" shape-rendering="crispEdges"/></svg>
<div class="t tx" style="left:21px;top:80px;font-size:12px;line-height:12px">크라우드스트라이크 홀딩스</div>
<div class="t" style="left:204.16px;top:78.00px;font-size:14px;line-height:14px;color:#000;font-weight:bold;transform:scaleX(1.0000);">:</div>
<div class="t" style="left:210.26px;top:78.00px;font-size:14px;line-height:14px;color:#000;font-weight:bold;transform:scaleX(0.8571);">2</div>
<div class="t" style="left:216.35px;top:78.00px;font-size:14px;line-height:14px;color:#000;font-weight:bold;transform:scaleX(1.0000);">9</div>
<div class="t" style="left:224.45px;top:78.00px;font-size:14px;line-height:14px;color:#000;font-weight:bold;transform:scaleX(0.7500);">4</div>
<div class="t" style="left:232.54px;top:78.00px;font-size:14px;line-height:14px;color:#000;font-weight:bold;transform:scaleX(1.0000);">.</div>
<div class="t" style="left:237.64px;top:78.00px;font-size:14px;line-height:14px;color:#000;font-weight:bold;transform:scaleX(1.0000);">5</div>
<div class="t" style="left:246.06px;top:78.00px;font-size:14px;line-height:14px;color:#000;font-weight:bold;transform:scaleX(0.6667);">1</div>
<div class="t" style="left:251.82px;top:78.00px;font-size:14px;line-height:14px;color:#000;font-weight:bold;transform:scaleX(1.0000);">0</div>
<div class="t" style="left:258.92px;top:78.00px;font-size:14px;line-height:14px;color:#000;font-weight:bold;transform:scaleX(1.0000);">0</div>
<svg class="b" style="left:0;top:0;overflow:visible" width="1" height="1"><path d="M194 80h2v1h-2zM200 80h2v1h-2zM194 81h2v1h-2zM200 81h2v1h-2zM194 82h2v1h-2zM200 82h2v1h-2zM194 83h2v1h-2zM200 83h2v1h-2zM193 84h3v1h-3zM200 84h2v1h-2zM193 85h4v1h-4zM200 85h2v1h-2zM193 86h2v1h-2zM196 86h2v1h-2zM200 86h2v1h-2zM192 87h2v1h-2zM196 87h2v1h-2zM200 87h2v1h-2zM191 88h3v1h-3zM197 88h2v1h-2zM200 88h2v1h-2zM191 89h2v1h-2zM197 89h2v1h-2zM200 89h2v1h-2zM200 90h2v1h-2z" fill="#000" shape-rendering="crispEdges"/></svg>
<div class="t tx" style="left:191px;top:80px;font-size:12px;line-height:12px">시:294.5100</div>
<div class="t" style="left:287.16px;top:78.00px;font-size:14px;line-height:14px;color:#000;font-weight:bold;transform:scaleX(1.0000);">:</div>
<div class="t" style="left:292.26px;top:78.00px;font-size:14px;line-height:14px;color:#000;font-weight:bold;transform:scaleX(1.0000);">3</div>
<div class="t" style="left:300.68px;top:78.00px;font-size:14px;line-height:14px;color:#000;font-weight:bold;transform:scaleX(0.6667);">1</div>
<div class="t" style="left:306.45px;top:78.00px;font-size:14px;line-height:14px;color:#000;font-weight:bold;transform:scaleX(1.0000);">6</div>
<div class="t" style="left:315.54px;top:78.00px;font-size:14px;line-height:14px;color:#000;font-weight:bold;transform:scaleX(1.0000);">.</div>
<div class="t" style="left:320.64px;top:78.00px;font-size:14px;line-height:14px;color:#000;font-weight:bold;transform:scaleX(1.0000);">7</div>
<div class="t" style="left:327.73px;top:78.00px;font-size:14px;line-height:14px;color:#000;font-weight:bold;transform:scaleX(1.0000);">5</div>
<div class="t" style="left:334.82px;top:78.00px;font-size:14px;line-height:14px;color:#000;font-weight:bold;transform:scaleX(1.0000);">0</div>
<div class="t" style="left:341.92px;top:78.00px;font-size:14px;line-height:14px;color:#000;font-weight:bold;transform:scaleX(1.0000);">0</div>
<svg class="b" style="left:0;top:0;overflow:visible" width="1" height="1"><path d="M275 80h10v1h-10zM283 81h2v1h-2zM283 82h2v1h-2zM283 83h2v1h-2zM283 84h2v1h-2zM278 85h2v1h-2zM283 85h2v1h-2zM278 86h2v1h-2zM283 86h2v1h-2zM278 87h2v1h-2zM282 87h2v1h-2zM278 88h2v1h-2zM274 89h12v1h-12z" fill="#000" shape-rendering="crispEdges"/></svg>
<div class="t tx" style="left:274px;top:80px;font-size:12px;line-height:12px">고:316.7500</div>
<div class="t" style="left:369.31px;top:78.00px;font-size:14px;line-height:14px;color:#000;font-weight:bold;transform:scaleX(1.0000);">:</div>
<div class="t" style="left:375.50px;top:78.00px;font-size:14px;line-height:14px;color:#000;font-weight:bold;transform:scaleX(0.8571);">2</div>
<div class="t" style="left:381.69px;top:78.00px;font-size:14px;line-height:14px;color:#000;font-weight:bold;transform:scaleX(1.0000);">9</div>
<div class="t" style="left:388.89px;top:78.00px;font-size:14px;line-height:14px;color:#000;font-weight:bold;transform:scaleX(1.0000);">0</div>
<div class="t" style="left:398.08px;top:78.00px;font-size:14px;line-height:14px;color:#000;font-weight:bold;transform:scaleX(1.0000);">.</div>
<div class="t" style="left:404.61px;top:78.00px;font-size:14px;line-height:14px;color:#000;font-weight:bold;transform:scaleX(0.6667);">1</div>
<div class="t" style="left:410.47px;top:78.00px;font-size:14px;line-height:14px;color:#000;font-weight:bold;transform:scaleX(1.0000);">0</div>
<div class="t" style="left:417.67px;top:78.00px;font-size:14px;line-height:14px;color:#000;font-weight:bold;transform:scaleX(1.0000);">0</div>
<div class="t" style="left:426.19px;top:78.00px;font-size:14px;line-height:14px;color:#000;font-weight:bold;transform:scaleX(0.6667);">1</div>
<svg class="b" style="left:0;top:0;overflow:visible" width="1" height="1"><path d="M357 80h10v1h-10zM360 81h2v1h-2zM365 81h2v1h-2zM360 82h2v1h-2zM365 82h2v1h-2zM360 83h2v1h-2zM365 83h2v1h-2zM360 84h2v1h-2zM365 84h2v1h-2zM359 85h8v1h-8zM359 86h4v1h-4zM365 86h2v1h-2zM358 87h2v1h-2zM361 87h2v1h-2zM365 87h2v1h-2zM358 88h2v1h-2zM362 88h2v1h-2zM365 88h2v1h-2zM357 89h2v1h-2zM363 89h4v1h-4zM365 90h2v1h-2z" fill="#000" shape-rendering="crispEdges"/></svg>
<div class="t tx" style="left:357px;top:80px;font-size:12px;line-height:12px">저:290.1001</div>
<div class="t" style="left:453.32px;top:78.00px;font-size:14px;line-height:14px;color:#000;font-weight:bold;transform:scaleX(1.0000);">:</div>
<div class="t" style="left:458.51px;top:78.00px;font-size:14px;line-height:14px;color:#000;font-weight:bold;transform:scaleX(1.0000);">3</div>
<div class="t" style="left:465.70px;top:78.00px;font-size:14px;line-height:14px;color:#000;font-weight:bold;transform:scaleX(1.0000);">0</div>
<div class="t" style="left:473.89px;top:78.00px;font-size:14px;line-height:14px;color:#000;font-weight:bold;transform:scaleX(0.7500);">4</div>
<div class="t" style="left:482.08px;top:78.00px;font-size:14px;line-height:14px;color:#000;font-weight:bold;transform:scaleX(1.0000);">.</div>
<div class="t" style="left:487.27px;top:78.00px;font-size:14px;line-height:14px;color:#000;font-weight:bold;transform:scaleX(1.0000);">9</div>
<div class="t" style="left:494.46px;top:78.00px;font-size:14px;line-height:14px;color:#000;font-weight:bold;transform:scaleX(1.0000);">6</div>
<div class="t" style="left:501.65px;top:78.00px;font-size:14px;line-height:14px;color:#000;font-weight:bold;transform:scaleX(1.0000);">0</div>
<div class="t" style="left:508.84px;top:78.00px;font-size:14px;line-height:14px;color:#000;font-weight:bold;transform:scaleX(1.0000);">0</div>
<svg class="b" style="left:0;top:0;overflow:visible" width="1" height="1"><path d="M441 80h10v1h-10zM445 81h2v1h-2zM443 82h6v1h-6zM441 83h3v1h-3zM448 83h3v1h-3zM445 84h2v1h-2zM440 85h12v1h-12zM442 87h8v1h-8zM441 88h2v1h-2zM449 88h2v1h-2zM441 89h2v1h-2zM449 89h2v1h-2zM442 90h8v1h-8z" fill="#000" shape-rendering="crispEdges"/></svg>
<div class="t tx" style="left:440px;top:80px;font-size:12px;line-height:12px">종:304.9600</div>
<div class="b" style="left:521px;top:82px;width:3px;height:7px;background:#000;"></div>
<svg class="b" style="left:0;top:0;overflow:visible" width="1" height="1"><path d="M528 80h4v1h-4zM535 80h1v1h-1zM532 81h1v1h-1zM535 81h1v1h-1zM532 82h1v1h-1zM535 82h1v1h-1zM532 83h1v1h-1zM535 83h1v1h-1zM532 84h1v1h-1zM535 84h1v1h-1zM531 85h2v1h-2zM535 85h3v1h-3zM531 86h1v1h-1zM535 86h1v1h-1zM529 87h2v1h-2zM535 87h1v1h-1zM527 88h3v1h-3zM535 88h1v1h-1zM535 89h1v1h-1zM535 90h1v1h-1zM540 80h5v1h-5zM548 80h1v1h-1zM544 81h1v1h-1zM548 81h1v1h-1zM544 82h5v1h-5zM544 83h1v1h-1zM548 83h1v1h-1zM542 84h2v1h-2zM545 84h4v1h-4zM539 85h3v1h-3zM548 85h1v1h-1zM540 87h9v1h-9zM548 88h1v1h-1zM548 89h1v1h-1zM548 90h1v1h-1zM554 80h3v1h-3zM561 80h1v1h-1zM554 81h1v1h-1zM556 81h1v1h-1zM561 81h1v1h-1zM553 82h1v1h-1zM557 82h1v1h-1zM561 82h1v1h-1zM553 83h1v1h-1zM557 83h1v1h-1zM561 83h1v1h-1zM553 84h1v1h-1zM557 84h1v1h-1zM561 84h1v1h-1zM553 85h1v1h-1zM557 85h1v1h-1zM561 85h1v1h-1zM553 86h1v1h-1zM557 86h1v1h-1zM561 86h1v1h-1zM553 87h1v1h-1zM557 87h1v1h-1zM561 87h1v1h-1zM554 88h1v1h-1zM556 88h1v1h-1zM561 88h1v1h-1zM554 89h3v1h-3zM561 89h1v1h-1zM561 90h1v1h-1zM566 80h6v1h-6zM574 80h1v1h-1zM570 81h1v1h-1zM574 81h1v1h-1zM567 82h1v1h-1zM570 82h5v1h-5zM567 83h1v1h-1zM570 83h1v1h-1zM574 83h1v1h-1zM567 84h1v1h-1zM569 84h1v1h-1zM571 84h4v1h-4zM565 85h7v1h-7zM574 85h1v1h-1zM574 86h1v1h-1zM567 87h7v1h-7zM566 88h1v1h-1zM574 88h1v1h-1zM566 89h1v1h-1zM574 89h1v1h-1zM567 90h7v1h-7z" fill="#000" shape-rendering="crispEdges"/></svg>
<div class="t tx" style="left:527px;top:80px;font-size:12px;line-height:12px">가격이평</div>
<div class="t" style="left:581.00px;top:80.00px;font-size:12.5px;line-height:12.5px;color:#000;font-weight:normal;transform:scaleX(1.0000);-webkit-text-stroke:0.3px #000;">5</div>
<div class="t tx" style="left:582px;top:81px;font-size:12px;line-height:12px">5</div>
<div class="b" style="left:593px;top:82px;width:3px;height:7px;background:#e00000;"></div>
<div class="t" style="left:599.00px;top:80.00px;font-size:12.5px;line-height:12.5px;color:#e00000;font-weight:normal;transform:scaleX(1.0000);-webkit-text-stroke:0.3px #e00000;">2</div>
<div class="t" style="left:605.55px;top:80.00px;font-size:12.5px;line-height:12.5px;color:#e00000;font-weight:normal;transform:scaleX(1.0000);-webkit-text-stroke:0.3px #e00000;">0</div>
<div class="t tx" style="left:600px;top:81px;font-size:12px;line-height:12px">20</div>
<div class="b" style="left:617px;top:82px;width:3px;height:7px;background:#4fa00e;"></div>
<div class="t" style="left:623.00px;top:80.00px;font-size:12.5px;line-height:12.5px;color:#4fa00e;font-weight:normal;transform:scaleX(1.0000);-webkit-text-stroke:0.3px #4fa00e;">6</div>
<div class="t" style="left:629.55px;top:80.00px;font-size:12.5px;line-height:12.5px;color:#4fa00e;font-weight:normal;transform:scaleX(1.0000);-webkit-text-stroke:0.3px #4fa00e;">0</div>
<div class="t tx" style="left:624px;top:81px;font-size:12px;line-height:12px">60</div>
<div class="b" style="left:641px;top:82px;width:3px;height:7px;background:#8a8a8a;"></div>
<div class="t" style="left:647.34px;top:80.00px;font-size:12.5px;line-height:12.5px;color:#8a8a8a;font-weight:normal;transform:scaleX(0.6000);-webkit-text-stroke:0.3px #8a8a8a;">1</div>
<div class="t" style="left:652.31px;top:80.00px;font-size:12.5px;line-height:12.5px;color:#8a8a8a;font-weight:normal;transform:scaleX(1.0000);-webkit-text-stroke:0.3px #8a8a8a;">2</div>
<div class="t" style="left:658.69px;top:80.00px;font-size:12.5px;line-height:12.5px;color:#8a8a8a;font-weight:normal;transform:scaleX(1.0000);-webkit-text-stroke:0.3px #8a8a8a;">0</div>
<div class="t tx" style="left:648px;top:81px;font-size:12px;line-height:12px">120</div>
<div class="b" style="left:671px;top:82px;width:3px;height:7px;background:#f24a4a;"></div>
<div class="t" style="left:677.00px;top:80.00px;font-size:12.5px;line-height:12.5px;color:#f24a4a;font-weight:normal;transform:scaleX(1.0000);-webkit-text-stroke:0.3px #f24a4a;">2</div>
<div class="t" style="left:684.35px;top:80.00px;font-size:12.5px;line-height:12.5px;color:#f24a4a;font-weight:normal;transform:scaleX(0.7143);-webkit-text-stroke:0.3px #f24a4a;">4</div>
<div class="t" style="left:689.71px;top:80.00px;font-size:12.5px;line-height:12.5px;color:#f24a4a;font-weight:normal;transform:scaleX(1.0000);-webkit-text-stroke:0.3px #f24a4a;">0</div>
<div class="t tx" style="left:678px;top:81px;font-size:12px;line-height:12px">240</div>
<div class="t" style="left:952.17px;top:86.00px;font-size:14px;line-height:14px;color:#e00000;font-weight:normal;transform:scaleX(0.8333);-webkit-text-stroke:0.3px #e00000;">L</div>
<div class="t" style="left:958.48px;top:86.00px;font-size:14px;line-height:14px;color:#e00000;font-weight:normal;transform:scaleX(0.6250);-webkit-text-stroke:0.3px #e00000;">H</div>
<div class="t" style="left:971.81px;top:86.00px;font-size:14px;line-height:14px;color:#e00000;font-weight:normal;transform:scaleX(0.5000);-webkit-text-stroke:0.3px #e00000;">1</div>
<div class="t" style="left:976.57px;top:86.00px;font-size:14px;line-height:14px;color:#e00000;font-weight:normal;transform:scaleX(0.8333);-webkit-text-stroke:0.3px #e00000;">8</div>
<div class="t" style="left:982.68px;top:86.00px;font-size:14px;line-height:14px;color:#e00000;font-weight:normal;transform:scaleX(0.8333);-webkit-text-stroke:0.3px #e00000;">5</div>
<div class="t" style="left:990.44px;top:86.00px;font-size:14px;line-height:14px;color:#e00000;font-weight:normal;transform:scaleX(0.8333);-webkit-text-stroke:0.3px #e00000;">.</div>
<div class="t" style="left:994.88px;top:86.00px;font-size:14px;line-height:14px;color:#e00000;font-weight:normal;transform:scaleX(0.8333);-webkit-text-stroke:0.3px #e00000;">8</div>
<div class="t" style="left:1002.31px;top:86.00px;font-size:14px;line-height:14px;color:#e00000;font-weight:normal;transform:scaleX(0.5000);-webkit-text-stroke:0.3px #e00000;">1</div>
<div class="t" style="left:1007.46px;top:86.00px;font-size:14px;line-height:14px;color:#e00000;font-weight:normal;transform:scaleX(0.4545);-webkit-text-stroke:0.3px #e00000;">%</div>
<div class="t tx" style="left:953px;top:88px;font-size:12px;line-height:12px">LH 185.81%</div>
<div class="t" style="left:952.38px;top:98.00px;font-size:14px;line-height:14px;color:#0000e0;font-weight:normal;transform:scaleX(0.6250);-webkit-text-stroke:0.3px #0000e0;">H</div>
<div class="t" style="left:958.27px;top:98.00px;font-size:14px;line-height:14px;color:#0000e0;font-weight:normal;transform:scaleX(0.8333);-webkit-text-stroke:0.3px #0000e0;">L</div>
<div class="t" style="left:969.64px;top:98.00px;font-size:14px;line-height:14px;color:#0000e0;font-weight:normal;transform:scaleX(1.6667);-webkit-text-stroke:0.3px #0000e0;">-</div>
<div class="t" style="left:976.57px;top:98.00px;font-size:14px;line-height:14px;color:#0000e0;font-weight:normal;transform:scaleX(0.8333);-webkit-text-stroke:0.3px #0000e0;">6</div>
<div class="t" style="left:982.68px;top:98.00px;font-size:14px;line-height:14px;color:#0000e0;font-weight:normal;transform:scaleX(0.8333);-webkit-text-stroke:0.3px #0000e0;">5</div>
<div class="t" style="left:990.44px;top:98.00px;font-size:14px;line-height:14px;color:#0000e0;font-weight:normal;transform:scaleX(0.8333);-webkit-text-stroke:0.3px #0000e0;">.</div>
<div class="t" style="left:994.88px;top:98.00px;font-size:14px;line-height:14px;color:#0000e0;font-weight:normal;transform:scaleX(0.8333);-webkit-text-stroke:0.3px #0000e0;">0</div>
<div class="t" style="left:1002.31px;top:98.00px;font-size:14px;line-height:14px;color:#0000e0;font-weight:normal;transform:scaleX(0.5000);-webkit-text-stroke:0.3px #0000e0;">1</div>
<div class="t" style="left:1007.46px;top:98.00px;font-size:14px;line-height:14px;color:#0000e0;font-weight:normal;transform:scaleX(0.4545);-webkit-text-stroke:0.3px #0000e0;">%</div>
<div class="t tx" style="left:953px;top:100px;font-size:12px;line-height:12px">HL -65.01%</div>
<div class="t" style="left:959.17px;top:183.00px;font-size:14px;line-height:14px;color:#000;font-weight:normal;transform:scaleX(0.8333);-webkit-text-stroke:0.3px #000;">3</div>
<div class="t" style="left:965.29px;top:183.00px;font-size:14px;line-height:14px;color:#000;font-weight:normal;transform:scaleX(0.8333);-webkit-text-stroke:0.3px #000;">5</div>
<div class="t" style="left:971.42px;top:183.00px;font-size:14px;line-height:14px;color:#000;font-weight:normal;transform:scaleX(0.8333);-webkit-text-stroke:0.3px #000;">0</div>
<div class="t" style="left:979.22px;top:183.00px;font-size:14px;line-height:14px;color:#000;font-weight:normal;transform:scaleX(0.8333);-webkit-text-stroke:0.3px #000;">.</div>
<div class="t" style="left:983.68px;top:183.00px;font-size:14px;line-height:14px;color:#000;font-weight:normal;transform:scaleX(0.8333);-webkit-text-stroke:0.3px #000;">0</div>
<div class="t" style="left:989.80px;top:183.00px;font-size:14px;line-height:14px;color:#000;font-weight:normal;transform:scaleX(0.8333);-webkit-text-stroke:0.3px #000;">0</div>
<div class="t" style="left:995.93px;top:183.00px;font-size:14px;line-height:14px;color:#000;font-weight:normal;transform:scaleX(0.8333);-webkit-text-stroke:0.3px #000;">0</div>
<div class="t" style="left:1002.06px;top:183.00px;font-size:14px;line-height:14px;color:#000;font-weight:normal;transform:scaleX(0.8333);-webkit-text-stroke:0.3px #000;">0</div>
<div class="t tx" style="left:960px;top:185px;font-size:12px;line-height:12px">350.0000</div>
<div class="t" style="left:959.17px;top:354.00px;font-size:14px;line-height:14px;color:#000;font-weight:normal;transform:scaleX(0.8333);-webkit-text-stroke:0.3px #000;">2</div>
<div class="t" style="left:965.29px;top:354.00px;font-size:14px;line-height:14px;color:#000;font-weight:normal;transform:scaleX(0.8333);-webkit-text-stroke:0.3px #000;">5</div>
<div class="t" style="left:971.42px;top:354.00px;font-size:14px;line-height:14px;color:#000;font-weight:normal;transform:scaleX(0.8333);-webkit-text-stroke:0.3px #000;">0</div>
<div class="t" style="left:979.22px;top:354.00px;font-size:14px;line-height:14px;color:#000;font-weight:normal;transform:scaleX(0.8333);-webkit-text-stroke:0.3px #000;">.</div>
<div class="t" style="left:983.68px;top:354.00px;font-size:14px;line-height:14px;color:#000;font-weight:normal;transform:scaleX(0.8333);-webkit-text-stroke:0.3px #000;">0</div>
<div class="t" style="left:989.80px;top:354.00px;font-size:14px;line-height:14px;color:#000;font-weight:normal;transform:scaleX(0.8333);-webkit-text-stroke:0.3px #000;">0</div>
<div class="t" style="left:995.93px;top:354.00px;font-size:14px;line-height:14px;color:#000;font-weight:normal;transform:scaleX(0.8333);-webkit-text-stroke:0.3px #000;">0</div>
<div class="t" style="left:1002.06px;top:354.00px;font-size:14px;line-height:14px;color:#000;font-weight:normal;transform:scaleX(0.8333);-webkit-text-stroke:0.3px #000;">0</div>
<div class="t tx" style="left:960px;top:356px;font-size:12px;line-height:12px">250.0000</div>
<div class="t" style="left:959.17px;top:439.00px;font-size:14px;line-height:14px;color:#000;font-weight:normal;transform:scaleX(0.8333);-webkit-text-stroke:0.3px #000;">2</div>
<div class="t" style="left:965.29px;top:439.00px;font-size:14px;line-height:14px;color:#000;font-weight:normal;transform:scaleX(0.8333);-webkit-text-stroke:0.3px #000;">0</div>
<div class="t" style="left:971.42px;top:439.00px;font-size:14px;line-height:14px;color:#000;font-weight:normal;transform:scaleX(0.8333);-webkit-text-stroke:0.3px #000;">0</div>
<div class="t" style="left:979.22px;top:439.00px;font-size:14px;line-height:14px;color:#000;font-weight:normal;transform:scaleX(0.8333);-webkit-text-stroke:0.3px #000;">.</div>
<div class="t" style="left:983.68px;top:439.00px;font-size:14px;line-height:14px;color:#000;font-weight:normal;transform:scaleX(0.8333);-webkit-text-stroke:0.3px #000;">0</div>
<div class="t" style="left:989.80px;top:439.00px;font-size:14px;line-height:14px;color:#000;font-weight:normal;transform:scaleX(0.8333);-webkit-text-stroke:0.3px #000;">0</div>
<div class="t" style="left:995.93px;top:439.00px;font-size:14px;line-height:14px;color:#000;font-weight:normal;transform:scaleX(0.8333);-webkit-text-stroke:0.3px #000;">0</div>
<div class="t" style="left:1002.06px;top:439.00px;font-size:14px;line-height:14px;color:#000;font-weight:normal;transform:scaleX(0.8333);-webkit-text-stroke:0.3px #000;">0</div>
<div class="t tx" style="left:960px;top:441px;font-size:12px;line-height:12px">200.0000</div>
<div class="t" style="left:959.46px;top:524.00px;font-size:14px;line-height:14px;color:#000;font-weight:normal;transform:scaleX(0.5000);-webkit-text-stroke:0.3px #000;">1</div>
<div class="t" style="left:964.38px;top:524.00px;font-size:14px;line-height:14px;color:#000;font-weight:normal;transform:scaleX(0.8333);-webkit-text-stroke:0.3px #000;">5</div>
<div class="t" style="left:970.64px;top:524.00px;font-size:14px;line-height:14px;color:#000;font-weight:normal;transform:scaleX(0.8333);-webkit-text-stroke:0.3px #000;">0</div>
<div class="t" style="left:978.57px;top:524.00px;font-size:14px;line-height:14px;color:#000;font-weight:normal;transform:scaleX(0.8333);-webkit-text-stroke:0.3px #000;">.</div>
<div class="t" style="left:983.17px;top:524.00px;font-size:14px;line-height:14px;color:#000;font-weight:normal;transform:scaleX(0.8333);-webkit-text-stroke:0.3px #000;">0</div>
<div class="t" style="left:989.43px;top:524.00px;font-size:14px;line-height:14px;color:#000;font-weight:normal;transform:scaleX(0.8333);-webkit-text-stroke:0.3px #000;">0</div>
<div class="t" style="left:995.69px;top:524.00px;font-size:14px;line-height:14px;color:#000;font-weight:normal;transform:scaleX(0.8333);-webkit-text-stroke:0.3px #000;">0</div>
<div class="t" style="left:1001.95px;top:524.00px;font-size:14px;line-height:14px;color:#000;font-weight:normal;transform:scaleX(0.8333);-webkit-text-stroke:0.3px #000;">0</div>
<div class="t tx" style="left:960px;top:526px;font-size:12px;line-height:12px">150.0000</div>
<div class="t" style="left:957.00px;top:262.00px;font-size:12.5px;line-height:12.5px;color:#fff;font-weight:normal;transform:scaleX(1.0000);-webkit-text-stroke:0.3px #fff;">3</div>
<div class="t" style="left:963.13px;top:262.00px;font-size:12.5px;line-height:12.5px;color:#fff;font-weight:normal;transform:scaleX(1.0000);-webkit-text-stroke:0.3px #fff;">0</div>
<div class="t" style="left:970.26px;top:262.00px;font-size:12.5px;line-height:12.5px;color:#fff;font-weight:normal;transform:scaleX(0.7143);-webkit-text-stroke:0.3px #fff;">4</div>
<div class="t" style="left:977.38px;top:262.00px;font-size:12.5px;line-height:12.5px;color:#fff;font-weight:normal;transform:scaleX(1.0000);-webkit-text-stroke:0.3px #fff;">.</div>
<div class="t" style="left:981.51px;top:262.00px;font-size:12.5px;line-height:12.5px;color:#fff;font-weight:normal;transform:scaleX(1.0000);-webkit-text-stroke:0.3px #fff;">9</div>
<div class="t" style="left:987.64px;top:262.00px;font-size:12.5px;line-height:12.5px;color:#fff;font-weight:normal;transform:scaleX(1.0000);-webkit-text-stroke:0.3px #fff;">6</div>
<div class="t" style="left:993.77px;top:262.00px;font-size:12.5px;line-height:12.5px;color:#fff;font-weight:normal;transform:scaleX(1.0000);-webkit-text-stroke:0.3px #fff;">0</div>
<div class="t" style="left:999.89px;top:262.00px;font-size:12.5px;line-height:12.5px;color:#fff;font-weight:normal;transform:scaleX(1.0000);-webkit-text-stroke:0.3px #fff;">0</div>
<div class="t tx" style="left:958px;top:263px;font-size:12px;line-height:12px">304.9600</div>
<div class="t" style="left:957.30px;top:275.00px;font-size:14px;line-height:14px;color:#fff;font-weight:normal;transform:scaleX(0.8333);-webkit-text-stroke:0.3px #fff;">(</div>
<div class="t" style="left:960.57px;top:275.00px;font-size:14px;line-height:14px;color:#fff;font-weight:normal;transform:scaleX(1.6667);-webkit-text-stroke:0.3px #fff;">-</div>
<div class="t" style="left:969.10px;top:275.00px;font-size:14px;line-height:14px;color:#fff;font-weight:normal;transform:scaleX(0.5000);-webkit-text-stroke:0.3px #fff;">1</div>
<div class="t" style="left:975.46px;top:275.00px;font-size:14px;line-height:14px;color:#fff;font-weight:normal;transform:scaleX(0.5000);-webkit-text-stroke:0.3px #fff;">1</div>
<div class="t" style="left:982.15px;top:275.00px;font-size:14px;line-height:14px;color:#fff;font-weight:normal;transform:scaleX(0.8333);-webkit-text-stroke:0.3px #fff;">.</div>
<div class="t" style="left:988.18px;top:275.00px;font-size:14px;line-height:14px;color:#fff;font-weight:normal;transform:scaleX(0.5000);-webkit-text-stroke:0.3px #fff;">1</div>
<div class="t" style="left:993.21px;top:275.00px;font-size:14px;line-height:14px;color:#fff;font-weight:normal;transform:scaleX(0.8333);-webkit-text-stroke:0.3px #fff;">0</div>
<div class="t" style="left:999.95px;top:275.00px;font-size:14px;line-height:14px;color:#fff;font-weight:normal;transform:scaleX(0.4545);-webkit-text-stroke:0.3px #fff;">%</div>
<div class="t" style="left:1007.59px;top:275.00px;font-size:14px;line-height:14px;color:#fff;font-weight:normal;transform:scaleX(0.8333);-webkit-text-stroke:0.3px #fff;">)</div>
<div class="t tx" style="left:958px;top:276px;font-size:12px;line-height:12px">(-11.10%)</div>
<div class="b" style="left:14px;top:595px;width:3px;height:7px;background:#000;"></div>
<svg class="b" style="left:0;top:0;overflow:visible" width="1" height="1"><path d="M22 593h4v1h-4zM30 593h1v1h-1zM26 594h1v1h-1zM30 594h1v1h-1zM26 595h1v1h-1zM30 595h1v1h-1zM26 596h1v1h-1zM30 596h1v1h-1zM26 597h5v1h-5zM25 598h2v1h-2zM30 598h1v1h-1zM25 599h1v1h-1zM30 599h1v1h-1zM23 600h2v1h-2zM30 600h1v1h-1zM21 601h3v1h-3zM30 601h1v1h-1zM30 602h1v1h-1zM30 603h1v1h-1zM34 593h4v1h-4zM40 593h1v1h-1zM42 593h1v1h-1zM37 594h1v1h-1zM40 594h1v1h-1zM42 594h1v1h-1zM37 595h1v1h-1zM40 595h1v1h-1zM42 595h1v1h-1zM37 596h1v1h-1zM40 596h1v1h-1zM42 596h1v1h-1zM34 597h4v1h-4zM40 597h1v1h-1zM42 597h1v1h-1zM34 598h1v1h-1zM40 598h3v1h-3zM34 599h1v1h-1zM40 599h1v1h-1zM42 599h1v1h-1zM34 600h1v1h-1zM40 600h1v1h-1zM42 600h1v1h-1zM34 601h1v1h-1zM38 601h1v1h-1zM40 601h1v1h-1zM42 601h1v1h-1zM34 602h4v1h-4zM40 602h1v1h-1zM42 602h1v1h-1zM40 603h1v1h-1zM42 603h1v1h-1zM47 593h5v1h-5zM54 593h1v1h-1zM51 594h1v1h-1zM54 594h1v1h-1zM47 595h5v1h-5zM54 595h3v1h-3zM47 596h1v1h-1zM54 596h1v1h-1zM47 597h1v1h-1zM52 597h5v1h-5zM47 598h6v1h-6zM54 598h1v1h-1zM54 599h1v1h-1zM48 600h6v1h-6zM47 601h1v1h-1zM54 601h1v1h-1zM47 602h1v1h-1zM54 602h1v1h-1zM48 603h6v1h-6z" fill="#000" shape-rendering="crispEdges"/></svg>
<div class="t tx" style="left:21px;top:593px;font-size:12px;line-height:12px">거래량</div>
<div class="t" style="left:959.17px;top:604.00px;font-size:14px;line-height:14px;color:#000;font-weight:normal;transform:scaleX(0.8333);-webkit-text-stroke:0.3px #000;">5</div>
<div class="t" style="left:965.31px;top:604.00px;font-size:14px;line-height:14px;color:#000;font-weight:normal;transform:scaleX(0.8333);-webkit-text-stroke:0.3px #000;">0</div>
<div class="t" style="left:972.63px;top:604.00px;font-size:14px;line-height:14px;color:#000;font-weight:normal;transform:scaleX(0.8333);-webkit-text-stroke:0.3px #000;">,</div>
<div class="t" style="left:977.61px;top:604.00px;font-size:14px;line-height:14px;color:#000;font-weight:normal;transform:scaleX(0.8333);-webkit-text-stroke:0.3px #000;">0</div>
<div class="t" style="left:983.75px;top:604.00px;font-size:14px;line-height:14px;color:#000;font-weight:normal;transform:scaleX(0.8333);-webkit-text-stroke:0.3px #000;">0</div>
<div class="t" style="left:989.90px;top:604.00px;font-size:14px;line-height:14px;color:#000;font-weight:normal;transform:scaleX(0.8333);-webkit-text-stroke:0.3px #000;">0</div>
<div class="t" style="left:996.25px;top:604.00px;font-size:14px;line-height:14px;color:#000;font-weight:normal;transform:scaleX(0.6250);-webkit-text-stroke:0.3px #000;">K</div>
<div class="t tx" style="left:960px;top:606px;font-size:12px;line-height:12px">50,000K</div>
<svg class="b" style="left:956px;top:614px" width="44" height="14"><rect x="0" y="0" width="44" height="14" fill="#d40000"/></svg>
<div class="t" style="left:958.00px;top:614.00px;font-size:14px;line-height:14px;color:#fff;font-weight:normal;transform:scaleX(0.7143);-webkit-text-stroke:0.3px #fff;">4</div>
<div class="t" style="left:963.31px;top:614.00px;font-size:14px;line-height:14px;color:#fff;font-weight:normal;transform:scaleX(0.8333);-webkit-text-stroke:0.3px #fff;">2</div>
<div class="t" style="left:970.63px;top:614.00px;font-size:14px;line-height:14px;color:#fff;font-weight:normal;transform:scaleX(0.8333);-webkit-text-stroke:0.3px #fff;">,</div>
<div class="t" style="left:976.94px;top:614.00px;font-size:14px;line-height:14px;color:#fff;font-weight:normal;transform:scaleX(0.5000);-webkit-text-stroke:0.3px #fff;">1</div>
<div class="t" style="left:982.59px;top:614.00px;font-size:14px;line-height:14px;color:#fff;font-weight:normal;transform:scaleX(0.7143);-webkit-text-stroke:0.3px #fff;">4</div>
<div class="t" style="left:987.90px;top:614.00px;font-size:14px;line-height:14px;color:#fff;font-weight:normal;transform:scaleX(0.8333);-webkit-text-stroke:0.3px #fff;">5</div>
<div class="t" style="left:994.25px;top:614.00px;font-size:14px;line-height:14px;color:#fff;font-weight:normal;transform:scaleX(0.6250);-webkit-text-stroke:0.3px #fff;">K</div>
<div class="t tx" style="left:958px;top:616px;font-size:12px;line-height:12px">42,145K</div>
<div class="t" style="left:959.17px;top:636.00px;font-size:14px;line-height:14px;color:#000;font-weight:normal;transform:scaleX(0.8333);-webkit-text-stroke:0.3px #000;">2</div>
<div class="t" style="left:965.31px;top:636.00px;font-size:14px;line-height:14px;color:#000;font-weight:normal;transform:scaleX(0.8333);-webkit-text-stroke:0.3px #000;">5</div>
<div class="t" style="left:972.63px;top:636.00px;font-size:14px;line-height:14px;color:#000;font-weight:normal;transform:scaleX(0.8333);-webkit-text-stroke:0.3px #000;">,</div>
<div class="t" style="left:977.61px;top:636.00px;font-size:14px;line-height:14px;color:#000;font-weight:normal;transform:scaleX(0.8333);-webkit-text-stroke:0.3px #000;">0</div>
<div class="t" style="left:983.75px;top:636.00px;font-size:14px;line-height:14px;color:#000;font-weight:normal;transform:scaleX(0.8333);-webkit-text-stroke:0.3px #000;">0</div>
<div class="t" style="left:989.90px;top:636.00px;font-size:14px;line-height:14px;color:#000;font-weight:normal;transform:scaleX(0.8333);-webkit-text-stroke:0.3px #000;">0</div>
<div class="t" style="left:996.25px;top:636.00px;font-size:14px;line-height:14px;color:#000;font-weight:normal;transform:scaleX(0.6250);-webkit-text-stroke:0.3px #000;">K</div>
<div class="t tx" style="left:960px;top:638px;font-size:12px;line-height:12px">25,000K</div>
<div class="t" style="left:989.17px;top:665.00px;font-size:14px;line-height:14px;color:#000;font-weight:normal;transform:scaleX(0.8333);-webkit-text-stroke:0.3px #000;">0</div>
<div class="t" style="left:995.92px;top:665.00px;font-size:14px;line-height:14px;color:#000;font-weight:normal;transform:scaleX(0.6250);-webkit-text-stroke:0.3px #000;">K</div>
<div class="t tx" style="left:990px;top:667px;font-size:12px;line-height:12px">0K</div>
<div class="t" style="left:11.00px;top:679.00px;font-size:14px;line-height:14px;color:#000;font-weight:bold;transform:scaleX(0.8571);">2</div>
<div class="t" style="left:17.15px;top:679.00px;font-size:14px;line-height:14px;color:#000;font-weight:bold;transform:scaleX(1.0000);">0</div>
<div class="t" style="left:25.29px;top:679.00px;font-size:14px;line-height:14px;color:#000;font-weight:bold;transform:scaleX(0.8571);">2</div>
<div class="t" style="left:31.44px;top:679.00px;font-size:14px;line-height:14px;color:#000;font-weight:bold;transform:scaleX(1.0000);">3</div>
<div class="t" style="left:40.28px;top:679.00px;font-size:14px;line-height:14px;color:#000;font-weight:bold;transform:scaleX(1.1500);">/</div>
<div class="t" style="left:45.73px;top:679.00px;font-size:14px;line-height:14px;color:#000;font-weight:bold;transform:scaleX(1.0000);">0</div>
<div class="t" style="left:52.88px;top:679.00px;font-size:14px;line-height:14px;color:#000;font-weight:bold;transform:scaleX(1.0000);">6</div>
<div class="t tx" style="left:11px;top:681px;font-size:12px;line-height:12px">2023/06</div>
<div class="t" style="left:93.17px;top:679.00px;font-size:14px;line-height:14px;color:#000;font-weight:normal;transform:scaleX(0.8333);-webkit-text-stroke:0.3px #000;">0</div>
<div class="t" style="left:99.17px;top:679.00px;font-size:14px;line-height:14px;color:#000;font-weight:normal;transform:scaleX(0.8333);-webkit-text-stroke:0.3px #000;">8</div>
<div class="t tx" style="left:94px;top:681px;font-size:12px;line-height:12px">08</div>
<div class="t" style="left:173.17px;top:679.00px;font-size:14px;line-height:14px;color:#000;font-weight:normal;transform:scaleX(0.8333);-webkit-text-stroke:0.3px #000;">0</div>
<div class="t" style="left:179.17px;top:679.00px;font-size:14px;line-height:14px;color:#000;font-weight:normal;transform:scaleX(0.8333);-webkit-text-stroke:0.3px #000;">9</div>
<div class="t tx" style="left:174px;top:681px;font-size:12px;line-height:12px">09</div>
<div class="t" style="left:243.40px;top:679.00px;font-size:14px;line-height:14px;color:#000;font-weight:normal;transform:scaleX(0.5000);-webkit-text-stroke:0.3px #000;">1</div>
<div class="t" style="left:248.67px;top:679.00px;font-size:14px;line-height:14px;color:#000;font-weight:normal;transform:scaleX(0.8333);-webkit-text-stroke:0.3px #000;">0</div>
<div class="t tx" style="left:244px;top:681px;font-size:12px;line-height:12px">10</div>
<div class="t" style="left:319.28px;top:679.00px;font-size:14px;line-height:14px;color:#000;font-weight:normal;transform:scaleX(0.5000);-webkit-text-stroke:0.3px #000;">1</div>
<div class="t" style="left:326.61px;top:679.00px;font-size:14px;line-height:14px;color:#000;font-weight:normal;transform:scaleX(0.5000);-webkit-text-stroke:0.3px #000;">1</div>
<div class="t tx" style="left:320px;top:681px;font-size:12px;line-height:12px">11</div>
<div class="t" style="left:392.40px;top:679.00px;font-size:14px;line-height:14px;color:#000;font-weight:normal;transform:scaleX(0.5000);-webkit-text-stroke:0.3px #000;">1</div>
<div class="t" style="left:397.67px;top:679.00px;font-size:14px;line-height:14px;color:#000;font-weight:normal;transform:scaleX(0.8333);-webkit-text-stroke:0.3px #000;">2</div>
<div class="t tx" style="left:393px;top:681px;font-size:12px;line-height:12px">12</div>
<div class="t" style="left:535.17px;top:679.00px;font-size:14px;line-height:14px;color:#000;font-weight:normal;transform:scaleX(0.8333);-webkit-text-stroke:0.3px #000;">0</div>
<div class="t" style="left:541.17px;top:679.00px;font-size:14px;line-height:14px;color:#000;font-weight:normal;transform:scaleX(0.8333);-webkit-text-stroke:0.3px #000;">2</div>
<div class="t tx" style="left:536px;top:681px;font-size:12px;line-height:12px">02</div>
<div class="t" style="left:604.17px;top:679.00px;font-size:14px;line-height:14px;color:#000;font-weight:normal;transform:scaleX(0.8333);-webkit-text-stroke:0.3px #000;">0</div>
<div class="t" style="left:610.17px;top:679.00px;font-size:14px;line-height:14px;color:#000;font-weight:normal;transform:scaleX(0.8333);-webkit-text-stroke:0.3px #000;">3</div>
<div class="t tx" style="left:605px;top:681px;font-size:12px;line-height:12px">03</div>
<div class="t" style="left:674.17px;top:679.00px;font-size:14px;line-height:14px;color:#000;font-weight:normal;transform:scaleX(0.8333);-webkit-text-stroke:0.3px #000;">0</div>
<div class="t" style="left:681.00px;top:679.00px;font-size:14px;line-height:14px;color:#000;font-weight:normal;transform:scaleX(0.7143);-webkit-text-stroke:0.3px #000;">4</div>
<div class="t tx" style="left:675px;top:681px;font-size:12px;line-height:12px">04</div>
<div class="t" style="left:750.17px;top:679.00px;font-size:14px;line-height:14px;color:#000;font-weight:normal;transform:scaleX(0.8333);-webkit-text-stroke:0.3px #000;">0</div>
<div class="t" style="left:756.17px;top:679.00px;font-size:14px;line-height:14px;color:#000;font-weight:normal;transform:scaleX(0.8333);-webkit-text-stroke:0.3px #000;">5</div>
<div class="t tx" style="left:751px;top:681px;font-size:12px;line-height:12px">05</div>
<div class="t" style="left:827.17px;top:679.00px;font-size:14px;line-height:14px;color:#000;font-weight:normal;transform:scaleX(0.8333);-webkit-text-stroke:0.3px #000;">0</div>
<div class="t" style="left:833.17px;top:679.00px;font-size:14px;line-height:14px;color:#000;font-weight:normal;transform:scaleX(0.8333);-webkit-text-stroke:0.3px #000;">6</div>
<div class="t tx" style="left:828px;top:681px;font-size:12px;line-height:12px">06</div>
<div class="t" style="left:893.17px;top:679.00px;font-size:14px;line-height:14px;color:#000;font-weight:normal;transform:scaleX(0.8333);-webkit-text-stroke:0.3px #000;">0</div>
<div class="t" style="left:899.17px;top:679.00px;font-size:14px;line-height:14px;color:#000;font-weight:normal;transform:scaleX(0.8333);-webkit-text-stroke:0.3px #000;">7</div>
<div class="t tx" style="left:894px;top:681px;font-size:12px;line-height:12px">07</div>
<div class="t" style="left:463.00px;top:679.00px;font-size:14px;line-height:14px;color:#000;font-weight:bold;transform:scaleX(0.8571);">2</div>
<div class="t" style="left:469.15px;top:679.00px;font-size:14px;line-height:14px;color:#000;font-weight:bold;transform:scaleX(1.0000);">0</div>
<div class="t" style="left:477.30px;top:679.00px;font-size:14px;line-height:14px;color:#000;font-weight:bold;transform:scaleX(0.8571);">2</div>
<div class="t" style="left:484.45px;top:679.00px;font-size:14px;line-height:14px;color:#000;font-weight:bold;transform:scaleX(0.7500);">4</div>
<div class="t" style="left:492.30px;top:679.00px;font-size:14px;line-height:14px;color:#000;font-weight:bold;transform:scaleX(1.1500);">/</div>
<div class="t" style="left:497.74px;top:679.00px;font-size:14px;line-height:14px;color:#000;font-weight:bold;transform:scaleX(1.0000);">0</div>
<div class="t" style="left:506.23px;top:679.00px;font-size:14px;line-height:14px;color:#000;font-weight:bold;transform:scaleX(0.6667);">1</div>
<div class="t tx" style="left:463px;top:681px;font-size:12px;line-height:12px">2024/01</div>
<div class="t" style="left:958.17px;top:680.00px;font-size:14px;line-height:14px;color:#000;font-weight:normal;transform:scaleX(0.8333);-webkit-text-stroke:0.3px #000;">0</div>
<div class="t" style="left:964.37px;top:680.00px;font-size:14px;line-height:14px;color:#000;font-weight:normal;transform:scaleX(0.8333);-webkit-text-stroke:0.3px #000;">7</div>
<div class="t" style="left:972.00px;top:680.00px;font-size:14px;line-height:14px;color:#000;font-weight:normal;transform:scaleX(0.9583);-webkit-text-stroke:0.3px #000;">/</div>
<div class="t" style="left:978.12px;top:680.00px;font-size:14px;line-height:14px;color:#000;font-weight:normal;transform:scaleX(0.5000);-webkit-text-stroke:0.3px #000;">1</div>
<div class="t" style="left:982.99px;top:680.00px;font-size:14px;line-height:14px;color:#000;font-weight:normal;transform:scaleX(0.8333);-webkit-text-stroke:0.3px #000;">9</div>
<div class="t tx" style="left:959px;top:682px;font-size:12px;line-height:12px">07/19</div>
<div class="b" style="left:7px;top:696px;width:1014px;height:15px;background:#f4f4f4;"></div>
<div class="b" style="left:7px;top:710px;width:1014px;height:1px;background:#c8c8c8;"></div>
<div class="b" style="left:8px;top:697px;width:16px;height:13px;background:#f9f9f9;border:1px solid #d4d4d4;box-sizing:border-box;"></div>
<div class="b" style="left:24px;top:697px;width:16px;height:13px;background:#f9f9f9;border:1px solid #d4d4d4;box-sizing:border-box;"></div>
<svg class="b" style="left:0;top:0;overflow:visible" width="1" height="1"><path d="M12 699h9v1h-9zM16 700h1v1h-1zM16 701h1v1h-1zM14 702h2v1h-2zM17 702h2v1h-2zM12 703h2v1h-2zM19 703h2v1h-2zM11 705h11v1h-11zM16 706h1v1h-1zM16 707h1v1h-1zM16 708h1v1h-1zM16 709h1v1h-1z" fill="#222" shape-rendering="crispEdges"/></svg>
<div class="t tx" style="left:11px;top:699px;font-size:12px;line-height:12px">주</div>
<svg class="b" style="left:0;top:0;overflow:visible" width="1" height="1"><path d="M29 699h4v1h-4zM36 699h1v1h-1zM27 700h7v1h-7zM36 700h1v1h-1zM36 701h1v1h-1zM29 702h4v1h-4zM34 702h3v1h-3zM28 703h1v1h-1zM33 703h1v1h-1zM36 703h1v1h-1zM28 704h1v1h-1zM33 704h4v1h-4zM29 705h4v1h-4zM36 705h1v1h-1zM28 706h1v1h-1zM36 706h1v1h-1zM28 707h1v1h-1zM28 708h9v1h-9z" fill="#222" shape-rendering="crispEdges"/></svg>
<div class="t tx" style="left:27px;top:699px;font-size:12px;line-height:12px">현</div>
<div class="b" style="left:40px;top:697px;width:17px;height:13px;background:#f0f0f0;border-right:1px solid #6a6a6a;border-bottom:2px solid #6a6a6a;border-top:1px solid #fff;border-left:1px solid #fff;box-sizing:border-box;"></div>
<svg class="b" style="left:40px;top:697px" width="17" height="13"><path d="M10 3 L6 6.5 L10 10 Z" fill="#000"/></svg>
<div class="b" style="left:57px;top:697px;width:592px;height:13px;background:#f7f7f7;background-image:repeating-conic-gradient(#ececec 0 25%, #fbfbfb 0 50%);background-size:2px 2px;"></div>
<div class="b" style="left:649px;top:697px;width:91px;height:13px;background:#efefef;border-right:1px solid #6a6a6a;border-bottom:2px solid #6a6a6a;border-top:1px solid #fff;border-left:1px solid #fff;box-sizing:border-box;"></div>
<div class="b" style="left:740px;top:697px;width:17px;height:13px;background:#f0f0f0;border-right:1px solid #6a6a6a;border-bottom:2px solid #6a6a6a;border-top:1px solid #fff;border-left:1px solid #fff;box-sizing:border-box;"></div>
<svg class="b" style="left:740px;top:697px" width="17" height="13"><path d="M7 3 L11 6.5 L7 10 Z" fill="#000"/></svg>
<svg class="b" style="left:758px;top:696px" width="262" height="15" viewBox="758 696 262 15"><g shape-rendering="crispEdges"><rect x="763" y="699" width="61" height="1" fill="#444"/><rect x="764" y="706" width="1" height="3" fill="#444"/><rect x="768" y="707" width="1" height="2" fill="#444"/><rect x="772" y="706" width="1" height="3" fill="#444"/><rect x="776" y="707" width="1" height="2" fill="#444"/><rect x="780" y="706" width="1" height="3" fill="#444"/><rect x="784" y="707" width="1" height="2" fill="#444"/><rect x="788" y="706" width="1" height="3" fill="#444"/><rect x="792" y="707" width="1" height="2" fill="#444"/><rect x="796" y="706" width="1" height="3" fill="#444"/><rect x="800" y="707" width="1" height="2" fill="#444"/><rect x="804" y="706" width="1" height="3" fill="#444"/><rect x="808" y="707" width="1" height="2" fill="#444"/><rect x="812" y="706" width="1" height="3" fill="#444"/><rect x="816" y="707" width="1" height="2" fill="#444"/><rect x="820" y="706" width="1" height="3" fill="#444"/><rect x="824" y="707" width="1" height="2" fill="#444"/></g><path d="M770.5 697.5 H775.5 V702.5 L773 705 L770.5 702.5 Z" fill="#f4f4f4" stroke="#444"/><circle cx="836.5" cy="703" r="5" fill="none" stroke="#444"/><path d="M833.5 703 H839.5" stroke="#444"/><circle cx="852.5" cy="703" r="5" fill="none" stroke="#444"/><path d="M849.5 703 H855.5 M852.5 700 V706" stroke="#444"/><path d="M866 708 L868.5 699 L871 708 M866.5 706 H870.5" stroke="#444" fill="none"/><path d="M881.5 699 V708" stroke="#444" stroke-width="1.2"/><path d="M888 699 L883 703.5 L888 708 Z" fill="#444"/><rect x="897" y="699" width="2" height="9" fill="#444"/><rect x="901" y="699" width="2" height="9" fill="#444"/><path d="M912 699 L917 703.5 L912 708 Z" fill="#444"/><path d="M918.5 699 V708" stroke="#444" stroke-width="1.2"/><g fill="none" stroke="#444" shape-rendering="crispEdges"><rect x="930.5" y="699.5" width="7" height="6"/><path d="M932 702.5 H936"/><rect x="943.5" y="698.5" width="9" height="10"/><rect x="945.5" y="698.5" width="5" height="3"/><rect x="945.5" y="704.5" width="5" height="4"/><rect x="959.5" y="699.5" width="9" height="8"/><path d="M959.5 701.5 H968.5 M961 704.5 H963 M965 704.5 H967 M961 706 H963 M965 706 H967"/><rect x="975.5" y="698.5" width="10" height="10"/><path d="M975.5 706.5 H985.5 M979 706.5 V708.5 M982 706.5 V708.5"/></g><path d="M927 708 L931 704 M927 704 L931 708" stroke="#444"/><path d="M977 704 L979.5 701.5 L981.5 703 L984 700" stroke="#e00000" fill="none"/><g stroke="#444" stroke-width="2.2" stroke-linecap="butt"><path d="M991.00 703.50 L1001.00 703.50"/><path d="M992.46 699.96 L999.54 707.04"/><path d="M996.00 698.50 L996.00 708.50"/><path d="M999.54 699.96 L992.46 707.04"/></g><circle cx="996" cy="703.5" r="3.10" fill="#444"/><circle cx="996" cy="703.5" r="1.40" fill="#f4f4f4"/><g fill="none" stroke="#444" shape-rendering="crispEdges"><path d="M1007.5 701 V698.5 H1010 M1014 698.5 H1016.5 V701 M1016.5 705 V707.5 H1014 M1010 707.5 H1007.5 V705"/><rect x="1009.5" y="700.5" width="5" height="5"/></g></svg>
</body></html>
